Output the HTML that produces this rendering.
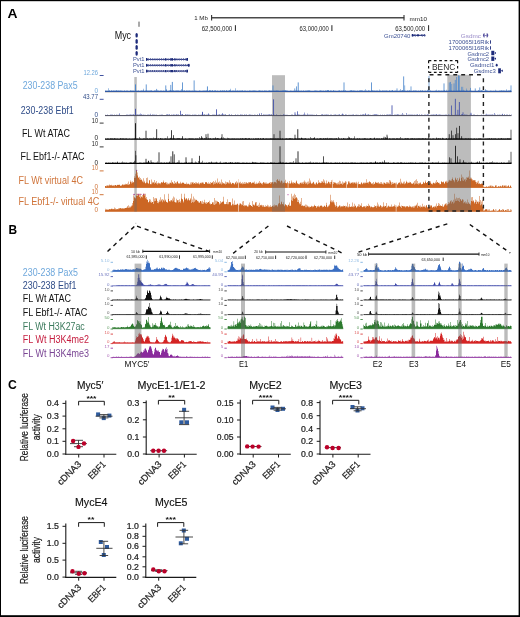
<!DOCTYPE html>
<html><head><meta charset="utf-8"><title>Figure</title>
<style>html,body{margin:0;padding:0;background:#fff;}svg{display:block;filter:blur(0.3px);}text{font-family:"Liberation Sans",sans-serif;}</style>
</head><body>
<svg width="520" height="617" viewBox="0 0 520 617">
<rect x="0" y="0" width="520" height="617" fill="#000"/>
<rect x="1.0" y="1.2" width="517.6" height="614.0" fill="#fff"/>
<text x="7.60" y="17.70" font-size="13.5" fill="#000" font-weight="bold" textLength="10.00" lengthAdjust="spacingAndGlyphs" >A</text>
<text x="194.30" y="20.20" font-size="6.2" fill="#222" textLength="13.50" lengthAdjust="spacingAndGlyphs" >1 Mb</text>
<line x1="211.30" y1="17.70" x2="404.20" y2="17.70" stroke="#4a4a4a" stroke-width="1.6" />
<line x1="211.60" y1="15.00" x2="211.60" y2="20.50" stroke="#333" stroke-width="1.1" />
<line x1="404.00" y1="15.00" x2="404.00" y2="20.50" stroke="#333" stroke-width="1.1" />
<text x="409.60" y="21.00" font-size="6.2" fill="#222" textLength="17.40" lengthAdjust="spacingAndGlyphs" >mm10</text>
<text x="201.70" y="30.70" font-size="6.3" fill="#222" textLength="30.50" lengthAdjust="spacingAndGlyphs" >62,500,000</text>
<line x1="235.40" y1="25.20" x2="235.40" y2="31.00" stroke="#222" stroke-width="1.0" />
<text x="299.50" y="30.70" font-size="6.3" fill="#222" textLength="29.30" lengthAdjust="spacingAndGlyphs" >63,000,000</text>
<line x1="331.90" y1="25.20" x2="331.90" y2="31.00" stroke="#222" stroke-width="1.0" />
<text x="395.30" y="30.70" font-size="6.3" fill="#222" textLength="29.90" lengthAdjust="spacingAndGlyphs" >63,500,000</text>
<line x1="428.60" y1="25.20" x2="428.60" y2="31.00" stroke="#222" stroke-width="1.0" />
<line x1="139.00" y1="21.60" x2="139.00" y2="26.80" stroke="#555" stroke-width="1.0" />
<text x="114.70" y="38.50" font-size="10" fill="#111" textLength="16.40" lengthAdjust="spacingAndGlyphs" >Myc</text>
<rect x="135.5" y="33.0" width="2.3" height="4.6" rx="1.1" ry="1.6" fill="#1c2a7a"/>
<rect x="135.5" y="39.0" width="2.3" height="4.8" rx="1.1" ry="1.6" fill="#1c2a7a"/>
<rect x="135.5" y="45.0" width="2.3" height="4.8" rx="1.1" ry="1.6" fill="#1c2a7a"/>
<rect x="135.5" y="51.0" width="2.3" height="4.7" rx="1.1" ry="1.6" fill="#1c2a7a"/>
<text x="133.00" y="61.40" font-size="6.0" fill="#3d5194" textLength="11.60" lengthAdjust="spacingAndGlyphs" >Pvt1</text>
<line x1="146.00" y1="59.40" x2="188.00" y2="59.40" stroke="#1c2a7a" stroke-width="0.9" />
<path d="M148.50,58.30L147.50,59.40L148.50,60.50" stroke="#1c2a7a" stroke-width="0.75" fill="none"/>
<path d="M150.70,58.30L149.70,59.40L150.70,60.50" stroke="#1c2a7a" stroke-width="0.75" fill="none"/>
<path d="M152.90,58.30L151.90,59.40L152.90,60.50" stroke="#1c2a7a" stroke-width="0.75" fill="none"/>
<path d="M155.10,58.30L154.10,59.40L155.10,60.50" stroke="#1c2a7a" stroke-width="0.75" fill="none"/>
<path d="M157.30,58.30L156.30,59.40L157.30,60.50" stroke="#1c2a7a" stroke-width="0.75" fill="none"/>
<path d="M159.50,58.30L158.50,59.40L159.50,60.50" stroke="#1c2a7a" stroke-width="0.75" fill="none"/>
<path d="M161.70,58.30L160.70,59.40L161.70,60.50" stroke="#1c2a7a" stroke-width="0.75" fill="none"/>
<path d="M163.90,58.30L162.90,59.40L163.90,60.50" stroke="#1c2a7a" stroke-width="0.75" fill="none"/>
<path d="M166.10,58.30L165.10,59.40L166.10,60.50" stroke="#1c2a7a" stroke-width="0.75" fill="none"/>
<path d="M168.30,58.30L167.30,59.40L168.30,60.50" stroke="#1c2a7a" stroke-width="0.75" fill="none"/>
<path d="M170.50,58.30L169.50,59.40L170.50,60.50" stroke="#1c2a7a" stroke-width="0.75" fill="none"/>
<path d="M172.70,58.30L171.70,59.40L172.70,60.50" stroke="#1c2a7a" stroke-width="0.75" fill="none"/>
<path d="M174.90,58.30L173.90,59.40L174.90,60.50" stroke="#1c2a7a" stroke-width="0.75" fill="none"/>
<path d="M177.10,58.30L176.10,59.40L177.10,60.50" stroke="#1c2a7a" stroke-width="0.75" fill="none"/>
<path d="M179.30,58.30L178.30,59.40L179.30,60.50" stroke="#1c2a7a" stroke-width="0.75" fill="none"/>
<path d="M181.50,58.30L180.50,59.40L181.50,60.50" stroke="#1c2a7a" stroke-width="0.75" fill="none"/>
<path d="M183.70,58.30L182.70,59.40L183.70,60.50" stroke="#1c2a7a" stroke-width="0.75" fill="none"/>
<path d="M185.90,58.30L184.90,59.40L185.90,60.50" stroke="#1c2a7a" stroke-width="0.75" fill="none"/>
<rect x="146.00" y="58.00" width="1.40" height="2.80" fill="#1c2a7a" />
<rect x="165.00" y="58.30" width="1.20" height="2.20" fill="#1c2a7a" />
<rect x="170.50" y="58.30" width="2.50" height="2.20" fill="#1c2a7a" />
<rect x="174.50" y="58.40" width="1.00" height="2.00" fill="#1c2a7a" />
<rect x="186.40" y="58.00" width="1.60" height="2.80" fill="#1c2a7a" />
<text x="133.00" y="67.30" font-size="6.0" fill="#3d5194" textLength="11.60" lengthAdjust="spacingAndGlyphs" >Pvt1</text>
<line x1="146.00" y1="65.30" x2="189.60" y2="65.30" stroke="#1c2a7a" stroke-width="0.9" />
<path d="M148.50,64.20L147.50,65.30L148.50,66.40" stroke="#1c2a7a" stroke-width="0.75" fill="none"/>
<path d="M150.70,64.20L149.70,65.30L150.70,66.40" stroke="#1c2a7a" stroke-width="0.75" fill="none"/>
<path d="M152.90,64.20L151.90,65.30L152.90,66.40" stroke="#1c2a7a" stroke-width="0.75" fill="none"/>
<path d="M155.10,64.20L154.10,65.30L155.10,66.40" stroke="#1c2a7a" stroke-width="0.75" fill="none"/>
<path d="M157.30,64.20L156.30,65.30L157.30,66.40" stroke="#1c2a7a" stroke-width="0.75" fill="none"/>
<path d="M159.50,64.20L158.50,65.30L159.50,66.40" stroke="#1c2a7a" stroke-width="0.75" fill="none"/>
<path d="M161.70,64.20L160.70,65.30L161.70,66.40" stroke="#1c2a7a" stroke-width="0.75" fill="none"/>
<path d="M163.90,64.20L162.90,65.30L163.90,66.40" stroke="#1c2a7a" stroke-width="0.75" fill="none"/>
<path d="M166.10,64.20L165.10,65.30L166.10,66.40" stroke="#1c2a7a" stroke-width="0.75" fill="none"/>
<path d="M168.30,64.20L167.30,65.30L168.30,66.40" stroke="#1c2a7a" stroke-width="0.75" fill="none"/>
<path d="M170.50,64.20L169.50,65.30L170.50,66.40" stroke="#1c2a7a" stroke-width="0.75" fill="none"/>
<path d="M172.70,64.20L171.70,65.30L172.70,66.40" stroke="#1c2a7a" stroke-width="0.75" fill="none"/>
<path d="M174.90,64.20L173.90,65.30L174.90,66.40" stroke="#1c2a7a" stroke-width="0.75" fill="none"/>
<path d="M177.10,64.20L176.10,65.30L177.10,66.40" stroke="#1c2a7a" stroke-width="0.75" fill="none"/>
<path d="M179.30,64.20L178.30,65.30L179.30,66.40" stroke="#1c2a7a" stroke-width="0.75" fill="none"/>
<path d="M181.50,64.20L180.50,65.30L181.50,66.40" stroke="#1c2a7a" stroke-width="0.75" fill="none"/>
<path d="M183.70,64.20L182.70,65.30L183.70,66.40" stroke="#1c2a7a" stroke-width="0.75" fill="none"/>
<path d="M185.90,64.20L184.90,65.30L185.90,66.40" stroke="#1c2a7a" stroke-width="0.75" fill="none"/>
<path d="M188.10,64.20L187.10,65.30L188.10,66.40" stroke="#1c2a7a" stroke-width="0.75" fill="none"/>
<rect x="146.00" y="63.90" width="1.40" height="2.80" fill="#1c2a7a" />
<rect x="165.00" y="64.20" width="1.20" height="2.20" fill="#1c2a7a" />
<rect x="170.50" y="64.20" width="2.50" height="2.20" fill="#1c2a7a" />
<rect x="174.50" y="64.30" width="1.00" height="2.00" fill="#1c2a7a" />
<rect x="188.00" y="63.90" width="1.60" height="2.80" fill="#1c2a7a" />
<text x="133.00" y="73.10" font-size="6.0" fill="#3d5194" textLength="11.60" lengthAdjust="spacingAndGlyphs" >Pvt1</text>
<line x1="146.00" y1="71.10" x2="188.00" y2="71.10" stroke="#1c2a7a" stroke-width="0.9" />
<path d="M148.50,70.00L147.50,71.10L148.50,72.20" stroke="#1c2a7a" stroke-width="0.75" fill="none"/>
<path d="M150.70,70.00L149.70,71.10L150.70,72.20" stroke="#1c2a7a" stroke-width="0.75" fill="none"/>
<path d="M152.90,70.00L151.90,71.10L152.90,72.20" stroke="#1c2a7a" stroke-width="0.75" fill="none"/>
<path d="M155.10,70.00L154.10,71.10L155.10,72.20" stroke="#1c2a7a" stroke-width="0.75" fill="none"/>
<path d="M157.30,70.00L156.30,71.10L157.30,72.20" stroke="#1c2a7a" stroke-width="0.75" fill="none"/>
<path d="M159.50,70.00L158.50,71.10L159.50,72.20" stroke="#1c2a7a" stroke-width="0.75" fill="none"/>
<path d="M161.70,70.00L160.70,71.10L161.70,72.20" stroke="#1c2a7a" stroke-width="0.75" fill="none"/>
<path d="M163.90,70.00L162.90,71.10L163.90,72.20" stroke="#1c2a7a" stroke-width="0.75" fill="none"/>
<path d="M166.10,70.00L165.10,71.10L166.10,72.20" stroke="#1c2a7a" stroke-width="0.75" fill="none"/>
<path d="M168.30,70.00L167.30,71.10L168.30,72.20" stroke="#1c2a7a" stroke-width="0.75" fill="none"/>
<path d="M170.50,70.00L169.50,71.10L170.50,72.20" stroke="#1c2a7a" stroke-width="0.75" fill="none"/>
<path d="M172.70,70.00L171.70,71.10L172.70,72.20" stroke="#1c2a7a" stroke-width="0.75" fill="none"/>
<path d="M174.90,70.00L173.90,71.10L174.90,72.20" stroke="#1c2a7a" stroke-width="0.75" fill="none"/>
<path d="M177.10,70.00L176.10,71.10L177.10,72.20" stroke="#1c2a7a" stroke-width="0.75" fill="none"/>
<path d="M179.30,70.00L178.30,71.10L179.30,72.20" stroke="#1c2a7a" stroke-width="0.75" fill="none"/>
<path d="M181.50,70.00L180.50,71.10L181.50,72.20" stroke="#1c2a7a" stroke-width="0.75" fill="none"/>
<path d="M183.70,70.00L182.70,71.10L183.70,72.20" stroke="#1c2a7a" stroke-width="0.75" fill="none"/>
<path d="M185.90,70.00L184.90,71.10L185.90,72.20" stroke="#1c2a7a" stroke-width="0.75" fill="none"/>
<rect x="146.00" y="69.70" width="1.40" height="2.80" fill="#1c2a7a" />
<rect x="165.00" y="70.00" width="1.20" height="2.20" fill="#1c2a7a" />
<rect x="170.50" y="70.00" width="2.50" height="2.20" fill="#1c2a7a" />
<rect x="174.50" y="70.10" width="1.00" height="2.00" fill="#1c2a7a" />
<rect x="186.40" y="69.70" width="1.60" height="2.80" fill="#1c2a7a" />
<text x="384.00" y="37.60" font-size="6.0" fill="#3d5194" textLength="26.40" lengthAdjust="spacingAndGlyphs" >Gm20740</text>
<line x1="411.80" y1="35.30" x2="425.60" y2="35.30" stroke="#1c2a7a" stroke-width="1.0" />
<rect x="411.80" y="34.00" width="1.60" height="2.60" fill="#1c2a7a" />
<path d="M416.4,35.3L418.0,33.9L419.6,35.3L418.0,36.7Z" fill="#1c2a7a"/>
<path d="M415.40,34.0L414.20,35.3L415.40,36.6" stroke="#1c2a7a" stroke-width="0.8" fill="none"/>
<path d="M422.40,34.0L421.20,35.3L422.40,36.6" stroke="#1c2a7a" stroke-width="0.8" fill="none"/>
<path d="M424.80,34.0L423.60,35.3L424.80,36.6" stroke="#1c2a7a" stroke-width="0.8" fill="none"/>
<text x="460.80" y="37.60" font-size="6.0" fill="#9a8cc8" textLength="20.20" lengthAdjust="spacingAndGlyphs" >Gsdmc</text>
<path d="M484.6,33.3L483.9,33.3Q481.9,35.35 483.9,37.4L484.6,37.4Z M486.6,33.3L487.3,33.3Q489.3,35.35 487.3,37.4L486.6,37.4Z" fill="#55509f"/>
<rect x="484.60" y="35.00" width="2.00" height="0.70" fill="#55509f" />
<text x="448.60" y="43.80" font-size="6.0" fill="#3d5194" textLength="40.40" lengthAdjust="spacingAndGlyphs" >1700065I16Rik</text>
<rect x="490.00" y="40.30" width="0.90" height="3.40" fill="#1c2a7a" />
<text x="448.60" y="49.70" font-size="6.0" fill="#3d5194" textLength="40.40" lengthAdjust="spacingAndGlyphs" >1700065I16Rik</text>
<rect x="490.00" y="46.20" width="0.90" height="3.40" fill="#1c2a7a" />
<text x="467.50" y="55.60" font-size="6.0" fill="#3d5194" textLength="21.50" lengthAdjust="spacingAndGlyphs" >Gsdmc2</text>
<rect x="491.30" y="50.80" width="3.00" height="4.40" fill="#1c2a7a" />
<path d="M494.2,53.00L496.0,51.90L496.0,54.10Z" fill="#1c2a7a"/>
<text x="467.50" y="61.30" font-size="6.0" fill="#3d5194" textLength="21.50" lengthAdjust="spacingAndGlyphs" >Gsdmc2</text>
<rect x="491.30" y="56.50" width="3.00" height="4.40" fill="#1c2a7a" />
<path d="M494.2,58.70L496.0,57.60L496.0,59.80Z" fill="#1c2a7a"/>
<text x="470.00" y="67.20" font-size="6.0" fill="#3d5194" textLength="24.40" lengthAdjust="spacingAndGlyphs" >Gsdmcl1</text>
<ellipse cx="496.7" cy="65.2" rx="1.0" ry="1.4" fill="#1c2a7a"/>
<text x="473.70" y="73.40" font-size="6.0" fill="#3d5194" textLength="22.10" lengthAdjust="spacingAndGlyphs" >Gsdmc3</text>
<rect x="498.20" y="68.30" width="2.70" height="5.00" fill="#1c2a7a" />
<path d="M500.8,70.8L502.8,69.6L502.8,72.0Z" fill="#1c2a7a"/>
<line x1="428.60" y1="60.60" x2="457.80" y2="60.60" stroke="#111" stroke-width="1.2" stroke-dasharray="2.7,2.6" />
<line x1="428.60" y1="72.40" x2="457.80" y2="72.40" stroke="#111" stroke-width="1.2" stroke-dasharray="2.7,2.6" />
<line x1="428.60" y1="60.60" x2="428.60" y2="72.40" stroke="#111" stroke-width="1.2" stroke-dasharray="2.7,2.6" />
<line x1="457.60" y1="60.60" x2="457.60" y2="72.40" stroke="#111" stroke-width="1.2" stroke-dasharray="2.7,2.6" />
<text x="432.00" y="70.00" font-size="8.9" fill="#2a2a2a" textLength="23.40" lengthAdjust="spacingAndGlyphs" >BENC</text>
<text x="22.70" y="88.90" font-size="10" fill="#6fa8dc" textLength="54.90" lengthAdjust="spacingAndGlyphs" >230-238 Pax5</text>
<text x="20.65" y="113.60" font-size="10" fill="#2f4c88" textLength="53.10" lengthAdjust="spacingAndGlyphs" >230-238 Ebf1</text>
<text x="21.90" y="136.50" font-size="10" fill="#111" textLength="48.10" lengthAdjust="spacingAndGlyphs" >FL Wt ATAC</text>
<text x="20.50" y="160.30" font-size="10" fill="#111" textLength="64.10" lengthAdjust="spacingAndGlyphs" >FL Ebf1-/- ATAC</text>
<text x="18.50" y="184.30" font-size="10" fill="#d0743a" textLength="64.50" lengthAdjust="spacingAndGlyphs" >FL Wt virtual 4C</text>
<text x="18.50" y="205.40" font-size="10" fill="#d0743a" textLength="80.80" lengthAdjust="spacingAndGlyphs" >FL Ebf1-/- virtual 4C</text>
<text x="98.00" y="74.90" font-size="6.8" fill="#6fa8dc" text-anchor="end" textLength="14.60" lengthAdjust="spacingAndGlyphs" >12.26</text>
<line x1="99.70" y1="75.50" x2="103.60" y2="75.50" stroke="#2b3f95" stroke-width="0.9" />
<text x="98.00" y="92.60" font-size="6.8" fill="#6fa8dc" text-anchor="end" textLength="3.60" lengthAdjust="spacingAndGlyphs" >0</text>
<text x="98.00" y="98.70" font-size="6.8" fill="#2f4c88" text-anchor="end" textLength="15.00" lengthAdjust="spacingAndGlyphs" >43.77</text>
<line x1="99.70" y1="99.30" x2="103.60" y2="99.30" stroke="#2b3f95" stroke-width="0.9" />
<text x="98.00" y="116.50" font-size="6.8" fill="#2f4c88" text-anchor="end" textLength="3.60" lengthAdjust="spacingAndGlyphs" >0</text>
<text x="98.00" y="122.50" font-size="6.8" fill="#222" text-anchor="end" textLength="6.20" lengthAdjust="spacingAndGlyphs" >10</text>
<line x1="99.70" y1="123.10" x2="103.60" y2="123.10" stroke="#222" stroke-width="0.9" />
<text x="98.00" y="140.40" font-size="6.8" fill="#222" text-anchor="end" textLength="3.60" lengthAdjust="spacingAndGlyphs" >0</text>
<text x="98.00" y="146.30" font-size="6.8" fill="#222" text-anchor="end" textLength="6.20" lengthAdjust="spacingAndGlyphs" >10</text>
<line x1="99.70" y1="146.90" x2="103.60" y2="146.90" stroke="#222" stroke-width="0.9" />
<text x="98.00" y="164.50" font-size="6.8" fill="#222" text-anchor="end" textLength="3.60" lengthAdjust="spacingAndGlyphs" >0</text>
<text x="98.00" y="170.30" font-size="6.8" fill="#d0743a" text-anchor="end" textLength="6.20" lengthAdjust="spacingAndGlyphs" >10</text>
<line x1="99.70" y1="170.90" x2="103.60" y2="170.90" stroke="#cc6624" stroke-width="0.9" />
<text x="98.00" y="188.50" font-size="6.8" fill="#d0743a" text-anchor="end" textLength="3.60" lengthAdjust="spacingAndGlyphs" >0</text>
<text x="98.00" y="194.10" font-size="6.8" fill="#d0743a" text-anchor="end" textLength="6.20" lengthAdjust="spacingAndGlyphs" >10</text>
<line x1="99.70" y1="194.70" x2="103.60" y2="194.70" stroke="#cc6624" stroke-width="0.9" />
<text x="98.00" y="212.40" font-size="6.8" fill="#d0743a" text-anchor="end" textLength="3.60" lengthAdjust="spacingAndGlyphs" >0</text>
<rect x="134.30" y="77.00" width="2.50" height="89.00" fill="#bcbcbc" />
<rect x="272.00" y="75.20" width="13.00" height="90.80" fill="#bcbcbc" />
<rect x="447.30" y="74.80" width="23.60" height="91.20" fill="#bcbcbc" />
<path d="M105 91.4V90.9H105.5V90.4H106V90.8H106.5V91.2H107V90.7H107.5V91.3H108.5V88.3H109V90.3H109.5V90.7H110V91.4H110.5V91.3H111V90H111.5V90.9H112V90.8H112.5V90.9H113.5V90.3H114V90.5H114.5V91.1H115.5V90.6H116V90.5H116.5V90.3H117V91.4H117.5V90.4H118V90.3H118.5V91.3H119V90.5H119.5V91.3H120V90.3H120.5V91.3H121.5V90.5H122V90.8H122.5V91.2H123V91.3H124V91.2H124.5V90.3H125V91.1H125.5V91.2H126V90.5H126.5V91.3H127V91.2H127.5V90.6H128V91.1H128.5V91.3H129V91.1H129.5V91H130V90.3H130.5V90.8H131V91.2H131.5V90.4H132V91.1H132.5V90.6H133V91.2H133.5V90.4H134V90.9H134.5V91.4H135V91.1H136V90.7H136.5V91.2H137V91.3H137.5V90.8H138V90.7H138.5V90.4H139V91.4H139.5V90.9H140V91.2H140.5V90.8H141V91H141.5V90.3H142V90.6H142.5V91.2H143V90.4H143.5V88.8H144V90.9H144.5V91H145V91.3H145.5V90.6H146.5V90.5H147V91H147.5V90.4H148V90.9H148.5V90.5H149V90.7H149.5V90.8H150V91.3H150.5V90.3H151V90.6H152V90.9H152.5V91.3H153V91.4H153.5V90.9H154V90.6H154.5V90.7H155V90.4H155.5V90.7H156V91.2H156.5V90.7H157V90.4H157.5V90.7H158V90.9H158.5V90.4H159V91H159.5V91.1H160V90.9H160.5V90.5H161V90.4H161.5V91.2H162V91.1H162.5V90.9H163.5V90.5H164V90.9H164.5V91.4H165.5V90.8H166V90.2H166.5V88.9H167V91.1H167.5V91.3H168V90.9H168.5V90.7H169V90.3H169.5V91.2H170V90.1H170.5V90.6H171V91.1H171.5V90.6H172V90.7H172.5V91H173V90.4H174V91.3H174.5V90.7H175V91H175.5V90.4H176.5V90.7H177V90.6H177.5V90.7H178V91.2H178.5V90.3H179V90.8H179.5V91H180V90.5H180.5V91.3H181V90.8H181.5V88.9H182V91.3H182.5V91.2H183V90.5H183.5V91.2H184V90.6H185V90.9H185.5V91.3H186V90.8H186.5V90.6H187V90.8H188V91H188.5V90.4H189V90.5H189.5V90.8H190V91.2H190.5V90.8H191V91.4H191.5V90.8H192V90.5H192.5V90.9H193V91.3H193.5V90.9H194V90.4H194.5V90.9H195.5V90.4H196V91.1H196.5V90.7H197V91.3H197.5V91.4H198V91.2H198.5V91H199V90.7H199.5V90.6H200V90.8H200.5V91.2H201V90.9H202V91.2H202.5V90.7H203V90.8H203.5V90.7H204V91.1H204.5V90.5H205V91.1H205.5V90.4H206V90.3H206.5V91.3H207V90.6H207.5V91.3H208V90.9H208.5V91.3H209V90.2H209.5V90.6H210V90.3H210.5V90.8H211.5V91.2H212V89.9H212.5V90.8H213V91.2H214V90.3H214.5V91.3H215V90.4H215.5V90.6H216V90.9H217V91.4H217.5V90.5H218V90.9H218.5V91H219V91.2H219.5V91.4H220V90.5H221V91H221.5V90.8H222V90.5H222.5V90.4H223V90.5H223.5V91H224V90.4H224.5V90.6H225V91H225.5V91.3H226V90H226.5V90.7H227V91.1H227.5V90.7H228.5V90.8H229V90.3H229.5V90.6H230V88.8H230.5V90.6H231V91H231.5V91.2H232V91.3H232.5V90.4H233V90.8H234V90.7H234.5V91.3H235V88.3H235.5V91.2H236.5V90.7H237V90.4H237.5V90.8H238V91H238.5V90.7H239V91.1H239.5V90.5H240V91.4H240.5V90.6H241V90.4H241.5V91.3H242V90.4H243V90.9H243.5V91.1H244V90.4H244.5V90.9H245V90.5H245.5V91.3H246V90.9H246.5V91.3H247.5V90.7H248V91.1H248.5V90.9H249V90.8H249.5V90.4H250V91.1H250.5V90.4H251V90.7H251.5V91.1H252V90.8H252.5V90.7H253V91.2H253.5V90.3H254.5V91.1H255V90.7H255.5V90.8H256V91.3H256.5V90.8H257V91H257.5V91.2H258V90.6H258.5V91.3H259V90.5H259.5V90.6H260V90.9H260.5V90.5H261V90.7H261.5V91H262V90.6H262.5V90.9H263V91.3H264V90.8H264.5V90.6H265V90.5H265.5V91.2H266V91.3H266.5V90.6H267V91.1H267.5V91H268.5V90.6H269V90.4H270V90.5H270.5V91.1H271V90.4H271.5V91.1H272V91H273V91.2H273.5V90.5H274.5V91.2H275V90.4H275.5V91.4H276V90.8H276.5V90.3H277V90.5H277.5V90.8H278V91.3H278.5V90.6H279V91.3H279.5V91.2H280V90.7H280.5V91.2H281V90.8H281.5V91H282V90.3H282.5V90.9H283V90.6H283.5V90.4H284V90.5H285.5V90.3H286V90.8H286.5V90.5H287V90.9H287.5V90.6H288V91H288.5V91.2H289V91.1H289.5V91.3H290.5V90.5H291V91.3H291.5V90.8H292V91.4H292.5V91.2H293V91.1H293.5V90.7H294V91.2H295V91.1H295.5V90.5H296V91.1H296.5V90.4H297V90.8H297.5V90.9H298V91.3H298.5V90.5H299V90.8H299.5V91.1H300V90.7H300.5V91.4H301V91H301.5V90.6H302V91.2H302.5V91H303V90.4H303.5V90.7H304V91.1H304.5V91.2H305V91.4H305.5V90.5H306V91.3H306.5V90.6H307V90.9H307.5V90.3H308V90.5H309V90.4H309.5V90.5H310V90.8H310.5V91.2H311V91.1H311.5V91.3H312V90.9H312.5V91H313V91.3H313.5V90.9H314V90.5H314.5V91.4H315V90.6H315.5V90.8H316V91.4H316.5V90.5H317V90.7H317.5V91H318V91.1H318.5V91H319V91.1H319.5V90.6H320V90.4H320.5V90.6H321V90.5H321.5V91.2H322V90.7H322.5V91.2H323V90.5H323.5V91.3H324V91.2H324.5V91H325V90.4H325.5V90.8H326V90.6H326.5V91H327V90H327.5V90.6H328V90.5H328.5V89.9H329V91H329.5V91.3H330V90.8H330.5V90.5H331V91.2H331.5V90.4H332V91H332.5V91.2H333V90.3H333.5V90.6H334V91.2H334.5V90.7H335V91.3H335.5V90.8H336V91H337V91.3H338V90.8H339V90.4H339.5V90.5H340V91.3H340.5V91.1H341.5V90.5H342V90.8H342.5V91.4H343V90.3H343.5V90.7H344.5V91H345V90H345.5V90.9H346V91H346.5V91.2H347V91.1H347.5V91H348V91.4H348.5V91.2H349V90.7H349.5V90.9H350V90.6H351V90.3H351.5V90.5H352V90.9H352.5V90.4H353V90.8H353.5V90.4H354V91.3H354.5V90.4H355V90.7H355.5V91.1H356V91.3H356.5V90.9H357V91H357.5V90.6H358V91.1H358.5V91H359V91.3H359.5V90.3H360V90.4H360.5V90.5H361V90.6H361.5V90.4H362V90.5H362.5V90.8H363V91.4H363.5V91.1H364V91.3H364.5V90.5H365V91H365.5V89.2H366V91.1H366.5V90.4H367V90.9H367.5V91.1H368V90.4H368.5V90.5H369V90.9H369.5V90.4H370V91.2H371V91.3H371.5V90.6H372V90.4H372.5V90.6H373.5V90.9H374V91.2H374.5V90.6H375V91.2H375.5V90.7H376V91H376.5V90.4H377V91.1H377.5V90.4H378V91.1H378.5V91.3H379V90.9H379.5V89.4H380V91.1H380.5V90.5H381V91.1H382V90.8H382.5V90.4H383V91.4H383.5V90.6H384V90.4H384.5V91.2H385V90.7H386V90.8H386.5V90.5H387V90.8H387.5V91.2H388.5V91.1H389V90.5H390V90.9H390.5V90.8H391V91.4H391.5V90.6H392V90.4H392.5V90H393V90.9H393.5V91.1H394V91.3H394.5V90.8H395V90.5H395.5V91.2H396V91.4H396.5V90.7H397V91.1H397.5V91.3H398V91.2H399V90.5H399.5V91.3H400V91H400.5V89.1H401V90.6H401.5V91.2H402V90H402.5V90.4H403V91H403.5V90.9H404V91.4H404.5V90.6H405V91.1H405.5V90.8H406V90.9H406.5V91H407V90.3H407.5V91.4H408V90.7H408.5V91H409V90.4H410V91H411V91.2H413V91.1H413.5V90.3H414V90.5H414.5V91H415V90.6H415.5V90.7H416V91.1H416.5V90.4H417V91.1H417.5V91.2H418V91H418.5V90.6H419V91.4H419.5V91H420V90.4H420.5V90.6H421V91.3H421.5V90.8H422V90H422.5V90.9H423V91.3H423.5V91.1H424V90.7H424.5V91.2H425V90.6H425.5V91H426V91.2H426.5V91H427V89.8H427.5V90.8H428V90.3H428.5V90.7H429V91.2H429.5V90.7H430V90.4H430.5V90.7H431V90.9H431.5V91.3H432V91H432.5V91.1H433V91H433.5V91.2H434V91.1H434.5V91H435V91.2H435.5V90.6H436V89.7H436.5V91H437.5V90.9H438.5V90.3H439V90.4H439.5V91.1H440V91.2H440.5V90.7H441V91H441.5V90.4H442V90.7H442.5V90.9H443V91.1H443.5V90.4H444V90.1H444.5V90.8H445V91H445.5V91.2H446V91.1H446.5V89.8H447V91H447.5V90.9H448V90.8H449V90.3H449.5V91H450V91.1H450.5V90.6H451V90.3H451.5V91.2H452V90.9H452.5V91H453V90.6H453.5V91.1H454V91H454.5V90.8H455V91.3H456.5V90.6H457V91.2H457.5V90.4H458V91.1H458.5V90.5H459V90.6H460V91H460.5V90.5H461V90.8H461.5V90.6H462V90.5H462.5V91.3H463V90.7H463.5V89.8H464V90.4H464.5V91.3H465V90.9H465.5V91H466V88.6H466.5V90.6H467.5V91.3H468V91.4H468.5V90.9H469V91.1H469.5V90.5H470V91H470.5V90.6H471V91H471.5V90.8H472V91.2H472.5V91.3H473V91.1H473.5V91.3H474V91.4H474.5V91.2H475V91.1H475.5V90.9H476V91.1H476.5V91.3H477V91.1H477.5V91.2H478V90.3H478.5V90.4H479V90.9H479.5V91H480V90.8H480.5V90.7H481V90.4H481.5V90.3H482V90.5H482.5V90.8H483V91.3H483.5V91H484V91.1H484.5V91.4H485V89.1H485.5V90.5H486V90.6H486.5V90.5H487V90.6H487.5V91.3H488V91H488.5V91.1H489V91.4H489.5V91.2H490V91H490.5V90.5H491V90.7H491.5V91.1H492V91H493V91.2H493.5V90.8H494V91.2H495V89.7H495.5V91H496V90.8H496.5V91.2H497V91H497.5V91.3H498V90.9H498.5V91.2H499V90.6H499.5V91.1H500V90.4H500.5V91.2H501V90.3H501.5V90.7H503V90.5H503.5V90.8H504V91.3H504.5V90.6H505V90.7H505.5V91H506V90.7H506.5V89.3H507V90.9H507.5V90.7H508V91.2H508.5V90.3H509V91.1H509.5V90.3H510V90.4H510.5V90.3H511V91.1H511.5V91.4Z" fill="#4a86cc"/>
<rect x="135.01" y="84.40" width="0.98" height="7.00" fill="#4a86cc"/>
<rect x="145.79" y="84.40" width="0.83" height="7.00" fill="#4a86cc"/>
<rect x="156.32" y="88.90" width="0.75" height="2.50" fill="#4a86cc"/>
<rect x="165.39" y="85.40" width="0.83" height="6.00" fill="#4a86cc"/>
<rect x="170.43" y="84.90" width="0.75" height="6.50" fill="#4a86cc"/>
<rect x="171.85" y="81.90" width="0.90" height="9.50" fill="#4a86cc"/>
<rect x="182.09" y="82.40" width="0.83" height="9.00" fill="#4a86cc"/>
<rect x="193.69" y="80.40" width="0.83" height="11.00" fill="#4a86cc"/>
<rect x="206.95" y="86.40" width="0.90" height="5.00" fill="#4a86cc"/>
<rect x="272.59" y="85.40" width="0.83" height="6.00" fill="#4a86cc"/>
<rect x="294.43" y="88.40" width="0.75" height="3.00" fill="#4a86cc"/>
<rect x="296.23" y="86.40" width="0.75" height="5.00" fill="#4a86cc"/>
<rect x="297.75" y="82.40" width="0.90" height="9.00" fill="#4a86cc"/>
<rect x="343.59" y="82.40" width="0.83" height="9.00" fill="#4a86cc"/>
<rect x="371.09" y="82.40" width="0.83" height="9.00" fill="#4a86cc"/>
<rect x="396.62" y="88.40" width="0.75" height="3.00" fill="#4a86cc"/>
<rect x="403.29" y="76.40" width="0.83" height="15.00" fill="#4a86cc"/>
<rect x="404.50" y="85.40" width="0.60" height="6.00" fill="#4a86cc"/>
<rect x="410.62" y="86.40" width="0.75" height="5.00" fill="#4a86cc"/>
<rect x="428.66" y="75.90" width="0.68" height="15.50" fill="#4a86cc"/>
<rect x="443.59" y="83.40" width="0.83" height="8.00" fill="#4a86cc"/>
<rect x="448.82" y="82.40" width="0.75" height="9.00" fill="#4a86cc"/>
<rect x="450.23" y="81.90" width="0.75" height="9.50" fill="#4a86cc"/>
<rect x="451.50" y="83.90" width="0.60" height="7.50" fill="#4a86cc"/>
<rect x="453.62" y="83.40" width="0.75" height="8.00" fill="#4a86cc"/>
<rect x="454.82" y="79.90" width="0.75" height="11.50" fill="#4a86cc"/>
<rect x="456.32" y="76.90" width="0.75" height="14.50" fill="#4a86cc"/>
<rect x="458.09" y="75.40" width="0.83" height="16.00" fill="#4a86cc"/>
<rect x="459.10" y="75.90" width="0.60" height="15.50" fill="#4a86cc"/>
<rect x="461.40" y="86.80" width="0.60" height="4.60" fill="#4a86cc"/>
<rect x="462.50" y="86.80" width="0.60" height="4.60" fill="#4a86cc"/>
<rect x="470.23" y="87.90" width="0.75" height="3.50" fill="#4a86cc"/>
<rect x="474.82" y="88.40" width="0.75" height="3.00" fill="#4a86cc"/>
<rect x="479.43" y="87.40" width="0.75" height="4.00" fill="#4a86cc"/>
<rect x="510.62" y="85.40" width="0.75" height="6.00" fill="#4a86cc"/>
<line x1="105.00" y1="91.40" x2="511.50" y2="91.40" stroke="#2b55a5" stroke-width="1.3" />
<line x1="105.00" y1="92.40" x2="511.50" y2="92.40" stroke="#b0a8a0" stroke-width="0.5" />
<path d="M105 115.3V114.9H105.5V114.7H106V115.3H106.5V115.1H107V114.7H107.5V114.8H108V115.2H110V115H110.5V114.4H111V114.5H111.5V115.2H112V114.4H112.5V114.9H113V115H113.5V115.2H114V115.3H114.5V114.6H115V114.9H116V115.3H116.5V114.4H117V114.7H117.5V115H118V114.7H118.5V115.1H119V114.8H119.5V113.2H120V114.9H120.5V115.1H121V115H121.5V115.2H122V115.1H122.5V115.3H123V115H123.5V115.3H124V115.1H124.5V114.9H125.5V115.1H126V115H126.5V114.6H127V115.3H127.5V114.6H128V115H128.5V114.7H129V114.4H129.5V115.3H130V114.6H130.5V114.7H131V114.8H131.5V114.7H132V114.4H132.5V115.2H133V114.5H134V114.7H134.5V115.1H135.5V114.7H136V114.5H136.5V115.1H137V114.4H137.5V114.7H138V114.4H138.5V114.9H139V114.5H139.5V114.8H140V115H140.5V113.4H141V114.5H142V114.8H142.5V115H143.5V114.5H144V114.8H144.5V115.2H145V114.7H145.5V115.1H146V115H146.5V115.2H147V115H147.5V114.6H148V114.5H148.5V115.3H149V114.9H149.5V114.7H150V115.1H150.5V113.7H151V115H151.5V114.9H152V114.5H152.5V114.7H153V114.9H153.5V114.5H154V114.9H154.5V114.6H155V114.8H155.5V114.9H156V114.7H156.5V114.8H157V115H158.5V115.2H159V114.8H159.5V115.3H160V115H160.5V114.8H161V114.5H161.5V115H162V114.7H162.5V114.8H163V114.9H163.5V115.1H164V115H164.5V114.9H165V115.1H166V114.8H166.5V114.5H167V114.6H168V115.2H168.5V114.6H169V113.9H169.5V115.3H170V115.2H170.5V115H171V115.1H171.5V114.5H172V115.2H172.5V114.8H173.5V114.6H174V114.7H175V114.9H175.5V114.7H176V114.5H177V114.4H177.5V114.9H178V114.8H178.5V114.5H179V115.2H180V115.3H180.5V115.2H181V114.7H181.5V114.4H182V114H182.5V114.5H183V115.1H183.5V114.9H184V115H184.5V115.2H185V114.4H185.5V114.6H186V115H186.5V114.5H187V114.2H187.5V114.9H188V114.6H188.5V115H189V114.5H189.5V114.9H190V114.7H190.5V115H191.5V115.2H192V114.4H192.5V115.1H193V115.2H193.5V114.7H194V114.8H195V115H195.5V114.4H196V114.8H196.5V115.1H197.5V115H198V114.5H198.5V115H199V114.9H199.5V114.7H200.5V115.1H201V114.4H201.5V115.1H202V115H202.5V115.1H203V114.7H203.5V114.8H204V114.4H204.5V114.5H205V114.9H205.5V114.7H206V115.1H206.5V114.6H207V114.7H208V113.3H208.5V114.6H209V114.4H209.5V115.2H210V114.9H210.5V115.1H211V115.3H211.5V115.2H212.5V114.6H213V114.9H213.5V114.5H214V115.1H214.5V114.5H215V114.8H215.5V115.1H216V114.6H217V114.8H217.5V115.2H218V115.1H218.5V114.5H219V113.9H219.5V115H220V115.2H220.5V114.8H221V114.5H221.5V114.8H222V114.5H222.5V112.9H223V114.8H223.5V114.4H224V114.9H224.5V114.6H225.5V114.5H226V115H226.5V115.2H227V115.3H227.5V115.2H228.5V114.8H229V114.6H229.5V114.4H230V114.9H230.5V115H231V114.7H231.5V114.6H232V115H232.5V114.9H233V115.3H233.5V115H234V114.9H234.5V115H235V114.8H235.5V114.4H236V115H237V115.2H237.5V114.5H238V114.7H238.5V115.2H239.5V114.9H240V114.7H240.5V114.6H241V114.5H241.5V115.3H242V114.5H242.5V114.9H243V115.1H243.5V115.2H244V114.5H244.5V114.8H245V114.9H245.5V114.7H246V114.5H246.5V114.8H247V114.9H247.5V115.2H248V114.9H248.5V114.7H249V114.4H249.5V114.8H250V114.9H250.5V114.4H251V114.7H251.5V115.2H252V115.1H252.5V114.8H253V115.1H253.5V114.9H254V115.2H254.5V114.5H255V114.7H255.5V115.2H256V114.9H256.5V115.2H257V114.8H257.5V114.5H258V115.2H258.5V115.1H259V114.5H259.5V113.3H260V115.2H260.5V114.9H261V115.1H261.5V113H262V115.2H262.5V115.1H263V114.5H263.5V114.8H264V115.1H264.5V114.6H265V115.3H265.5V114.4H266V115.2H266.5V114.5H267V114.7H268V114.8H268.5V114.5H269V114.4H270.5V115.1H271V114.5H271.5V114.6H272V115.3H273V114.5H274V114.9H274.5V114.7H275V115.2H276V114.7H276.5V114.6H277V115H277.5V115.3H278V115H279V115.1H279.5V115.2H280V114.7H280.5V115.3H281V115H282V114.9H282.5V115.2H283V114.5H283.5V114.4H284V114.6H284.5V115.2H285V114.7H285.5V115.2H286V114.8H286.5V115.1H287V114.7H287.5V115.2H288V115H288.5V115.2H289V114.9H289.5V115.1H290V114.9H290.5V115.2H291V115.3H291.5V114.6H292V114.4H292.5V114.9H293V115.2H293.5V115.3H294V114.7H294.5V115.2H295V114.4H295.5V114.8H296V114.9H296.5V114.8H297V114.9H297.5V114.8H298V114.6H298.5V114.7H299V114.9H299.5V114.6H300V115.2H300.5V114.7H301V114.8H301.5V114.9H302V114.8H302.5V114.9H303V114.7H303.5V114.4H304V114.7H304.5V112.6H305V115.2H305.5V114.6H306V114.7H306.5V114.9H307.5V113.4H308V114.7H308.5V114.8H309V115.2H309.5V114.5H310.5V115H311V115.3H311.5V114.6H312V115.1H312.5V114.4H313V114.7H313.5V115H314V114.7H314.5V115.1H315.5V114.9H316V114.5H316.5V114.7H317V115.2H317.5V114.9H318V115H319V114.9H319.5V115.2H320V115.1H320.5V115.2H321V114.5H321.5V114.8H322V114.6H322.5V114.4H323V114.8H323.5V115H324V115.3H324.5V114.5H325V114.8H325.5V114.7H326V114.6H326.5V114.8H327V114.5H327.5V115.1H328V115H328.5V114.6H329V115.2H329.5V115H330V114.9H330.5V114.6H331.5V115.2H332.5V114.9H333V114.7H333.5V115.2H334V115.1H334.5V114.6H335V114.8H335.5V114.5H336V114.8H336.5V115.1H337V114.7H337.5V115H338V114.5H338.5V115.1H339V114.5H340V115H340.5V115.1H341V115.2H341.5V114.6H342.5V113.6H343V114.6H343.5V114.7H344V114.9H344.5V115H345V114.8H345.5V114.6H346.5V114.9H347.5V115H348.5V114.7H349V114.8H349.5V115.1H350V114.9H350.5V114.8H351V114.7H351.5V115H352V114.4H352.5V115H353V114.8H353.5V114.5H354V115.1H354.5V115.2H355V114.8H355.5V114.9H356V115.1H356.5V114.5H357V115H357.5V114.7H358V115.2H358.5V114.7H359V115.2H359.5V114.9H360V114.5H360.5V114.9H361V114.7H361.5V115.1H362V114.8H362.5V114.5H363V114.6H364.5V115.2H365V114.5H365.5V113.2H366V114.9H366.5V114.8H367V114.5H367.5V115.2H368V114.5H369V114.7H369.5V115.3H370.5V114.8H371V115H372V115.3H372.5V114.7H373V115.3H373.5V114.5H374V114.6H374.5V114.4H375V114.6H376V114.5H377V115H377.5V114.5H378V114.8H378.5V115.3H379V115.2H379.5V115.1H380V115.2H380.5V114.6H381V115.2H381.5V115.3H382V114.7H383V115.2H383.5V115.1H384V114.9H384.5V114.6H385V114.9H385.5V115.1H386V114.9H386.5V114.5H387V114.4H387.5V114.8H388V114.6H388.5V115.3H389V114.7H389.5V114.6H390V114.5H390.5V114.7H391V115H391.5V115.2H392V115.1H393V114.9H393.5V115.2H394V114.5H394.5V115.2H395V114.4H395.5V115H396.5V114.5H397V114.4H397.5V114.5H398.5V114.8H399.5V115.2H400V115.3H400.5V114.7H401V114.6H401.5V115H402V112.9H402.5V115.2H403V114.8H404V114.7H404.5V115.1H405.5V115.3H406V112.9H406.5V115.2H407V114.8H407.5V115H408V114.6H408.5V115.1H409.5V114.5H410V115.1H410.5V114.5H411V114.7H411.5V114.8H412V114.5H412.5V115.1H413V115.2H413.5V114.7H414V114.8H414.5V114.7H415.5V115.2H416V114.7H416.5V114.8H417V114.5H417.5V114.6H418V115H419V114.5H419.5V114.7H420V115.2H420.5V115H421V114.8H421.5V114.6H422V114.8H422.5V115.1H423V114.9H423.5V115.2H424V114.8H424.5V114.7H425V115H425.5V114.6H426V115.1H426.5V114.7H427V114.4H428V114.8H428.5V114.6H429V115H429.5V115.2H430V114.8H430.5V115.3H431V115.1H431.5V114.4H432V114.9H432.5V114.5H433V114.7H433.5V114.5H434V115.1H434.5V114.5H435V115H435.5V114.6H436.5V114.3H437V114.9H437.5V114.7H438V114.5H438.5V114.9H439V114.8H439.5V114.6H440V115.1H440.5V114.4H441V114.7H441.5V114.9H442V114.7H442.5V115H443V115.3H443.5V114.7H444V114.8H444.5V115H445V114.6H445.5V115.2H446V115H446.5V114.5H447V114.9H447.5V115.2H448V114.7H448.5V114.6H449V115.1H449.5V114.8H450V114.9H450.5V115.3H451V114.5H451.5V115.1H452V114.7H452.5V115H453V115.1H453.5V115.2H454V115H454.5V114.8H455V115.2H456V115H456.5V114.6H457V114.7H457.5V114.9H458V115H458.5V114.7H459.5V114.6H460V115.2H461V114.6H462V114.7H462.5V113.9H463V115H464V114.7H464.5V114.4H465.5V115.1H466V114.7H467V114.8H467.5V115H468V115.2H468.5V115.3H469V115.2H469.5V114.8H470V114.6H470.5V115.1H471V114.9H471.5V114.6H472V115H473V114.5H473.5V115.3H474V114.6H474.5V115.1H475V114.9H475.5V115.1H476V114.9H476.5V115.1H477V114.9H477.5V114.7H478V115.3H478.5V114.9H479V115.2H480V115.3H480.5V115H481V115.2H481.5V114.6H482V115.2H482.5V115H483V114.7H484V115.1H484.5V115.2H485V114.5H485.5V115.1H486.5V113.8H487V115.1H487.5V114.5H488V114.6H488.5V115H489V114.6H489.5V115H490V115.1H490.5V114.4H491V114.6H491.5V115H492V114.6H492.5V114.8H493V114.7H493.5V115.2H494V115.1H494.5V113H495V114.5H495.5V115.1H496V115.3H496.5V115H497V115.2H497.5V114.6H498V114.9H498.5V114.7H499V115.1H499.5V114.6H500V114.7H500.5V115.2H501.5V114.8H502V114.5H502.5V113.8H503V115.1H503.5V115.2H504V114.5H504.5V114.6H505V115.2H505.5V115.1H506V115H506.5V114.6H507V115.1H507.5V114.6H508V115.2H508.5V115.1H509V114.9H509.5V114.6H510V115.2H510.5V114.9H511V114.4H511.5V115.3Z" fill="#3b4aa8"/>
<rect x="135.05" y="108.80" width="0.90" height="6.50" fill="#3b4aa8"/>
<rect x="180.03" y="110.80" width="0.75" height="4.50" fill="#3b4aa8"/>
<rect x="202.22" y="111.80" width="0.75" height="3.50" fill="#3b4aa8"/>
<rect x="202.12" y="112.30" width="0.75" height="3.00" fill="#3b4aa8"/>
<rect x="216.09" y="109.30" width="0.83" height="6.00" fill="#3b4aa8"/>
<rect x="273.19" y="99.30" width="0.83" height="16.00" fill="#3b4aa8"/>
<rect x="294.62" y="112.30" width="0.75" height="3.00" fill="#3b4aa8"/>
<rect x="297.12" y="111.30" width="0.75" height="4.00" fill="#3b4aa8"/>
<rect x="391.59" y="105.30" width="0.83" height="10.00" fill="#3b4aa8"/>
<rect x="451.12" y="105.50" width="0.75" height="9.80" fill="#3b4aa8"/>
<rect x="454.89" y="98.80" width="0.83" height="16.50" fill="#3b4aa8"/>
<rect x="457.52" y="109.80" width="0.75" height="5.50" fill="#3b4aa8"/>
<rect x="458.89" y="102.00" width="0.83" height="13.30" fill="#3b4aa8"/>
<rect x="462.62" y="112.30" width="0.75" height="3.00" fill="#3b4aa8"/>
<rect x="470.62" y="112.80" width="0.75" height="2.50" fill="#3b4aa8"/>
<line x1="105.00" y1="115.60" x2="511.50" y2="115.60" stroke="#4a4a5a" stroke-width="1.0" />
<path d="M105 139.2V138.9H105.5V138.5H106V139H106.5V139.1H107V138.5H107.5V138.7H108V138.9H108.5V138.4H109V139.2H109.5V139.1H110V138.4H111V138.3H111.5V138.9H112V138.7H112.5V138.6H113V138.8H113.5V138.9H114V138.4H114.5V138.2H115V138.6H115.5V139.1H116V138.8H116.5V139H117V138.9H117.5V138.6H118V139.1H118.5V139H119.5V139.1H120V138.2H120.5V138.5H121V139.2H121.5V138.4H122V138.6H122.5V138.8H123V138.3H123.5V139H124V138.8H124.5V139.1H125V138.6H125.5V139H126V138.6H126.5V138.8H127V138.9H127.5V139H128V139.1H129V138.6H129.5V139.2H130V138.9H130.5V139.2H131V139.1H131.5V138.9H132V139.1H132.5V138.8H133V139.2H133.5V138.7H134.5V138.5H135V139.2H135.5V138.3H136V138.9H136.5V138.4H137V138.6H137.5V139H138.5V139.2H139V139.1H139.5V136.9H140V139H140.5V138.6H141V138.9H141.5V139.1H142.5V139H143V138.5H143.5V138.8H144V138.3H144.5V139.2H145V139.1H145.5V138.9H146V138.7H146.5V139.2H147V138.3H147.5V138.7H148V138.9H148.5V139H149V138.5H149.5V138.7H150V138.8H150.5V138.6H151V138.3H151.5V139.1H152V138.4H152.5V138.9H153.5V137.5H154V139.1H154.5V138.3H155V138.4H155.5V138.6H156V138.5H156.5V138.4H157V138.9H157.5V138.7H158V138.4H158.5V138.6H159V138.9H159.5V139H160V138.3H160.5V138.2H161V138.7H162.5V138.8H163V139H163.5V139.2H164V139H164.5V138.6H165V138.3H165.5V138.7H166V139H166.5V138.6H167V136.3H167.5V139.1H168V139H168.5V138.7H169V138.9H169.5V138.6H170V137.7H170.5V138.4H171V139H171.5V138.5H172V138.3H172.5V139.1H173V138.3H173.5V138.4H174V138.5H174.5V138.6H175V139.1H175.5V138.6H176.5V138.7H177V138.3H177.5V138.4H178V138.6H178.5V138.3H179V138.2H179.5V138.5H180.5V139.1H181V138.8H181.5V138.4H182V138.8H182.5V138.6H183V139.1H184V138.9H184.5V139H185V138.9H185.5V138.2H186V139.1H187V139H187.5V139.2H188.5V138.6H189V138.5H190V138.3H190.5V139.1H191V138.7H191.5V138.4H192V138.5H192.5V138.8H193V138.9H193.5V138.6H194V138.9H194.5V139.1H195V139H195.5V138.2H196V138.4H196.5V138.9H197V138.8H197.5V138.5H198V138.8H198.5V139H199V136.9H199.5V139.1H200V138.4H200.5V138.8H201V137.9H201.5V139H202V137.5H202.5V138.4H203V139.1H203.5V138.6H204V138.3H204.5V138.6H205V138.7H205.5V138.4H206V137.1H206.5V138.9H207.5V138.8H208V138.6H208.5V138.4H209V138.7H209.5V138.5H210V138.3H210.5V138.6H211V139H211.5V138.7H212V139.2H212.5V138.5H213V138.4H214V138.6H214.5V138.8H215V138.5H215.5V137.2H216V138.8H216.5V138.6H217V138.3H217.5V138.2H218.5V138.8H219V138.7H219.5V139.1H220V138.6H220.5V139.1H221V138.3H221.5V136.9H222V139H222.5V138.7H223V139.1H223.5V137.2H224V138.9H224.5V138.2H225V138.7H225.5V139H226V139.1H227V139H227.5V137.8H228V138.5H229V139.1H229.5V138.6H230V139.1H230.5V138.7H231V138.5H231.5V139.1H232V138.7H232.5V138.6H233V138.9H233.5V138.4H234V138.8H234.5V138.5H235V138.9H235.5V138.7H236V138.9H236.5V138.4H237V139.2H237.5V138.6H238V139H238.5V138.5H239V139.1H239.5V138.8H240V138.3H240.5V138.8H241V138.5H241.5V139H242V138.3H242.5V138.5H243.5V138.9H244.5V138.4H245V138.3H245.5V138.2H246V138.6H247V138.9H247.5V138.8H248V139H248.5V138.1H249V138.2H249.5V138.5H250V139.1H250.5V139H251V138.6H251.5V139.2H252.5V138.9H253V138.5H253.5V138.8H254V139.1H255V138.4H255.5V138.5H256V138.3H256.5V139H257V138.2H257.5V139H258V138.3H258.5V138.4H259V139.2H259.5V139H260V138.2H260.5V138.5H261V139.1H261.5V138.8H262V138.6H262.5V138.8H263V138.3H264V139H265V138.5H265.5V139H266V139.1H266.5V138.2H267V138.8H268V139H268.5V138.5H269V139.1H269.5V138.4H270.5V138.6H271.5V138.7H272V139.1H272.5V138.3H273V138.4H273.5V139.1H274.5V138.8H275V138.7H275.5V138.6H276V138.8H277V138.9H277.5V138.2H278V138.9H278.5V138.3H279V139H279.5V139.1H280V139H280.5V138.3H281V138.9H281.5V139.2H282V138.6H282.5V138.8H283V139.2H283.5V139H284V139.1H284.5V139.2H285V139H285.5V138.4H286V138.2H286.5V138.7H287V139.1H287.5V138.6H288V138.4H288.5V138.9H289V138.6H289.5V138.3H290V138.6H290.5V138.3H291V138.8H291.5V138.4H292V138.6H292.5V138.7H293V138.9H293.5V139H294V138.6H294.5V139H295V138.4H296V138.8H297V139.1H297.5V138.7H298V138.2H298.5V138.9H299V138.3H299.5V138.8H300V138.9H300.5V138.4H301V137.6H301.5V138H302V138.3H302.5V138.7H303V138.9H303.5V138.6H304V138.5H304.5V138.8H305V138.3H305.5V138.4H306V138.7H306.5V139.1H307V138.9H307.5V139.2H308V138.9H308.5V138.6H309V139H309.5V138.9H310V137H310.5V139H311V138.6H311.5V138.7H312V139.1H312.5V138.5H313V138.3H313.5V138.6H314V138.3H314.5V137H315V138.9H315.5V139H316V138.9H316.5V138.8H317V139H317.5V138.2H318V139.1H319V138.2H319.5V139.1H320V138.6H320.5V138.3H321V138.8H321.5V138.6H322V138.7H322.5V138.9H323V138.2H323.5V138.5H324V139H324.5V138.6H325V138.5H325.5V138.3H326V138.8H326.5V138.4H327V138.7H327.5V137.8H328V138.7H328.5V139H329V138.5H330V138.8H330.5V138.3H331V138.5H331.5V138.6H332V138.9H332.5V138.3H333V138.5H333.5V138.9H334V138.7H334.5V138.6H335V138.8H335.5V138.5H336V138.6H336.5V138.3H337V139.2H337.5V139.1H338V138.7H338.5V136.9H339V138.7H339.5V138.8H340V139.2H340.5V139H341V138.2H341.5V138.9H342V139.1H342.5V139H343V138.3H344V139H344.5V138.5H345V138.7H346V138.8H346.5V139.1H347V138.4H347.5V138.5H348V136.5H348.5V138.7H349V138.2H349.5V137H350V139.1H350.5V138.3H351V138.2H351.5V138.8H352V139H352.5V138.8H353V138.9H353.5V138.2H354V138.7H354.5V136.3H355V139.1H355.5V138.9H356V138.7H356.5V139.1H357V138.7H357.5V138.2H358V138.9H358.5V138.7H359V138.3H359.5V138.8H360V138.7H360.5V138.9H361V139.2H361.5V138.7H362V138.5H362.5V138.9H363.5V138.6H364.5V138.2H365.5V138.8H366V139.1H366.5V138.7H367V138.6H367.5V139H368V139.1H368.5V138.9H369V139.1H369.5V138.5H370V138.4H370.5V137.9H371V138.7H372V139H373V138.4H373.5V139.2H374V138.2H374.5V137.5H375V139H376V138.9H376.5V138.2H377.5V139H378V138.4H378.5V139.1H379V138.9H379.5V138.3H380V139H380.5V138.9H381V138.2H381.5V138.4H382V138.7H382.5V138.4H383V138.3H383.5V138.7H384V139.1H384.5V138.9H385V138.7H385.5V138.5H386.5V138.3H387V138.4H387.5V136.6H388V139.2H388.5V138.9H389V138.5H390V139H390.5V138.6H391V138.8H391.5V139.2H392V138.8H392.5V138.5H393V138.8H393.5V138.5H394V138.8H394.5V138.6H395V139.1H395.5V138.9H396V138.4H396.5V138.5H397V138.1H397.5V138.9H398V138.6H398.5V139H399V138.5H399.5V138.8H400V137H400.5V139.1H401V138.5H401.5V139.2H402V138.9H402.5V138.6H403V139.1H403.5V138.9H404V138.4H404.5V138.9H405V138.4H405.5V138.3H406V139.1H406.5V138.3H407V138.2H407.5V138.5H408V138H408.5V139H409.5V139.2H410V138.5H410.5V138.7H411V138.5H412V138.6H412.5V138.3H413V139.1H413.5V138.5H414V138.4H414.5V138.5H415V138.4H415.5V139.1H416V138.7H416.5V138.5H417V138.8H417.5V138.6H418.5V138.4H419V138.2H419.5V138.7H420V138.9H420.5V138.2H421V138.8H421.5V138.5H422.5V138.2H423V138.6H424V138.8H424.5V138.7H425V138.2H425.5V138.4H426.5V139.1H427V138.9H427.5V138.6H428V136.7H428.5V138.7H429V138.5H429.5V139.1H430V138.5H430.5V139.1H431V139H431.5V138.9H432V139H432.5V138.4H433V139.1H433.5V138.3H434V138.7H434.5V139.2H435V139H435.5V139.1H436V138.4H436.5V137.5H437V138.8H438V138.3H438.5V138.4H439V138.2H439.5V139.2H440V138.8H440.5V138.3H441V139.1H441.5V139.2H442V138.5H442.5V137.8H443V138.8H443.5V138.5H444V139H444.5V139.1H445.5V138.7H446V138.3H446.5V138.5H447V139.1H447.5V138.9H448V138.4H448.5V138.8H449V139.1H449.5V138.5H450V138.8H450.5V138.6H451V138.5H451.5V138.4H452V138.8H452.5V139H453V138.7H453.5V138.3H454V138.4H454.5V138.6H455V138.8H455.5V139H456V138.6H456.5V138.3H457V138.7H457.5V138.3H458.5V139.1H459V138.7H459.5V138.3H460V138.2H460.5V139.1H461V138.4H462V138.8H462.5V138.5H463V138.4H463.5V139H464V139.1H464.5V138.5H465V138.6H465.5V138.5H466V138.2H466.5V138.9H467.5V138.4H468V138.3H468.5V138.8H469V138.4H469.5V139H470V138.5H470.5V138.8H471V138.4H471.5V139.2H472V139H473V138.9H473.5V138.7H474V138.8H474.5V138.4H475V139.1H475.5V139H476V138.8H477V139H477.5V139.1H478V138.7H478.5V138.4H479V138.8H479.5V138.4H480V138.5H480.5V138.6H481V139H481.5V138.4H482V138.8H482.5V138.9H483V139.1H483.5V138.8H484V138.9H484.5V138.7H485V138.4H485.5V139H486V138.5H486.5V139H487V138.7H487.5V138.5H488V138.4H488.5V138.8H489V138.3H489.5V138.5H490V138.8H490.5V138.9H491V138.5H491.5V138.3H492V138.4H492.5V139.1H493V138.5H493.5V138.7H494.5V138.4H495V138.3H495.5V138.7H496V138.8H496.5V138.9H497V138.8H497.5V139.1H498V138.5H498.5V138.6H499V139.1H499.5V138.4H500.5V138.8H501V138.2H502V138.5H502.5V139H503V138.9H503.5V138.3H504V139.1H504.5V138.6H505V138.4H505.5V138.7H506V139.2H506.5V138.6H507V138.3H507.5V138.6H508V138.5H508.5V138.6H509.5V138.4H510V138.5H510.5V138.8H511V139H511.5V139.2Z" fill="#1a1a1a"/>
<rect x="135.01" y="123.20" width="0.98" height="16.00" fill="#1a1a1a"/>
<rect x="145.59" y="130.70" width="0.83" height="8.50" fill="#1a1a1a"/>
<rect x="156.29" y="129.20" width="0.83" height="10.00" fill="#1a1a1a"/>
<rect x="171.09" y="130.20" width="0.83" height="9.00" fill="#1a1a1a"/>
<rect x="173.22" y="135.20" width="0.75" height="4.00" fill="#1a1a1a"/>
<rect x="182.12" y="136.20" width="0.75" height="3.00" fill="#1a1a1a"/>
<rect x="201.12" y="136.20" width="0.75" height="3.00" fill="#1a1a1a"/>
<rect x="205.62" y="134.20" width="0.75" height="5.00" fill="#1a1a1a"/>
<rect x="207.62" y="133.70" width="0.75" height="5.50" fill="#1a1a1a"/>
<rect x="221.62" y="134.20" width="0.75" height="5.00" fill="#1a1a1a"/>
<rect x="273.62" y="134.20" width="0.75" height="5.00" fill="#1a1a1a"/>
<rect x="279.59" y="130.70" width="0.83" height="8.50" fill="#1a1a1a"/>
<rect x="294.62" y="134.70" width="0.75" height="4.50" fill="#1a1a1a"/>
<rect x="297.35" y="129.20" width="0.90" height="10.00" fill="#1a1a1a"/>
<rect x="383.62" y="136.70" width="0.75" height="2.50" fill="#1a1a1a"/>
<rect x="385.12" y="137.20" width="0.75" height="2.00" fill="#1a1a1a"/>
<rect x="386.62" y="134.70" width="0.75" height="4.50" fill="#1a1a1a"/>
<rect x="448.82" y="134.20" width="0.75" height="5.00" fill="#1a1a1a"/>
<rect x="451.12" y="130.60" width="0.75" height="8.60" fill="#1a1a1a"/>
<rect x="452.62" y="135.20" width="0.75" height="4.00" fill="#1a1a1a"/>
<rect x="455.23" y="134.20" width="0.75" height="5.00" fill="#1a1a1a"/>
<rect x="456.32" y="127.70" width="0.75" height="11.50" fill="#1a1a1a"/>
<rect x="457.62" y="133.20" width="0.75" height="6.00" fill="#1a1a1a"/>
<rect x="458.99" y="125.90" width="0.83" height="13.30" fill="#1a1a1a"/>
<rect x="461.32" y="136.20" width="0.75" height="3.00" fill="#1a1a1a"/>
<rect x="510.66" y="129.70" width="0.68" height="9.50" fill="#1a1a1a"/>
<line x1="105.00" y1="139.20" x2="511.50" y2="139.20" stroke="#000" stroke-width="1.2" />
<path d="M105 163.3V163.2H105.5V162.7H106V163.1H106.5V162.6H107V163H107.5V162.9H108V163.2H108.5V162.5H109V163.1H109.5V162.7H110V162.8H110.5V163.2H112V162.4H113V162.8H113.5V162.7H114V162.8H114.5V163.1H115V162.5H115.5V163.1H116.5V162.8H117V162.6H117.5V161.6H118V163.2H119V162.7H119.5V162.9H120.5V163.2H121V163.1H121.5V162.5H122V163.2H122.5V161.4H123V162.5H123.5V163H124V162.5H124.5V163H125V162.7H125.5V163.1H126V163.3H126.5V162.4H127V163H128V163.3H128.5V163.1H129V162.5H129.5V163.1H130V162.5H130.5V162.6H131V162.8H131.5V162.5H132V162.8H132.5V163H133V162.4H133.5V162.6H134V162.5H134.5V163.1H135V162.9H135.5V163.1H136.5V163.2H137V162.9H137.5V163H138V163.1H138.5V162.9H139V163.1H139.5V162.6H140V162.7H141V163H141.5V162.7H142V163.3H142.5V163.1H143V162.5H143.5V163.2H144V162.5H144.5V163.2H145V162.9H145.5V162.5H146.5V162.6H147V163.2H147.5V161.9H148V162.6H148.5V162.8H149V162.4H149.5V162.7H150V163.3H150.5V163.1H151V162.5H152V162.9H152.5V162.2H153V162.4H153.5V162.7H154V162.8H154.5V162.9H155V163.2H155.5V162.8H156V162.9H156.5V162.4H157V161.4H157.5V162.9H158V162.8H158.5V163.1H160V162.5H160.5V163.3H161V162.7H161.5V162.6H162V163.1H162.5V162.7H163V163.1H163.5V162.7H164V162.8H164.5V162.6H165V162.9H165.5V163H166V162.7H166.5V162.5H167.5V163.2H168V162.7H169V162.4H169.5V161.6H170V163.2H170.5V162.8H171V163H171.5V162.9H172V163H172.5V162.5H173V163H173.5V162.4H174V163.3H174.5V162.5H175V163.1H175.5V163.2H176V163.1H176.5V162.8H177V162.6H178V163.2H178.5V162.6H179V162.8H180V163H180.5V163.2H181V162.7H181.5V163.2H182.5V163.1H183V163.2H183.5V162.9H184V163.2H184.5V162.4H185V162.5H185.5V163.1H186V162.4H186.5V161.8H187V163.3H187.5V163H188V163.2H188.5V162.6H189V162.5H189.5V163.1H190V162.9H190.5V162.6H191V162.4H192V162.5H192.5V162.7H193V163.1H194V163.2H194.5V162.7H195V163.1H195.5V161.6H196V162.7H196.5V162.5H197V163.1H198V160.9H198.5V162.9H199V162.4H199.5V161.3H200V162.9H200.5V162.7H201V162.5H201.5V162.8H202V163H202.5V160.8H203V163H204V162.8H204.5V163.3H205V163.1H205.5V162.9H206V162.5H206.5V163H207V163.1H207.5V163H208V162.8H208.5V162.6H209V162.4H209.5V162.5H210V162.9H210.5V162.5H211V162.6H211.5V161.5H212V163H212.5V162.6H213V162.4H213.5V163.1H214V163.3H214.5V162.5H215V162.8H215.5V162.6H216V161.8H216.5V162.8H217V162.5H217.5V163.2H218V163.3H218.5V162.9H219V163H219.5V162.6H220V161.5H220.5V163.3H221.5V162.9H222V163.3H222.5V163.2H223V163.3H223.5V162.6H224V163H224.5V162.4H225.5V162.5H226V162.6H227V163.1H227.5V163.3H228V163H228.5V162.6H229V163H229.5V162.5H230V162.1H230.5V162.4H231.5V163.2H232V162.6H233V163H233.5V163.2H234.5V162.8H235V162.5H236V162.7H237V162.4H238V162.5H238.5V162.7H239V162.5H239.5V163H240V163.2H240.5V163.1H241.5V162.9H242V162.6H242.5V163H243V162.8H244V162.7H244.5V162.9H245.5V163.3H246V162.5H246.5V163H247V163.2H247.5V162.7H248V163.1H248.5V162.9H249V163.1H249.5V162.8H250V162.9H250.5V163.2H251V162.9H252V161.8H252.5V162.6H253V162.5H253.5V162.6H254V162.7H254.5V162.6H255V162.4H255.5V162.6H256.5V162.9H257V162.7H257.5V163.1H258V163.3H258.5V163.2H259V163.1H259.5V163.3H260V162.8H260.5V162.5H261.5V163.2H262V162.7H263V162.9H263.5V162.4H264V162.7H264.5V163.2H265V163.1H266V163H267V162.5H267.5V162.9H268V163.1H268.5V162.8H269V163.2H269.5V162.9H270V162.1H270.5V163.3H271V162.7H271.5V162.4H272.5V163.2H273V162.8H273.5V163.2H274V163H274.5V162.6H275V163.3H276.5V163.2H277V162.9H277.5V163.2H278.5V162.5H279V163.2H279.5V162.5H280V161.6H280.5V162.6H281V163.2H281.5V162.6H282.5V162.7H283V162.8H283.5V162.6H284V163.2H285.5V162.8H286V162.4H286.5V163.1H287.5V163.2H288V163.1H289V162.4H289.5V163.1H290V162.7H290.5V162.6H291V163.1H291.5V162.6H292V163H292.5V162.4H293V160.9H293.5V163H294V163.3H294.5V162.9H295V162.6H295.5V163.2H296.5V162.8H297V163H297.5V162.9H298V162.7H299V162.6H299.5V162.9H300V163.2H301V163.3H302V162.8H302.5V162.4H303V163.3H303.5V163.2H304V163.1H304.5V162.9H305V162.8H305.5V162.7H306V162.6H306.5V163.2H307V163H307.5V162.8H309.5V162.6H310V161.4H310.5V163.2H311V162.8H311.5V163H312V163.2H312.5V162.8H313.5V162.4H314V163.3H314.5V163H315.5V162.6H316V162.5H316.5V163.2H317V162.5H317.5V163H318V163.2H319V162.7H320V162.9H321V163H321.5V162.8H322V163.1H322.5V162.6H324V162.8H324.5V162.4H325.5V163H326V162.5H326.5V162.6H327.5V163.3H328V163.1H328.5V162.6H329V163.2H329.5V163.1H330V162.6H330.5V163H331V163.1H331.5V162.4H332V163.2H333V162.9H334V162.7H334.5V163.2H335V162.6H335.5V162.8H336V162.7H336.5V162.9H337V162.8H337.5V162.7H338V163.1H338.5V163H339V162.4H339.5V162.8H340V163.1H340.5V162.9H341V163.1H341.5V163.2H342V162.4H342.5V162.6H343V162.7H343.5V163.1H344.5V162.8H345V163H345.5V162.6H346V162.8H346.5V162.7H347V163.1H347.5V162.7H348V163.1H348.5V162.6H349V163.1H350V162.4H350.5V163H351V162.4H351.5V162.8H352V162.7H352.5V162.5H353V162.9H353.5V162.7H354V163.2H354.5V162.6H355V163.3H355.5V162.4H356V163H356.5V163.2H357V162.8H357.5V163H358.5V162.9H359.5V162.7H360V163H360.5V162.4H361V162.7H361.5V162.4H362V162.7H362.5V163H363V162.7H364V163H364.5V162.7H365V163.1H365.5V162.8H366V162.5H366.5V162.9H367V162.5H367.5V162.8H368V163.1H369V162.4H369.5V163.2H370V162.5H370.5V162.6H371V163H371.5V161.9H372V163H372.5V162.8H373V162.9H373.5V162.6H374V162.4H374.5V163.2H375V161.5H375.5V161.4H376V162.8H376.5V162.7H377V162.2H377.5V162.7H378V163.1H378.5V162.7H379V162.2H379.5V162.7H380.5V162H381V163.2H381.5V162.6H382V161.6H382.5V162.4H383V162.7H383.5V162.6H384V162.9H384.5V162.8H385V162.4H385.5V162.7H386.5V162.5H387V162.8H387.5V162.7H388V162.4H389V163.2H391.5V163.1H392.5V163H393V162.4H393.5V162.6H394V163H394.5V162.6H395V162.9H395.5V163.3H396V162.7H396.5V163.2H397V162.6H397.5V162.8H398V162.6H398.5V162.7H399V163.1H399.5V163.2H400V162.6H401V162.4H401.5V162.5H402V162.8H402.5V163H403V163.3H403.5V163.2H404V162.6H404.5V163.2H405.5V162.9H406V163H406.5V162.7H407V163.1H407.5V163H408V163.2H408.5V162.6H409V162.7H409.5V163.2H410V162.4H410.5V162.8H411V162.6H411.5V163.2H412.5V162.6H413V162.8H413.5V163H414.5V163.3H415V162.6H415.5V162.7H416V163.1H416.5V163.2H417.5V163.3H418V163.1H418.5V162.9H419V162.6H419.5V162.9H420V162.6H420.5V162.9H421.5V162.6H422V162.3H422.5V163.2H423V163H423.5V162.9H424V162.7H424.5V163.1H425V162.5H425.5V162.9H426.5V163.1H427V163.2H427.5V163.3H428V162.9H428.5V162.5H429V163.1H430V163.2H430.5V162.7H431V163H431.5V162.7H432V162.5H432.5V162.6H433V163H433.5V162.4H434V163.1H434.5V162.7H435V162.5H435.5V163H436V162.6H436.5V163.1H437V163.2H437.5V162.5H438V163.1H438.5V161.6H439V162.9H439.5V163H440V163.3H440.5V163.2H441.5V162.9H442V163.1H442.5V162.6H443V163H443.5V162.7H444V162.5H444.5V163.1H445V162.8H445.5V163H446V162.7H446.5V163.2H447V162.7H447.5V163H448V163.3H448.5V162.7H449.5V162.6H450V162.9H450.5V163.2H451V162.5H451.5V163H452V162.8H452.5V163.2H453V163.3H453.5V163.1H454V162.7H454.5V162.9H455V162.7H455.5V162.6H456V162.5H456.5V162.9H457V162.6H457.5V162.5H458V162.7H458.5V162.6H459V163.2H459.5V162H460V162.6H460.5V163.1H461V162.8H461.5V162.9H462V162.8H462.5V162.6H463V163H463.5V163.1H464V162.5H464.5V162.6H465V162.8H465.5V162.5H466V162.6H466.5V163.2H467V162.9H467.5V163.1H468V162.4H468.5V163.1H469V163H469.5V162.5H470.5V162.9H471V161.8H471.5V162.7H472V162.8H472.5V163.1H473.5V162.7H474V162.9H475V162.7H475.5V163.1H476V162.7H476.5V162.5H477V162.4H477.5V161.6H478V163.2H478.5V162.8H479V161H479.5V162.4H480V163.1H480.5V162.8H481V162.7H481.5V162.8H482V163.3H482.5V163.1H483V162.5H483.5V163.1H484V162.9H484.5V163.3H485V163H485.5V162.7H486V163.2H486.5V162.6H487V162.4H487.5V163H488V163.2H488.5V163.1H489V162.7H489.5V162.5H490V162.8H490.5V162.6H491V162.3H491.5V162.8H492V161.2H492.5V163.1H493V162.6H493.5V162.9H494V162.5H494.5V163H495V163.2H495.5V162.8H496V163H496.5V162.5H497V162.9H497.5V162.4H498V163.1H499V162.8H499.5V163H500V163.1H500.5V163.2H501V162.5H502V163H502.5V163.2H503V163.1H503.5V162.6H504V163H504.5V162.5H505V162.9H505.5V163.2H506V162.8H506.5V163.2H507V162.5H507.5V163.3H508.5V162.8H509V163.1H509.5V162.8H510V162.4H510.5V162.7H511V162.5H511.5V163.3Z" fill="#1a1a1a"/>
<rect x="135.00" y="150.80" width="0.60" height="12.50" fill="#1a1a1a"/>
<rect x="135.53" y="155.30" width="0.75" height="8.00" fill="#1a1a1a"/>
<rect x="134.30" y="160.80" width="0.60" height="2.50" fill="#1a1a1a"/>
<rect x="145.59" y="158.80" width="0.83" height="4.50" fill="#1a1a1a"/>
<rect x="147.94" y="160.80" width="1.12" height="2.50" fill="#1a1a1a"/>
<rect x="150.62" y="160.30" width="0.75" height="3.00" fill="#1a1a1a"/>
<rect x="158.59" y="152.30" width="0.83" height="11.00" fill="#1a1a1a"/>
<rect x="170.62" y="156.30" width="0.75" height="7.00" fill="#1a1a1a"/>
<rect x="172.35" y="151.30" width="0.90" height="12.00" fill="#1a1a1a"/>
<rect x="173.82" y="154.30" width="0.75" height="9.00" fill="#1a1a1a"/>
<rect x="178.62" y="160.30" width="0.75" height="3.00" fill="#1a1a1a"/>
<rect x="185.59" y="157.30" width="0.83" height="6.00" fill="#1a1a1a"/>
<rect x="191.62" y="158.30" width="0.75" height="5.00" fill="#1a1a1a"/>
<rect x="198.99" y="155.80" width="0.83" height="7.50" fill="#1a1a1a"/>
<rect x="279.59" y="146.30" width="0.83" height="17.00" fill="#1a1a1a"/>
<rect x="295.62" y="158.30" width="0.75" height="5.00" fill="#1a1a1a"/>
<rect x="297.55" y="151.30" width="0.90" height="12.00" fill="#1a1a1a"/>
<rect x="323.12" y="156.30" width="0.75" height="7.00" fill="#1a1a1a"/>
<rect x="384.12" y="160.30" width="0.75" height="3.00" fill="#1a1a1a"/>
<rect x="449.12" y="157.30" width="0.75" height="6.00" fill="#1a1a1a"/>
<rect x="450.62" y="158.30" width="0.75" height="5.00" fill="#1a1a1a"/>
<rect x="455.05" y="145.80" width="0.90" height="17.50" fill="#1a1a1a"/>
<rect x="457.12" y="156.30" width="0.75" height="7.00" fill="#1a1a1a"/>
<rect x="459.62" y="159.30" width="0.75" height="4.00" fill="#1a1a1a"/>
<rect x="463.12" y="160.30" width="0.75" height="3.00" fill="#1a1a1a"/>
<rect x="508.62" y="160.30" width="0.75" height="3.00" fill="#1a1a1a"/>
<rect x="510.66" y="151.80" width="0.68" height="11.50" fill="#1a1a1a"/>
<line x1="105.00" y1="163.30" x2="511.50" y2="163.30" stroke="#000" stroke-width="1.2" />
<path d="M105 187.4V185.9H105.5V186.1H106V185.6H106.5V186.5H107V186.1H107.5V185.1H108V185.2H108.5V186.2H109V185.5H109.5V184.5H110V185.6H110.5V184.9H111V185.5H111.5V184.8H112V185.2H112.5V185.9H113V185.3H113.5V185.7H114V185.1H114.5V186.3H115V185H115.5V185.1H116V185.2H116.5V186H117V185.1H117.5V184.7H118V185.1H118.5V184.7H119V184.8H119.5V184.7H120V185.6H120.5V186H121V184.9H121.5V185.9H122V185H122.5V184.1H123V185.3H123.5V184.4H124V184.3H124.5V184.9H125V184.7H125.5V183.7H126V184.6H126.5V184H127V184.8H127.5V183.6H128V184.9H128.5V181.5H129V184H129.5V184.5H130V180.4H130.5V182H131V181.7H131.5V183.6H132V181.2H132.5V182.8H133V182.1H133.5V182.5H134V178.1H134.5V176.2H135V177.8H135.5V173.8H136V169.9H137V175.5H137.5V172.5H138V177.2H138.5V178H139V176.8H139.5V179.6H140V178.1H140.5V180H141V179.3H141.5V179.9H142V180.8H142.5V181.7H143V178.2H143.5V182.6H144V182.3H144.5V180.7H145V183H145.5V183.5H146V182.4H146.5V177.9H147V177.6H147.5V182.8H148V183H148.5V183.9H149V180.5H149.5V180.1H150V184.1H150.5V184.2H151V184.3H151.5V179.6H152V181.7H152.5V183.3H153V182.1H153.5V182.7H154V183.7H154.5V180H155V182.8H155.5V182.6H156V183.7H156.5V180.9H157V183H157.5V184.6H158V182.6H158.5V183.6H159V183.2H159.5V183.5H160V184.3H160.5V182.9H161V182.6H161.5V182H162V183H162.5V182.2H163V182.1H163.5V180.6H164V182.8H164.5V183.1H165V182.7H165.5V181.9H166V182.2H166.5V184.2H167V182.7H167.5V184.5H168V183.4H168.5V184.2H169V182.7H169.5V184.3H170V182.5H170.5V183H171V183.4H171.5V180.3H172V182.6H172.5V182.1H173V183.9H173.5V182.9H174V184.1H174.5V181.1H175V182.4H175.5V183.3H176V182.3H176.5V183.7H177V182H177.5V180.9H178V183.2H178.5V183.5H179V184.1H179.5V182.9H180V183.4H180.5V181.8H181V183.7H181.5V183.3H182V183H182.5V182.2H183V183H183.5V182.4H184V183.4H184.5V184.1H185V183.7H185.5V184.1H186V182.6H186.5V184.3H187V183.8H187.5V184.2H188V184.1H188.5V183.6H189V184.4H190V182.4H190.5V184.5H191V182.3H191.5V184.2H192V182.4H192.5V182.5H193V182.3H193.5V184.1H194V182.9H194.5V183.3H195V182.2H195.5V184H196V183.5H196.5V182.3H197V182.9H197.5V183.8H198.5V182.2H199V184.5H199.5V183.4H200V182.8H200.5V183.2H201V182.6H201.5V183.4H202V182.7H202.5V182.3H203V182.5H203.5V183.7H204V184H204.5V183.9H205V182.6H205.5V181.9H206V182H206.5V182.6H207V183.1H207.5V184.1H208.5V182.3H209V183.7H209.5V183.5H210V184.2H210.5V181.9H211V183H211.5V182.7H212V182.3H212.5V182.6H213V184.5H213.5V181H214V183.8H214.5V182H215V180.5H215.5V183.8H216V183.1H216.5V182.3H217V183.8H217.5V178.4H218V182.2H218.5V182.8H219V181.6H219.5V183.9H220V182.5H220.5V183.7H221V184.4H221.5V179.4H222V182.1H222.5V183.4H223V183H223.5V183.4H224V183.7H224.5V183.5H225V181.6H225.5V184.6H226V183.9H226.5V182.2H227V182.3H227.5V182.6H228V182.4H228.5V183.5H229V180.2H229.5V183.4H230V183.3H230.5V182.1H231V184.3H231.5V183.8H232V183.1H232.5V182.7H233V183.1H233.5V183.5H234V184.5H234.5V183.7H235V182H235.5V183.1H236V184.3H236.5V181.2H237V182.3H237.5V183.2H238V182.8H238.5V179.1H239V182.3H239.5V183.2H240V181.8H240.5V183.8H241V183.4H241.5V183.3H242V182.3H242.5V184.2H243V182.7H243.5V183.9H244V182.1H244.5V183.9H245V184H245.5V182.5H246V181.9H246.5V183.2H247V182.9H247.5V183.4H248V182H248.5V183.6H249V182.5H249.5V182.2H250V181.9H250.5V182.3H251V182.9H251.5V183.8H252V182.8H252.5V182.4H253V182.6H253.5V182.8H254V183.7H254.5V181.6H255V183.6H255.5V184.2H256V184.1H256.5V182.5H257V184.1H257.5V183.2H258V182.4H258.5V183.3H259V183.5H259.5V180.9H260V182.9H260.5V182.4H261V183.2H261.5V184H262V183H262.5V184.4H263V182.4H263.5V182H264V182.4H264.5V183.5H265V183.7H265.5V182.6H266V184.1H266.5V182.6H267V183.9H267.5V183.3H268V184.1H268.5V183H269.5V182.4H270V184.1H270.5V182H271V183.3H271.5V182.1H272V182H272.5V182.2H273V182.3H273.5V183.7H274V181.7H274.5V182.2H275V181.9H275.5V182.5H276V183.2H276.5V180H277V178.9H277.5V179.7H278V180.8H278.5V180.7H279V181.2H279.5V179.6H280V181.6H280.5V182.8H281V180.7H281.5V180.6H282V183.6H282.5V181.4H283V182.7H283.5V182.8H284V181.3H284.5V182.7H285V179.7H285.5V183H286V183.6H286.5V183.1H287V182.4H287.5V181.8H288V182.9H288.5V183.4H289V181.1H289.5V183.6H290.5V183.5H291V182.4H291.5V180.6H292V182.6H292.5V183.5H293V183.6H293.5V181.9H294V182.7H294.5V182.9H295V182.5H295.5V183.7H296V180.5H296.5V181.4H297V183.3H297.5V183.5H298V183.7H298.5V184.3H299V183.4H299.5V184.4H300V182.6H300.5V183H301V183.7H301.5V182.4H302V182.2H302.5V183.4H303V181.7H303.5V184H304V182.5H304.5V180.5H305V183.8H305.5V181.7H306V182.4H306.5V183.4H307V181.7H307.5V184.5H308V183.7H308.5V181.4H309V178.6H309.5V183.2H310V180.4H310.5V182.4H311V183.4H311.5V183.8H312V182.7H312.5V183.4H313V181.7H313.5V182.2H314V183.5H314.5V184.2H315V183.5H315.5V184.8H316V182H316.5V182.9H317V184.2H317.5V183.8H318V180.3H318.5V183.1H319V182.5H320V182.8H320.5V183.3H321V181.3H321.5V183.1H322V182.3H322.5V181.2H323V183.1H323.5V179.2H324V180.4H324.5V182.5H325V182.9H325.5V184.4H326V183.5H326.5V180.6H327V183.3H327.5V183.5H328V181.8H328.5V181.7H329V183.4H329.5V182.3H330V182H330.5V184.3H331V180.2H331.5V181.9H332V183.7H332.5V179.8H333V183.9H333.5V182H334.5V182.9H335V183.2H335.5V182.5H336V183.1H336.5V184.3H337V184.4H337.5V182.8H338V182.3H338.5V184.3H339V184.5H339.5V180.7H340V181.3H340.5V184.1H341V184H341.5V183.3H342V181.6H342.5V184.7H343V183.8H343.5V182.6H344V182.9H344.5V182.6H345V182.4H345.5V180.9H346V181.9H346.5V181.5H347V184.2H347.5V184.4H348V182.3H348.5V181.1H349V181.6H349.5V183.3H350V183.9H350.5V182.7H351V182.6H351.5V183.1H352V183.3H352.5V182H353V183.6H353.5V182.3H354V182.5H354.5V182.4H355V183.8H355.5V182.5H356V183.5H356.5V181.8H357V183.6H357.5V182.7H358V184.2H358.5V181.8H359V183.9H359.5V184.1H360V184.6H360.5V183.8H361V183H361.5V181.9H362V184.2H362.5V183.6H363V182.4H363.5V183.3H364V182.5H364.5V183.6H365V182.5H365.5V183.3H366V183H366.5V179.3H367V182.9H367.5V182.2H368V183.5H368.5V181.9H369V181.8H369.5V181.3H370V182H370.5V182.6H371V183.8H371.5V183.4H372V184.2H372.5V183.1H373V182.1H373.5V184.5H374V183.4H374.5V184H375V181.8H375.5V182.4H376V182.5H376.5V183H377V183.3H377.5V182.4H378V182.1H378.5V183.6H379V183.9H379.5V182.9H380V182.3H380.5V184H381V183.7H381.5V182.1H382V183.4H382.5V184.2H383V182.4H383.5V184.4H384V183.1H384.5V182.6H385V183.2H385.5V184.1H386V183.8H386.5V181.9H387V182.1H387.5V183.6H388.5V182.4H389V180.1H389.5V183.8H390V180.6H390.5V181.7H391V182.5H391.5V184.8H392V184.1H392.5V181.9H393V182.8H393.5V183.9H394V183.3H394.5V182.8H395V183.8H395.5V182.7H396V182.3H396.5V183.5H397V184.2H397.5V184.4H398V182.8H398.5V183.3H399V182H399.5V183.1H400V178.8H400.5V184.2H401V183.2H401.5V181.8H402V184.1H402.5V183.1H403V183.6H403.5V181.7H404V181.6H404.5V184.3H405V183H405.5V183.8H406V180.8H406.5V181.9H407V182.3H407.5V183.6H408V182.6H408.5V183H409V181.7H409.5V182.9H410V182.1H410.5V182.4H411V183.7H411.5V183.2H412V183.5H412.5V184H413V183.2H413.5V182.6H414V180.9H414.5V184.6H415V183.7H415.5V180.3H416V179.3H416.5V183.6H417V181.1H417.5V184H418V184.6H418.5V182.9H419V182.8H419.5V183.7H420V182.3H420.5V183.2H421V184.4H421.5V184.1H422.5V183.8H423V182.6H423.5V181.8H424V183.6H424.5V183H425V180.5H425.5V182H426V182.9H426.5V183.1H427V182.3H427.5V182.1H428V183.2H428.5V183.7H429V182.1H429.5V183.4H430V182.8H430.5V181.3H431V183.8H431.5V183.7H432V183.6H432.5V184.5H433V182.6H433.5V182.9H434V183H434.5V183.8H435V183.5H435.5V181.7H436V179.9H436.5V182.9H437V182.1H437.5V182.3H438V182.7H438.5V183.1H439V182.8H439.5V184.3H440.5V184.1H441V182.1H441.5V181.1H442V182.2H443.5V181.4H444V183.7H444.5V183.2H445V181.4H445.5V181.8H446V182.5H446.5V180.7H447V183H447.5V181.4H448V180.6H448.5V182.1H449V180.6H449.5V179.8H450V180.4H450.5V180.8H451V181.1H451.5V179.4H452V177.6H452.5V178.9H453V180.1H453.5V180.5H454V182.2H454.5V180.6H455V178.6H455.5V177.5H456V179.7H457V181.9H457.5V178H458V180.9H458.5V180.2H459V177.5H459.5V178.7H460V181.1H460.5V181.2H461V174.6H461.5V178.1H462V176.7H462.5V180.4H463V181.1H463.5V177.4H464V179.1H464.5V180.1H465V181.4H465.5V178.7H466V177.2H466.5V179.9H467V177.8H467.5V177.6H468V176.6H468.5V177.7H469V170.6H469.5V179.1H470V178.8H470.5V177.4H471V177.8H471.5V179.2H472V179.3H472.5V180.4H473V180H473.5V180.5H474V179.9H474.5V180.6H475V182.1H475.5V180.3H476V181.9H476.5V183.8H477V182.9H477.5V181.5H478V184.1H478.5V180.8H479V182.9H479.5V184.1H480V184.2H480.5V184H481V183.4H481.5V183.8H482V183.2H482.5V184H483V180.7H483.5V187.2H486.5V185.9H487V187.2H488.5V185.9H489V185.8H489.5V187.2H490V186.3H490.5V185.3H491V187.2H491.5V185.5H492V185.7H492.5V186.6H493V187.2H493.5V186.3H494V187.2H495V185.3H495.5V185.7H496V185.3H496.5V187.2H498V186.1H498.5V186.4H499V186.2H499.5V187.2H500V185.7H500.5V186.2H501V187.2H501.5V186.2H502V185.6H502.5V185.2H503V185.6H503.5V187.2H504V185.5H504.5V185.8H505V186.5H505.5V185.3H506V185.5H506.5V187.2H507.5V186.1H508V185.5H508.5V185.6H509V187.2H510V185.3H510.5V186.1H511V187.2H511.5V187.4Z" fill="#cc6624"/>
<line x1="105.00" y1="187.40" x2="511.50" y2="187.40" stroke="#cc6624" stroke-width="0.9" />
<path d="M105 211.3V208.7H105.5V210.2H106V209.4H106.5V209.6H107V209.3H107.5V210H108V209.8H108.5V209.4H109V209H109.5V209.3H110V209.4H110.5V209H111.5V208.4H112V209.3H112.5V208.7H113V209.2H113.5V209.1H114V207.4H114.5V209.3H115V208.2H115.5V209.5H116V209.2H117V209.3H117.5V209H118V209.3H118.5V208.3H119V208.7H119.5V207.9H120V208.2H120.5V207.9H121V208.5H121.5V208.4H122V208.2H122.5V208.4H123V209.1H123.5V208.1H124V208.7H124.5V208.1H126V208H126.5V207.4H127V206.1H127.5V207.6H128V208H128.5V205.2H129V207.8H129.5V206.5H130V207.6H130.5V206.4H131V206.5H131.5V205.4H132.5V203H133V201H133.5V195.2H134V197.5H134.5V197.3H135V198.5H135.5V197.8H136V193.8H136.5V196H137.5V193.8H138V195.1H138.5V193.8H139.5V197H140V198.3H140.5V193.8H141V197H141.5V196.3H142V195.1H142.5V197.4H143V193.8H144V195.4H144.5V193.8H145V198.3H145.5V193.8H146V196.9H146.5V199.2H147V199.6H147.5V200.1H148V202.4H148.5V201.9H149V199.1H149.5V201.3H150V199.5H150.5V202.3H151V203H151.5V201.5H152V201.9H152.5V202.1H153V197.1H153.5V203.9H154V201.3H154.5V198.4H155V198H155.5V201.1H156V199.2H156.5V198.1H157V203.1H157.5V201H158V201.8H158.5V203.3H159V199.7H159.5V201.7H160V197.3H160.5V201.6H161V199.5H161.5V200.5H162V198.9H162.5V202.3H163V199.7H163.5V200.4H164V194.3H164.5V201.6H165V200.6H165.5V199.5H166V201.7H166.5V201.9H167V202.5H168V193.8H168.5V199.1H169V201.2H170V200.3H170.5V201.4H171V200H171.5V200.6H172V198.5H172.5V201.5H173V196.4H173.5V200.5H174V202.1H174.5V197.5H175V202.6H175.5V202.3H176V202.6H176.5V198.8H177V200.5H177.5V200.1H178V202.4H178.5V199.9H179V202H179.5V199.2H180V202.8H180.5V201.2H181V193.8H181.5V198.4H182V199.2H182.5V199.3H183V201.3H183.5V202.4H184V193.8H184.5V197.6H185V198.8H185.5V199.8H186V197.9H186.5V198.7H187V199.4H187.5V200.5H188V197.9H188.5V199.5H189V199.9H189.5V200.7H190V198.3H190.5V199.5H191V202.9H191.5V193.8H192V201.9H192.5V199.5H193V202.5H193.5V196.4H194V198.4H194.5V201.7H195V200.6H195.5V199.5H196V199.7H196.5V200H197V200.8H197.5V201.2H198V201.3H198.5V202.4H199V202.2H199.5V203H200V200.9H200.5V201.3H201V201.4H201.5V203.6H202V200.7H202.5V203.9H203V203.7H203.5V201.9H204V202.6H204.5V199.8H205V202.5H205.5V203.4H206V202H206.5V204H207V202.4H207.5V203.1H208V202.1H208.5V201.9H209V200.7H209.5V203.4H210V204.5H210.5V203.6H211V204.1H211.5V204H212V202.8H212.5V201.9H213V204.5H213.5V202.2H214V205H214.5V197.9H215V204.3H215.5V200.5H216V200.8H216.5V203.4H217V201.1H217.5V202H218V201.9H218.5V202.1H219V204.6H219.5V203.3H220V203.7H220.5V201H221V202.6H222V201.9H222.5V201.5H223V196.7H223.5V201.5H224V203.8H224.5V204.3H225V204.2H225.5V204.1H226V204H226.5V201.9H227V204.3H227.5V199.2H228V202.3H228.5V204.3H229V202H230V202.1H230.5V202.6H231V205.3H231.5V205.4H232V198.4H232.5V204.3H233V203.8H233.5V205.2H234V205H234.5V200.6H235V204.4H235.5V205H236V204.6H236.5V204.7H237V203.5H237.5V204H238V204.8H238.5V205.3H239V203.6H239.5V205.3H240V203.5H240.5V203.6H241V205.3H241.5V204H242V201.5H242.5V204.9H243V206H243.5V200.9H244V206.2H244.5V205.1H245V206.1H245.5V205.1H246V205.6H246.5V205.4H247V206.1H247.5V206.9H248V206.5H248.5V204.5H249V202.5H249.5V205.3H250.5V204.9H251V206.1H251.5V206H252V207.1H252.5V201H253V204.8H253.5V204.6H254V205.7H254.5V204.7H255V203.3H255.5V202.1H256.5V205.8H257V205.5H257.5V206.1H258V204.7H258.5V207.1H259V202.7H259.5V206.7H260V205.6H260.5V205H261V205.6H261.5V204.8H262V206.7H262.5V205.3H263V206.6H263.5V205.1H264V207H264.5V206.5H265V205.3H265.5V207.1H266V206H266.5V206.5H267V206.4H267.5V204.8H268V205.5H268.5V207.2H269V206.3H269.5V207.3H270V207.1H270.5V205.2H271V206.6H271.5V206.9H272V206.1H272.5V205.8H273V205.2H273.5V206.7H274V206.6H274.5V204.6H275V205.4H275.5V205.3H276V205.2H277V206.8H277.5V205.5H278V203.3H278.5V204.3H279V202.9H279.5V195.4H280V204.8H280.5V204H281V202.3H281.5V201.4H282V203.9H282.5V204.2H283V202.2H283.5V204.5H284V206.2H284.5V205.4H285V204.3H285.5V204.5H286V205.3H287V205.5H287.5V206.8H288V205.1H288.5V204.4H289V205.9H289.5V202.5H290V205.9H290.5V205.4H291V193.8H291.5V200.3H292V201H292.5V196.5H293V195.6H293.5V198.3H294V199.1H294.5V193.8H295V198.3H295.5V195.1H296V197.7H296.5V197H297V202.1H297.5V198.5H298V200H298.5V202.1H299V202.9H299.5V204.2H300V201.8H300.5V204.2H301V205.9H301.5V198H302V204.9H302.5V206.1H303V206.2H303.5V205.7H304V205.5H304.5V206H305V204.6H305.5V207.2H306V204.7H306.5V207.2H307V205.5H307.5V206.4H308V207.2H308.5V206.3H309V206.6H309.5V207.4H310V206.7H310.5V207.1H311V206.6H311.5V205.7H312V207.3H312.5V206.1H313V206H313.5V207H314V204.7H314.5V205.7H315V206H316V206.4H316.5V207.9H317V206.2H317.5V206.4H318V205.6H318.5V206.7H319V206.2H319.5V207.3H320V205.9H320.5V205.4H321V206H321.5V205.2H322V207.2H322.5V206.2H323V207H323.5V206.5H324V205.9H324.5V205.5H325V206.4H325.5V206.9H326V202.8H326.5V205H327V206.5H327.5V207.2H328V205.6H328.5V206.4H329V205.5H329.5V204.3H330V201.6H330.5V194.8H331V200.3H331.5V202.2H332V200.8H332.5V202.3H333V202.2H333.5V200.3H334V204.6H334.5V202.4H335V205.3H335.5V206.7H336V202.1H336.5V206.1H337V207.8H337.5V206.5H338V206.2H338.5V207H339V205.4H339.5V205.6H340V205.7H340.5V207.3H341V206.1H341.5V206.8H342V206.7H342.5V206.1H343V206.4H343.5V205.4H344V205.9H345V207.6H345.5V205.8H346V206.1H346.5V206.7H347V202.4H347.5V207.2H348V207.4H348.5V206.4H349V203.9H349.5V206.8H350.5V206.9H351V206.7H351.5V206.2H352V207H352.5V202.6H353V206H353.5V207.2H354V206.7H354.5V203.7H355V205.9H355.5V205.5H356V207.5H356.5V207.4H357V206.6H357.5V206.2H358V204.3H358.5V206.5H359V207H359.5V204.6H360V205.9H360.5V205.2H361V206.2H361.5V203.2H362V206.9H362.5V207.3H363V206.1H363.5V206.9H364V206.4H364.5V206.2H365.5V207.8H366V206.8H366.5V205.5H367V206H367.5V206.1H368V206.6H368.5V203.8H369V205.6H369.5V205.7H370V207.4H370.5V206.5H371V206.7H371.5V206.6H372V207.1H372.5V207.5H373.5V207.1H374.5V205.2H375V205.9H375.5V206.2H376V205.8H376.5V207.7H377V206.2H377.5V202.6H378V206.4H378.5V204.4H379V206.8H379.5V206.6H380V205.2H380.5V205.4H381V206H381.5V207.5H382V207.2H382.5V206.5H383V202.2H383.5V206.3H384V205.7H384.5V207.1H385V206.1H385.5V206H386V203.1H386.5V207.7H387V207.6H387.5V206.6H388V205.5H388.5V206.2H389V206.3H389.5V207H390V206.5H390.5V206.8H391.5V204.6H392V206.4H392.5V206.8H393V206.5H393.5V206H394V204.6H394.5V206.2H395V206.9H395.5V205.3H396V207.5H396.5V205.6H397V206.9H397.5V206.2H398V206.5H398.5V205.3H399V202.4H399.5V206.1H400V207H400.5V206.2H401V205.4H401.5V207.9H402V205.9H402.5V206H403V206.7H403.5V206.1H404V206.7H404.5V206H405V207.4H405.5V206.5H406V206.4H406.5V206.2H407V206.3H408V207.2H408.5V206.7H409V206.8H409.5V205.6H410V206.3H410.5V206.7H411.5V207.6H412V206.2H412.5V207.3H413V207.8H413.5V206.3H414V205.7H414.5V207.6H415V206.2H415.5V205.4H416V204.6H416.5V205.5H417V202.7H417.5V207.7H418V206H418.5V205.8H419V205.7H419.5V207.1H420V205.6H420.5V207.6H421V206.8H421.5V206.7H422V203.8H422.5V207.2H423V206.6H423.5V206.4H424V205.5H424.5V207.1H425V207.8H425.5V206.6H426V205.2H426.5V205.3H427V206.9H427.5V207.4H428V207.2H428.5V207H429.5V206.2H430V205.3H430.5V206.6H431V205.4H432V207.3H432.5V207.7H433V207H433.5V206.4H434V206.3H434.5V207.4H435V205.8H435.5V206.7H436V203.5H436.5V207.4H437V206.1H438V205.5H438.5V203.1H439V203.7H439.5V205.9H440V205.5H441V206H441.5V205.9H442V206.4H442.5V204.3H443V206.8H443.5V206.6H444V205.6H444.5V204.6H445V203.6H445.5V204.2H446V205.6H446.5V203.2H447V204.1H447.5V205.3H448V204.1H448.5V201.9H449V203.4H449.5V202.5H450V200.8H450.5V201.5H451V200.3H451.5V203.6H452V201.9H452.5V201.4H453V199.7H453.5V203.6H454V193.8H454.5V202.6H455V198.8H455.5V200.7H456V201.1H456.5V197.5H457V198.2H457.5V200.4H458V198.1H458.5V200.9H459V201.9H459.5V197.8H460V198.9H460.5V199.4H461V200.4H461.5V200.9H462V199.1H462.5V199.7H463.5V203.3H464V201.7H464.5V202.6H465V203.4H465.5V201.3H466V203.6H466.5V202.3H467V204H467.5V199.4H468V202H468.5V203.3H469V203.4H469.5V204H470V205.2H470.5V203.4H471V197.3H471.5V200.9H472V197H472.5V201.6H473V200.2H473.5V201.2H474V202.2H474.5V203.5H475V202.1H475.5V199.4H476V200.3H476.5V203.9H477V202.1H477.5V201.4H478V203.4H478.5V201.5H479V196.1H479.5V202H480V199.9H480.5V205.2H481V201.6H481.5V204.2H482V199.9H482.5V206.4H483V206.3H483.5V211.1H484.5V210.1H485V209.4H485.5V209.3H486.5V209.2H487V211.1H487.5V209.6H488V211.1H488.5V209.6H489V211.1H489.5V209.2H490V211.1H491V210.4H491.5V211.1H492.5V210.3H493V209.5H493.5V209H494V210.2H494.5V211.1H495V209H495.5V211.1H496V209.5H496.5V211.1H498V209.9H498.5V211.1H499V209.6H499.5V209.1H500V210.3H500.5V211.1H501V210.2H501.5V210.3H502V209.1H502.5V211.1H503V209.3H503.5V210H504V211.1H505V209.9H505.5V210.3H506V211.1H506.5V209.8H507V211.1H507.5V208.9H508.5V211.1H510V209.2H510.5V211.1H511V209.7H511.5V211.3Z" fill="#cc6624"/>
<line x1="105.00" y1="211.30" x2="511.50" y2="211.30" stroke="#cc6624" stroke-width="0.9" />
<rect x="136.00" y="169.90" width="1.20" height="1.00" fill="#b03c9c" />
<rect x="133.30" y="193.90" width="1.60" height="1.00" fill="#b03c9c" />
<rect x="137.50" y="193.90" width="1.80" height="1.00" fill="#b03c9c" />
<rect x="140.50" y="193.90" width="1.00" height="1.00" fill="#b03c9c" />
<rect x="143.20" y="193.90" width="1.20" height="1.00" fill="#b03c9c" />
<rect x="287.50" y="194.20" width="1.00" height="1.00" fill="#b03c9c" />
<rect x="238.00" y="168.00" width="0.60" height="19.80" fill="rgba(255,255,255,0.9)" />
<rect x="287.80" y="168.00" width="0.60" height="19.80" fill="rgba(255,255,255,0.9)" />
<rect x="332.30" y="168.00" width="0.60" height="19.80" fill="rgba(255,255,255,0.9)" />
<rect x="346.00" y="168.00" width="0.60" height="19.80" fill="rgba(255,255,255,0.9)" />
<rect x="357.30" y="168.00" width="0.60" height="19.80" fill="rgba(255,255,255,0.9)" />
<rect x="395.80" y="168.00" width="0.60" height="19.80" fill="rgba(255,255,255,0.9)" />
<rect x="238.00" y="192.00" width="0.60" height="19.70" fill="rgba(255,255,255,0.9)" />
<rect x="395.80" y="192.00" width="0.60" height="19.70" fill="rgba(255,255,255,0.9)" />
<rect x="495.80" y="192.00" width="0.60" height="19.70" fill="rgba(255,255,255,0.9)" />
<rect x="134.30" y="166.00" width="2.50" height="45.60" fill="rgba(105,105,105,0.45)" />
<rect x="272.00" y="166.00" width="13.00" height="45.60" fill="rgba(105,105,105,0.45)" />
<rect x="447.30" y="166.00" width="23.60" height="45.60" fill="rgba(105,105,105,0.45)" />
<line x1="428.60" y1="74.80" x2="483.60" y2="74.80" stroke="#222" stroke-width="1.4" stroke-dasharray="3.9,4.0" stroke-dashoffset="-1"/>
<line x1="428.60" y1="211.00" x2="483.60" y2="211.00" stroke="#222" stroke-width="1.4" stroke-dasharray="3.9,4.0" />
<line x1="428.90" y1="74.80" x2="428.90" y2="211.00" stroke="#222" stroke-width="1.4" stroke-dasharray="3.9,4.0" stroke-dashoffset="-3.5"/>
<line x1="483.40" y1="74.80" x2="483.40" y2="211.00" stroke="#222" stroke-width="1.4" stroke-dasharray="3.9,4.0" stroke-dashoffset="-3.5"/>
<line x1="134.30" y1="226.60" x2="105.90" y2="252.90" stroke="#111" stroke-width="1.4" stroke-dasharray="4.1,4.0" />
<line x1="137.00" y1="226.20" x2="211.50" y2="252.20" stroke="#111" stroke-width="1.4" stroke-dasharray="4.1,4.0" />
<line x1="135.30" y1="223.30" x2="136.30" y2="223.30" stroke="#aaa" stroke-width="0.8" />
<line x1="268.40" y1="226.00" x2="232.30" y2="254.00" stroke="#111" stroke-width="1.4" stroke-dasharray="4.1,4.0" />
<line x1="287.00" y1="226.00" x2="342.00" y2="253.00" stroke="#111" stroke-width="1.4" stroke-dasharray="4.1,4.0" />
<line x1="447.30" y1="223.80" x2="355.60" y2="253.00" stroke="#111" stroke-width="1.4" stroke-dasharray="4.1,4.0" />
<line x1="469.80" y1="224.50" x2="510.30" y2="253.00" stroke="#111" stroke-width="1.4" stroke-dasharray="4.1,4.0" />
<text x="8.40" y="233.80" font-size="13.5" fill="#000" font-weight="bold" textLength="8.60" lengthAdjust="spacingAndGlyphs" >B</text>
<text x="22.80" y="275.70" font-size="10" fill="#6fa8dc" textLength="55.10" lengthAdjust="spacingAndGlyphs" >230-238 Pax5</text>
<text x="22.80" y="289.10" font-size="10" fill="#2f4c88" textLength="53.60" lengthAdjust="spacingAndGlyphs" >230-238 Ebf1</text>
<text x="22.80" y="302.40" font-size="10" fill="#111" textLength="48.20" lengthAdjust="spacingAndGlyphs" >FL Wt ATAC</text>
<text x="22.80" y="315.70" font-size="10" fill="#111" textLength="64.60" lengthAdjust="spacingAndGlyphs" >FL Ebf1-/- ATAC</text>
<text x="22.80" y="329.70" font-size="10" fill="#3b7a5c" textLength="62.00" lengthAdjust="spacingAndGlyphs" >FL Wt H3K27ac</text>
<text x="22.80" y="343.20" font-size="10" fill="#c51d3f" textLength="66.10" lengthAdjust="spacingAndGlyphs" >FL Wt H3K4me2</text>
<text x="22.80" y="356.70" font-size="10" fill="#7a4694" textLength="66.10" lengthAdjust="spacingAndGlyphs" >FL Wt H3K4me3</text>
<text x="131.00" y="252.60" font-size="4.2" fill="#222" textLength="8.80" lengthAdjust="spacingAndGlyphs" >10 kb</text>
<line x1="142.60" y1="251.30" x2="209.80" y2="251.30" stroke="#111" stroke-width="1.15" />
<line x1="142.80" y1="249.60" x2="142.80" y2="253.00" stroke="#222" stroke-width="0.8" />
<line x1="209.60" y1="249.60" x2="209.60" y2="253.00" stroke="#222" stroke-width="0.8" />
<text x="213.00" y="253.40" font-size="4.2" fill="#222" textLength="9.00" lengthAdjust="spacingAndGlyphs" >mm10</text>
<text x="126.40" y="258.40" font-size="4.2" fill="#222" textLength="18.00" lengthAdjust="spacingAndGlyphs" >61,985,000</text>
<line x1="146.30" y1="255.30" x2="146.30" y2="258.80" stroke="#222" stroke-width="0.9" />
<text x="159.20" y="258.40" font-size="4.2" fill="#222" textLength="18.60" lengthAdjust="spacingAndGlyphs" >61,990,000</text>
<line x1="179.50" y1="255.30" x2="179.50" y2="258.80" stroke="#222" stroke-width="0.9" />
<text x="193.00" y="258.40" font-size="4.2" fill="#222" textLength="17.80" lengthAdjust="spacingAndGlyphs" >61,995,000</text>
<line x1="212.30" y1="255.30" x2="212.30" y2="258.80" stroke="#222" stroke-width="0.9" />
<text x="109.40" y="271.30" font-size="4.4" fill="#6fa8dc" text-anchor="end" opacity="0.75">0</text>
<line x1="110.60" y1="271.80" x2="113.00" y2="271.80" stroke="#6fa8dc" stroke-width="0.8" />
<text x="109.40" y="285.60" font-size="4.4" fill="#3a45a8" text-anchor="end" opacity="0.75">0</text>
<line x1="110.60" y1="286.10" x2="113.00" y2="286.10" stroke="#3a45a8" stroke-width="0.8" />
<text x="109.40" y="299.90" font-size="4.4" fill="#222" text-anchor="end" opacity="0.75">0</text>
<line x1="110.60" y1="300.40" x2="113.00" y2="300.40" stroke="#222" stroke-width="0.8" />
<text x="109.40" y="314.40" font-size="4.4" fill="#222" text-anchor="end" opacity="0.75">0</text>
<line x1="110.60" y1="314.90" x2="113.00" y2="314.90" stroke="#222" stroke-width="0.8" />
<text x="109.40" y="328.50" font-size="4.4" fill="#2c7a2e" text-anchor="end" opacity="0.75">0</text>
<line x1="110.60" y1="329.00" x2="113.00" y2="329.00" stroke="#2c7a2e" stroke-width="0.8" />
<text x="109.40" y="343.10" font-size="4.4" fill="#d42424" text-anchor="end" opacity="0.75">0</text>
<line x1="110.60" y1="343.60" x2="113.00" y2="343.60" stroke="#d42424" stroke-width="0.8" />
<text x="109.40" y="357.20" font-size="4.4" fill="#8a2a9c" text-anchor="end" opacity="0.75">0</text>
<line x1="110.60" y1="357.70" x2="113.00" y2="357.70" stroke="#8a2a9c" stroke-width="0.8" />
<text x="109.40" y="261.90" font-size="4.4" fill="#6fa8dc" text-anchor="end" opacity="0.75">5.10</text>
<line x1="110.60" y1="262.30" x2="113.00" y2="262.30" stroke="#6fa8dc" stroke-width="0.8" />
<text x="109.40" y="276.20" font-size="4.4" fill="#3a45a8" text-anchor="end" opacity="0.75">15.92</text>
<line x1="110.60" y1="276.60" x2="113.00" y2="276.60" stroke="#3a45a8" stroke-width="0.8" />
<text x="109.40" y="290.50" font-size="4.4" fill="#222" text-anchor="end" opacity="0.75">10</text>
<line x1="110.60" y1="290.90" x2="113.00" y2="290.90" stroke="#222" stroke-width="0.8" />
<text x="109.40" y="305.00" font-size="4.4" fill="#222" text-anchor="end" opacity="0.75">10</text>
<line x1="110.60" y1="305.40" x2="113.00" y2="305.40" stroke="#222" stroke-width="0.8" />
<text x="109.40" y="319.10" font-size="4.4" fill="#2c7a2e" text-anchor="end" opacity="0.75">50</text>
<line x1="110.60" y1="319.50" x2="113.00" y2="319.50" stroke="#2c7a2e" stroke-width="0.8" />
<text x="109.40" y="333.70" font-size="4.4" fill="#d42424" text-anchor="end" opacity="0.75">10</text>
<line x1="110.60" y1="334.10" x2="113.00" y2="334.10" stroke="#d42424" stroke-width="0.8" />
<text x="109.40" y="347.80" font-size="4.4" fill="#8a2a9c" text-anchor="end" opacity="0.75">17</text>
<line x1="110.60" y1="348.20" x2="113.00" y2="348.20" stroke="#8a2a9c" stroke-width="0.8" />
<path d="M112.5 271.5V269.9H113V270.2H113.5V269.6H114.5V269.9H115V269.7H115.5V270.1H116.5V270H117V269.6H117.5V270H118V269.3H118.5V270.1H119V269.9H119.5V270H120V269.3H120.5V269.7H121V269.6H121.5V269.7H122V269.3H122.5V269.6H123V269.7H123.5V269.5H124V269.6H124.5V269.8H125V269.1H125.5V269.2H126.5V269H127V269.5H127.5V269.6H128V269.5H128.5V269.6H129V269.3H129.5V270H130V269.6H130.5V269.5H131V269.6H131.5V269.9H132V269.2H132.5V269.8H133V269.1H133.5V269.5H134.5V269.2H135V269.3H135.5V269H136V268.1H136.5V268H137V268.6H137.5V268.1H138V268.5H138.5V268.6H139V268.2H139.5V269.1H140V268.6H140.5V269H141V269.2H141.5V270H142.5V270.2H143V270H143.5V269.5H144.5V269.2H145V269.3H145.5V266.7H146V264.1H146.5V261.5H147V259.8H147.5V262.6H148V262.9H148.5V261.2H149V262.7H149.5V263.6H150V267H150.5V268.2H151V270H151.5V269.5H152V269.6H152.5V270H153V270.1H153.5V269.5H154V269.1H154.5V269.2H155V269.3H155.5V268.8H156V267.7H156.5V268.8H157V267.5H157.5V268.8H158V269H158.5V269.3H159V268.2H159.5V268.4H160V269H160.5V269.2H161V268.1H161.5V267.5H162V268.9H162.5V267.8H163V267.4H163.5V268.3H165V269.3H165.5V269.5H166V269.3H166.5V269.6H167V269.8H167.5V270H168V269.6H168.5V270.1H169V269.8H169.5V269.7H170V270H170.5V270.3H171V270.1H171.5V270.2H172V270H172.5V269.9H173V269.4H173.5V269.2H174V268.8H174.5V268.2H175V267.9H175.5V267.7H176V268.2H176.5V267.8H177V268.1H177.5V269H178V268.7H178.5V269.2H179V269.1H179.5V269.2H180V269.9H180.5V269.8H181.5V269.9H182V270.1H182.5V270H183V268.8H184V268.9H184.5V268.4H185V268.7H185.5V267.9H186V267.5H186.5V267.8H187V268.4H187.5V267.9H188V268.3H188.5V269.6H189V269.4H189.5V269.5H190V269.7H190.5V269.4H191V269.8H191.5V269H192V268.7H192.5V269.5H193V268.4H193.5V268.9H194V268.2H194.5V268.1H195V267.7H195.5V268.2H196V269H196.5V268.7H197V269.6H197.5V269.2H198V269.7H198.5V270H199V270.1H200V269.7H200.5V270.3H201V270.2H202V270.3H202.5V269.8H203V269.9H204V269.7H204.5V270H205V270.3H205.5V270.2H206V269.9H206.5V269.6H207V269.1H207.5V268.9H208V268.8H208.5V267.7H209V267H209.5V268.5H210V268.3H210.5V271.5Z" fill="#3a6ec2"/>
<path d="M116.2 285.8V285.4H116.7V285.3H117.2V285.4H117.7V285.2H118.2V285.3H120.2V285.4H120.7V285.3H122.2V285.2H123.2V285.3H123.7V285.4H124.7V285.2H125.2V285.3H127.2V285.4H127.7V285.3H128.2V285.4H128.7V285.3H130.2V285.4H131.2V285.3H132.7V285.2H133.2V285.3H134.2V285.2H134.7V285.4H135.7V285.3H136.2V285.1H136.7V284.3H137.2V281.7H137.7V278H138.2V274.3H139.2V277.7H139.7V280H140.2V280.9H140.7V280.3H141.2V282.1H141.7V282.5H142.2V282.9H142.7V283.8H143.2V284.6H143.7V284.8H144.2V285.1H145.2V285.3H146.2V285.2H147.7V284.9H148.2V284.8H148.7V284.9H149.7V284.3H150.7V284.7H151.2V284.9H151.7V284.8H152.2V284.9H152.7V285.3H153.7V285.2H154.2V285.4H154.7V285.3H155.7V285.1H156.7V285H157.2V284.7H158.2V284.6H159.2V284.5H159.7V284.7H160.7V285.1H161.2V285.2H161.7V285.3H162.7V285.1H163.7V284.8H164.2V284.4H164.7V284.1H165.2V284.2H165.7V283.8H166.2V284.1H166.7V284.6H167.2V284.9H167.7V285H168.7V285.2H170.7V285.3H171.2V285.4H172.7V285.3H173.2V285.2H175.2V285.3H176.2V285.2H176.7V285.4H177.2V285.2H178.7V285.4H179.7V285.2H180.2V285.4H180.7V285.3H182.2V285.2H183.2V285.3H183.7V285.4H184.2V285.2H185.2V284.8H185.7V284.2H186.2V283.4H186.7V281.7H187.2V282.6H187.7V283.2H188.2V284.1H188.7V285H189.2V285.1H189.7V285.4H190.2V285.1H190.7V284.9H191.2V284.4H191.7V284.7H192.2V284.1H193.2V284.3H193.7V284.7H194.2V285.1H195.2V285.2H196.7V285.3H197.2V285.4H197.7V285.3H198.2V285.4H198.7V285.2H199.2V285.3H199.7V285.4H201.7V285.2H202.2V285.4H202.7V285.2H203.2V285.4H203.7V285.3H205.2V285.2H205.7V285.4H206.2V285.3H206.7V285.4H207.7V285.3H209.7V285.4H210.2V285.8Z" fill="#3a45a8"/>
<path d="M112.5 300.1V299.6H113V299.7H117V299.6H118V299.7H119.5V299.6H120V299.7H125V299.6H125.5V299.7H126V299.6H126.5V299.7H128V299.6H128.5V299.7H131V299.6H132.5V299.7H135V299.3H135.5V298.5H136V297.6H136.5V295.8H137V298H137.5V298.5H138V299.4H138.5V299.7H139.5V299.6H140.5V299.7H141V299.6H141.5V299.7H144V299.6H144.5V299.5H145V298.6H145.5V297.8H146V295.3H146.5V295H147V291.5H147.5V290.3H148V292.9H149V290.2H149.5V291H150V291.6H150.5V293H151V295.2H151.5V298H152V299.2H152.5V299.6H153V299.7H155V299.6H155.5V299.7H156V299.6H156.5V299.7H157V299.6H157.5V299.7H158.5V299.6H159V299.5H159.5V298.4H160V296.6H160.5V295.6H161V296.9H161.5V298.6H162V299.4H162.5V299.6H163V299.7H164V299.6H165V299.4H165.5V298.7H166V298.1H166.5V296.8H167V297.8H167.5V298H168V298.3H168.5V298.5H169V298.4H169.5V298.5H170V299.2H170.5V299.5H171V299.7H171.5V299.6H172V299.7H173V299.6H174V299.7H175V299.6H176V299.7H179.5V299.6H180V299.7H181V299.6H182V299.7H183.5V299.4H184.5V299.1H185V298.9H185.5V298.8H186V298.7H186.5V299.1H187V299.2H187.5V299.3H188.5V299.4H189V299.6H190V299.7H193V299.6H194V299.7H196.5V299.6H197.5V299.5H198V299.6H198.5V299.4H199.5V299H200V299.1H200.5V298.9H201V299.2H201.5V299.4H202V299.5H202.5V299.6H203V299.7H210.5V300.1Z" fill="#111111"/>
<path d="M112.5 314.6V314.1H113.5V314.2H115.5V314.1H116V314.2H117V314.1H117.5V314.2H119.5V314.1H120V314.2H126.5V314.1H127.5V314.2H128.5V314.1H129V314.2H129.5V314.1H130V314.2H130.5V314.1H131V314.2H132V314.1H132.5V314.2H133.5V314.1H134.5V314.2H135V313.9H135.5V313.5H136V312.3H137V312.9H137.5V313.4H138V314.1H138.5V314.2H139.5V314.1H140V314.2H144.5V314H145V313.7H145.5V312.4H146V310.3H146.5V309.1H147V309.6H147.5V309H148V306.9H148.5V306.6H149V308H149.5V303H150V307.4H150.5V308.2H151V309.6H151.5V311.7H152V312.6H152.5V313.7H153V314.1H153.5V314.2H155V314.1H155.5V314.2H156V314.1H156.5V314.2H159V313.9H159.5V313H160V311.4H160.5V310.5H161V311.3H161.5V312.3H162V313.9H162.5V314.2H165.5V314H166V313.3H166.5V312.9H167V311.2H167.5V311.8H168V312.7H168.5V313.4H169V313.8H169.5V314.1H170V314.2H171.5V314.1H172V314.2H173V314.1H173.5V314.2H174.5V314.1H175.5V314.2H178.5V314.1H179V314.2H180.5V314.1H181V314.2H182V314.1H182.5V314.2H183V314.1H184V313.8H184.5V313.7H185V313.6H185.5V313.3H186V313.2H186.5V313.7H187V313.8H188V314H189V314.1H191V314.2H194V314.1H194.5V314.2H195V314.1H195.5V314.2H197V314.1H197.5V314H198V313.9H198.5V313.8H199V313.9H199.5V313.8H200.5V313.4H201V313.9H201.5V313.8H202V314.1H203.5V314.2H204.5V314.1H205V314.2H206.5V314.1H207V314.2H210.5V314.6Z" fill="#111111"/>
<path d="M112.5 328.7V327.1H113V327.5H113.5V327.2H114V327H114.5V327.5H115V327.2H115.5V327.5H116V327.7H116.5V327.5H117V327.2H117.5V327.7H118V327.3H118.5V327.5H119V327.7H119.5V327.5H120.5V327.4H121V327.1H122V327.6H122.5V327H123V327.3H123.5V327H124V327.2H124.5V327.4H125V327.6H125.5V327.1H126V327H126.5V327.3H127V325.8H127.5V327.1H128V327.2H128.5V327.1H129V326.9H129.5V326.7H130V326.5H130.5V326.3H131V325.1H131.5V324.3H132V323.2H132.5V323.9H133V324.5H133.5V326.1H134V326.7H135V326.8H135.5V326H136V324.7H136.5V324H137V320.5H137.5V320.1H138V320.9H138.5V321.6H139V323H139.5V321.2H140V321.5H140.5V324.1H141V325.3H141.5V324.4H142V327.8H142.5V327.6H143V327.7H143.5V327.1H144V327.5H144.5V326.7H145V324.2H145.5V323.7H146V319.9H146.5V319.4H147V322.7H147.5V321.2H148V322.6H148.5V317H149V323.7H149.5V325.2H150V325.5H150.5V327.1H151V327.6H151.5V327H152V323.3H152.5V326.7H153V326.6H153.5V324.7H154V325.1H154.5V324.8H155V325.2H155.5V323.1H156V325.3H156.5V326.2H157V326.3H157.5V326.4H158V326.5H158.5V327.5H159V326.9H159.5V326.1H160V323H160.5V321.1H161V318.3H161.5V316.7H162V321.7H162.5V323.2H163V325.1H164V324.7H164.5V325.7H165V326.7H165.5V327.6H166V327.1H166.5V327H167V326.9H167.5V326.5H168V324.9H168.5V325.5H169V324.6H169.5V324.8H170V321.7H170.5V325.5H171V325.6H171.5V327.1H172V327.4H172.5V327.6H173V327.4H173.5V326.8H174V326.5H174.5V326H175V326.9H175.5V323H176V325.8H176.5V326.2H177V325.6H177.5V326.3H178V327H178.5V326.8H179V327.3H179.5V327.4H180.5V326.1H181V327.8H181.5V327.1H182V327.5H182.5V326.3H183V327.6H183.5V327.3H184V327.6H185V327.4H185.5V326.7H186V326.8H186.5V326.6H187V327.2H187.5V324.5H188V326.1H188.5V324.2H189V326.3H189.5V326.8H190V326.4H190.5V325.6H191V325.7H191.5V326.2H192V326.7H192.5V326.5H193V325H193.5V326.9H194V326.6H194.5V327H195V327.5H195.5V327H196V327.1H196.5V327.6H197V327.3H197.5V326.9H198V327.2H198.5V327.1H199V327.3H199.5V327.2H200V326.6H200.5V327.2H201V326.9H201.5V327.2H202V326.3H202.5V326.2H203V325.9H203.5V325.4H204V326.4H205V326.1H205.5V326.2H206V325.3H206.5V326.6H207V326.3H207.5V325.7H208V323.9H208.5V325.4H209V326.9H209.5V327.2H210V327.3H210.5V328.7Z" fill="#2c7a2e"/>
<path d="M112.5 343.3V342.3H113V342.2H113.5V341.5H114V342.2H114.5V340.9H115V342.6H115.5V342.3H116.5V342.5H117V342.2H117.5V342.5H118V342.4H118.5V342.3H120V342.5H120.5V342.4H121V342.6H121.5V342.5H122V342.4H122.5V342.6H123V342.5H123.5V342.3H124V341.6H124.5V342.4H125V342.6H125.5V342.3H126V342.6H126.5V342.5H127V342.3H127.5V342.4H130V342.6H131V342.5H132.5V342.2H133V342.5H133.5V342.6H134V342.5H134.5V342.4H135V341.2H135.5V339.6H136V338.1H136.5V336.3H137V337H137.5V337.1H138V336.3H138.5V333.7H139V334.4H139.5V332.8H140V334.3H141.5V335.4H142V337.6H142.5V337.4H143V338.9H143.5V340.7H144V341.7H144.5V341.3H145V339.8H145.5V338.2H146V337.7H146.5V336.4H147V336.8H147.5V335.7H148V337.5H148.5V335.9H149V337.7H149.5V340.7H150V341.7H150.5V342.2H151.5V342.3H152V342.6H152.5V342.3H153V342.5H153.5V342.2H154V342.5H154.5V342.4H155V341.9H155.5V341H156V339.8H156.5V337H157V339.4H157.5V339.8H158V341.3H159V341.9H159.5V342.4H160V342.5H160.5V342.4H161V342.6H161.5V342.5H162V342.3H162.5V342.2H163V341.7H163.5V340.6H164V340H164.5V337H165V335.5H165.5V334.7H166V336.4H166.5V337.3H167V340.2H167.5V341.4H168V341.8H168.5V342.2H169V342.3H169.5V342.4H170V342.5H170.5V341.8H171V340.9H171.5V337.8H172V335.8H172.5V333.7H173V335.5H173.5V337.6H174V337.9H174.5V336.8H175V338H175.5V339.2H176V338.1H176.5V339.6H177V338.1H177.5V338.9H178V339.4H178.5V339.5H179V341.4H179.5V341H180V341.7H180.5V340.9H181V340.3H181.5V340H182V340.6H182.5V339.9H183V340.8H183.5V340.6H184V341.8H184.5V342.2H185V342H185.5V342.2H186V342.1H186.5V341.8H187V342H187.5V342.2H188V341.5H188.5V341.8H189V341.2H190V341.3H190.5V341.1H191V341.7H191.5V341.1H192V341.9H192.5V342H193V341H193.5V342.2H194V341.9H194.5V341.8H195V342H195.5V341.9H196V342.3H196.5V342H197V341.7H197.5V341.4H198V342H198.5V341.1H199V341H199.5V341.8H200V341.5H200.5V341H201V341.6H201.5V341.8H202V341.6H203.5V342.1H204V341.9H204.5V342.3H205V341.9H205.5V342H206V342.1H206.5V342.4H207V342.5H207.5V341.6H208V342.4H208.5V342.2H209V342.3H209.5V342.6H210.5V343.3Z" fill="#d42424"/>
<path d="M112.5 357.4V357H113V356.9H113.5V356.8H114V356.9H115.5V357H116V356.8H117V357H117.5V356.9H118V356.8H119V357H119.5V356.9H120V357H120.5V356.9H121V356.8H122V357H122.5V356.9H123V357H124V356.9H124.5V357H126V356.9H126.5V356.8H127V357H127.5V356.9H128.5V357H129.5V356.8H132V357H133V356.9H134V356.8H134.5V356.6H135V356.3H135.5V355.7H136V355.2H136.5V354.4H137V353.6H137.5V353.8H138V353.3H139V353.9H139.5V353.8H140V353.1H140.5V351.7H141V351.5H141.5V351.9H142V352.7H142.5V352.2H143V352H143.5V350.3H144V348.7H144.5V350.7H145V349.1H145.5V348H146V349.8H146.5V350.7H147V352.5H147.5V352.2H148V350.2H148.5V349.6H149V347.5H149.5V346.3H150V345.9H150.5V346.6H151V347.5H151.5V349.3H152V351H152.5V353.6H153V354.4H153.5V354.2H154V352.3H154.5V349.2H155V347.8H156V349.8H156.5V350.4H157V351.3H157.5V350.5H158V351.4H158.5V350.3H159V351.9H160V354.6H160.5V354.9H161V352.7H161.5V350.8H162V350.2H162.5V348.7H163V349.1H163.5V349.2H164V350.6H164.5V352H165V349.3H165.5V348.6H166V347.3H166.5V350.1H167V349H167.5V353H168V353.5H168.5V355.8H169V356H169.5V356.2H170V355H170.5V354.4H171V354.8H171.5V354.4H172V355.2H172.5V356.3H173.5V356.6H174V356.8H174.5V355.8H175V356.5H176V356H176.5V356.1H177V355.4H177.5V355.6H178V356.2H178.5V356.3H179V356.7H180.5V356.8H181.5V356.9H182.5V356.8H183V356.9H183.5V356.8H184V356.9H184.5V356.8H185V357H185.5V356.9H186V357H186.5V356.1H187V356.9H187.5V356.8H188V357H188.5V356.9H189V357H189.5V356.8H191.5V356.9H192V357H192.5V356.8H193V356.9H193.5V357H194.5V356.8H195V356.9H195.5V357H197.5V356.8H198V356.9H199.5V357H200V356.9H201V357H201.5V356.9H202V356.8H203V356.9H204V356.8H204.5V357H205V356.9H205.5V356.6H206V357H207V356.8H208V357H208.5V356.9H209V357H209.5V356.9H210.5V357.4Z" fill="#8a2a9c"/>
<line x1="112.50" y1="271.50" x2="210.40" y2="271.50" stroke="#3a6ec2" stroke-width="0.7" />
<line x1="112.50" y1="285.80" x2="210.40" y2="285.80" stroke="#3a45a8" stroke-width="0.7" />
<line x1="112.50" y1="300.10" x2="210.40" y2="300.10" stroke="#111111" stroke-width="0.7" />
<line x1="112.50" y1="314.60" x2="210.40" y2="314.60" stroke="#111111" stroke-width="0.7" />
<line x1="112.50" y1="328.70" x2="210.40" y2="328.70" stroke="#2c7a2e" stroke-width="0.7" />
<line x1="112.50" y1="343.30" x2="210.40" y2="343.30" stroke="#d42424" stroke-width="0.7" />
<line x1="112.50" y1="357.40" x2="210.40" y2="357.40" stroke="#8a2a9c" stroke-width="0.7" />
<rect x="134.60" y="263.60" width="6.80" height="94.00" fill="rgba(105,105,105,0.45)" />
<text x="124.60" y="367.10" font-size="9.5" fill="#111" textLength="24.80" lengthAdjust="spacingAndGlyphs" >MYC5′</text>
<text x="254.20" y="253.30" font-size="4.2" fill="#222" textLength="8.50" lengthAdjust="spacingAndGlyphs" >20 kb</text>
<line x1="265.40" y1="252.00" x2="326.10" y2="252.00" stroke="#111" stroke-width="1.15" />
<line x1="265.60" y1="250.30" x2="265.60" y2="253.70" stroke="#222" stroke-width="0.8" />
<line x1="325.90" y1="250.30" x2="325.90" y2="253.70" stroke="#222" stroke-width="0.8" />
<text x="328.20" y="254.00" font-size="4.2" fill="#222" textLength="9.00" lengthAdjust="spacingAndGlyphs" >mm10</text>
<text x="226.00" y="258.60" font-size="4.2" fill="#222" textLength="18.00" lengthAdjust="spacingAndGlyphs" >62,700,000</text>
<line x1="245.30" y1="255.60" x2="245.30" y2="259.00" stroke="#222" stroke-width="0.9" />
<text x="256.00" y="258.60" font-size="4.2" fill="#222" textLength="18.00" lengthAdjust="spacingAndGlyphs" >62,710,000</text>
<line x1="275.60" y1="255.60" x2="275.60" y2="259.00" stroke="#222" stroke-width="0.9" />
<text x="285.70" y="258.60" font-size="4.2" fill="#222" textLength="18.60" lengthAdjust="spacingAndGlyphs" >62,720,000</text>
<line x1="306.00" y1="255.60" x2="306.00" y2="259.00" stroke="#222" stroke-width="0.9" />
<text x="314.00" y="258.60" font-size="4.2" fill="#222" textLength="18.00" lengthAdjust="spacingAndGlyphs" >62,730,000</text>
<line x1="334.70" y1="255.60" x2="334.70" y2="259.00" stroke="#222" stroke-width="0.9" />
<text x="223.20" y="271.30" font-size="4.4" fill="#6fa8dc" text-anchor="end" opacity="0.75">0</text>
<line x1="224.40" y1="271.80" x2="226.80" y2="271.80" stroke="#6fa8dc" stroke-width="0.8" />
<text x="223.20" y="285.60" font-size="4.4" fill="#3a45a8" text-anchor="end" opacity="0.75">0</text>
<line x1="224.40" y1="286.10" x2="226.80" y2="286.10" stroke="#3a45a8" stroke-width="0.8" />
<text x="223.20" y="299.90" font-size="4.4" fill="#222" text-anchor="end" opacity="0.75">0</text>
<line x1="224.40" y1="300.40" x2="226.80" y2="300.40" stroke="#222" stroke-width="0.8" />
<text x="223.20" y="314.40" font-size="4.4" fill="#222" text-anchor="end" opacity="0.75">0</text>
<line x1="224.40" y1="314.90" x2="226.80" y2="314.90" stroke="#222" stroke-width="0.8" />
<text x="223.20" y="328.50" font-size="4.4" fill="#2c7a2e" text-anchor="end" opacity="0.75">0</text>
<line x1="224.40" y1="329.00" x2="226.80" y2="329.00" stroke="#2c7a2e" stroke-width="0.8" />
<text x="223.20" y="343.10" font-size="4.4" fill="#d42424" text-anchor="end" opacity="0.75">0</text>
<line x1="224.40" y1="343.60" x2="226.80" y2="343.60" stroke="#d42424" stroke-width="0.8" />
<text x="223.20" y="357.20" font-size="4.4" fill="#8a2a9c" text-anchor="end" opacity="0.75">0</text>
<line x1="224.40" y1="357.70" x2="226.80" y2="357.70" stroke="#8a2a9c" stroke-width="0.8" />
<text x="223.20" y="261.90" font-size="4.4" fill="#6fa8dc" text-anchor="end" opacity="0.75">5.04</text>
<line x1="224.40" y1="262.30" x2="226.80" y2="262.30" stroke="#6fa8dc" stroke-width="0.8" />
<text x="223.20" y="276.20" font-size="4.4" fill="#3a45a8" text-anchor="end" opacity="0.75">40.93</text>
<line x1="224.40" y1="276.60" x2="226.80" y2="276.60" stroke="#3a45a8" stroke-width="0.8" />
<text x="223.20" y="290.50" font-size="4.4" fill="#222" text-anchor="end" opacity="0.75">10</text>
<line x1="224.40" y1="290.90" x2="226.80" y2="290.90" stroke="#222" stroke-width="0.8" />
<text x="223.20" y="305.00" font-size="4.4" fill="#222" text-anchor="end" opacity="0.75">10</text>
<line x1="224.40" y1="305.40" x2="226.80" y2="305.40" stroke="#222" stroke-width="0.8" />
<text x="223.20" y="319.10" font-size="4.4" fill="#2c7a2e" text-anchor="end" opacity="0.75">50</text>
<line x1="224.40" y1="319.50" x2="226.80" y2="319.50" stroke="#2c7a2e" stroke-width="0.8" />
<text x="223.20" y="333.70" font-size="4.4" fill="#d42424" text-anchor="end" opacity="0.75">5</text>
<line x1="224.40" y1="334.10" x2="226.80" y2="334.10" stroke="#d42424" stroke-width="0.8" />
<text x="223.20" y="347.80" font-size="4.4" fill="#8a2a9c" text-anchor="end" opacity="0.75">5</text>
<line x1="224.40" y1="348.20" x2="226.80" y2="348.20" stroke="#8a2a9c" stroke-width="0.8" />
<path d="M227.6 271.5V270.2H228.1V270H228.6V270.2H229.1V269.8H229.6V268.7H230.1V267.2H230.6V265.4H231.1V261.9H231.6V262.1H232.1V261H232.6V263.9H233.1V267H234.1V268H234.6V268.5H235.1V269.4H235.6V269.2H236.1V270H237.1V270.1H238.1V270.2H238.6V269.7H239.6V270.2H240.1V269.5H241.1V268H241.6V267.5H242.1V266.7H242.6V266.2H243.1V266.9H243.6V268.1H244.1V269.4H244.6V270H245.1V269.7H245.6V269.8H246.1V269.6H247.1V270.1H247.6V270H248.1V269.7H248.6V270H249.1V269.5H249.6V270.3H250.1V270H250.6V269.6H251.1V269.5H251.6V269.9H252.1V270.1H252.6V269.8H253.1V270H253.6V269.6H254.1V269.9H254.6V270H255.1V269.6H255.6V269.4H256.1V269.6H256.6V269.4H258.1V269.9H258.6V269.5H259.1V268.9H259.6V269.3H260.1V269H260.6V268.8H261.1V269.8H261.6V269.1H262.1V269.4H262.6V270H263.1V269.8H263.6V269.5H264.1V269.6H264.6V269.3H265.1V269.8H265.6V269.5H266.1V269.8H266.6V269.4H267.6V270.1H268.1V269.6H268.6V270.2H269.1V270H269.6V269.6H270.1V269.9H270.6V270.3H271.6V269.5H272.1V269.6H272.6V269.5H273.1V270H273.6V270.1H274.1V269.8H274.6V270.3H275.1V269.8H275.6V270.2H276.6V269.7H277.1V270.1H277.6V269.5H278.1V269.8H279.6V270.1H280.1V269.5H280.6V270.3H281.1V269.6H281.6V269.9H282.1V269.8H282.6V269.9H283.1V270H283.6V270.2H284.1V270H284.6V269.8H285.1V270.1H285.6V269.7H286.6V270.3H287.1V270.2H287.6V269.6H288.1V269.9H288.6V270.2H289.1V269.9H290.1V269.7H290.6V269.9H291.1V269.6H291.6V270.3H292.1V269.6H292.6V269.7H293.1V270H293.6V270.2H294.6V269.7H295.1V269.8H295.6V269.9H296.1V270.2H296.6V270H297.1V269.3H298.1V268.5H298.6V268.6H299.1V268.3H299.6V268.2H300.1V268.5H300.6V269.9H301.6V270H302.1V270.1H302.6V270H303.1V270.3H303.6V270.1H304.6V269.6H305.1V270.1H305.6V269.7H307.1V270H308.1V269.9H308.6V270H309.1V270.1H309.6V270H310.1V270.3H310.6V269.8H311.1V270H311.6V270.3H312.1V270H312.6V270.2H313.1V269.9H314.1V269.5H314.6V270.2H315.1V269.8H315.6V269.7H316.1V270.1H316.6V269.9H317.1V269.8H317.6V270.2H318.1V269.9H318.6V269.6H320.1V270.3H320.6V269.8H321.1V269.7H321.6V270H322.1V270.1H322.6V269.8H323.1V270H323.6V269.6H324.1V270H324.6V269.6H325.1V269.7H325.6V270H326.1V269.7H326.6V269.6H327.1V269.7H327.6V270.1H328.1V270.2H328.6V269.8H329.1V269.7H329.6V269.8H330.1V270.1H330.6V269.8H331.1V269.7H331.6V270H332.1V269.6H332.6V269.4H333.1V268.5H333.6V268.9H334.1V265.8H334.6V264.8H335.1V265.9H335.6V265.6H336.1V265.4H336.6V265.6H337.1V266.6H337.6V267.8H338.1V267.7H338.6V268.8H339.1V269.1H339.6V269.3H340.1V269.4H340.6V270.1H341.1V270.2H341.6V269.9H342.1V269.6H343.1V271.5Z" fill="#3a6ec2"/>
<path d="M227.6 285.8V285.2H228.1V285.3H229.1V285.4H229.6V285.3H230.1V285.2H230.6V285.3H231.1V285.2H231.6V285.4H232.1V285.3H232.6V285.4H233.1V285.3H234.1V285.2H234.6V285.3H235.1V285.2H235.6V285.3H236.1V285.4H236.6V285.3H237.1V285.2H238.1V285.4H239.6V285.3H240.1V285.2H240.6V285.1H241.1V284.2H241.6V279H242.1V274.5H242.6V275.6H243.1V282.1H243.6V284.3H244.1V285.2H245.1V285.4H246.6V285.2H247.1V285.4H247.6V285.2H248.1V285.3H249.1V285.4H250.1V285.2H251.1V285.4H251.6V285.3H252.1V285.4H253.1V285.3H255.1V285.4H255.6V285.3H257.1V285.2H257.6V285.3H258.1V285.4H258.6V285.2H259.6V285.3H260.1V285.2H260.6V285.4H261.1V285.2H261.6V285.4H262.1V285.2H262.6V285.3H263.1V285.2H263.6V285.3H264.6V285.2H265.1V285.4H266.1V285.3H266.6V285.4H268.1V285.3H270.1V285.4H271.1V285.3H271.6V285.4H273.1V285.3H273.6V285.2H274.1V285.3H274.6V285.4H275.6V285.3H276.1V285.2H276.6V285.4H277.1V285.3H277.6V285.4H278.1V285.3H278.6V285.2H279.1V285.3H279.6V285.2H280.1V285.4H280.6V285.3H282.1V285.4H282.6V285.3H283.6V285.4H284.1V285.3H284.6V285.4H285.1V285.3H285.6V285.2H286.1V285.3H287.1V285.2H287.6V285.3H289.1V285.2H289.6V285.3H291.1V285.4H292.1V285.3H293.1V285.2H293.6V285.3H295.1V285.4H295.6V285.2H296.1V285.3H297.6V285.2H298.6V285.3H299.1V285.2H300.1V285.3H301.6V285.4H302.1V285.3H303.1V285.2H303.6V285.3H304.1V285.2H305.1V285.3H305.6V285.4H306.1V285.2H306.6V285.3H307.6V285.4H309.1V285.2H309.6V285.3H310.1V285.2H310.6V285.3H311.1V285.2H311.6V285.4H312.6V285.2H313.1V285.4H313.6V285.2H314.1V285.3H314.6V285.4H315.1V285.3H315.6V285.2H316.1V285.3H316.6V285.4H318.1V285.3H319.6V285.4H320.6V285.3H322.1V285.4H322.6V285.2H323.1V285.3H324.1V285.2H324.6V285.3H325.1V285.2H326.1V285.4H326.6V285.2H327.1V285.3H327.6V285.2H329.1V285.3H330.1V285.2H331.1V285.3H331.6V285.2H332.1V285.3H333.1V285.4H333.6V285.2H334.1V285.3H334.6V285.1H335.1V284.6H335.6V284.5H336.1V284.1H336.6V283.6H337.1V284.1H337.6V284.5H338.1V285H339.1V285.3H339.6V285.2H341.1V285.4H341.6V285.2H342.1V285.3H342.6V285.4H343.1V285.8Z" fill="#3a45a8"/>
<path d="M227.6 300.1V299.7H228.1V299.6H228.6V299.7H229.6V299.6H230.1V299.7H230.6V299.6H231.1V299.7H232.1V299.6H232.6V299.7H233.6V299.6H234.1V299.7H235.1V299.6H235.6V299.7H241.1V299.2H241.6V298.2H242.1V296.1H242.6V296.6H243.1V298.1H243.6V299.6H245.1V299.7H247.1V299.6H247.6V299.7H249.1V299.6H249.6V299.7H250.1V299.6H250.6V299.7H252.6V299.6H253.1V299.7H256.6V299.6H259.6V299.7H261.6V299.6H262.1V299.7H262.6V299.6H263.1V299.7H264.1V299.6H264.6V299.7H265.6V299.6H267.1V299.7H271.1V299.6H272.6V299.7H274.6V299.6H275.1V299.7H276.1V299.6H276.6V299.7H277.6V299.6H278.1V299.7H280.1V299.6H280.6V299.7H281.1V299.6H281.6V299.7H283.1V299.5H283.6V299.7H284.1V299.5H284.6V299.6H286.1V299.4H286.6V299.2H287.1V299.3H287.6V299.2H288.1V299.4H288.6V299H289.1V299.4H289.6V299.3H290.1V299.2H290.6V299.1H291.1V299.3H291.6V299.2H292.1V299.4H292.6V299.5H293.1V299.4H294.1V299.3H294.6V299.5H295.1V299.4H295.6V299.5H296.6V299.6H297.1V299.7H297.6V299.6H298.6V299.7H302.1V299.6H302.6V299.7H304.6V299.6H306.1V299.7H306.6V299.6H307.6V299.7H308.6V299.6H309.1V299.7H313.6V299.6H314.1V299.7H320.6V299.6H321.1V299.7H321.6V299.6H322.1V299.7H323.6V299.6H324.1V299.7H325.1V299.6H325.6V299.7H326.6V299.6H327.1V299.7H330.6V299.6H331.6V299.7H332.1V299.6H333.1V299.7H334.6V299.6H335.1V299.5H335.6V298.1H336.1V295H336.6V294.5H337.1V296.9H337.6V298.8H338.1V299.5H338.6V299.7H340.1V299.6H341.1V299.7H342.1V299.6H343.1V300.1Z" fill="#111111"/>
<path d="M227.6 314.6V314.2H241.1V313.9H241.6V313.5H242.1V311.4H242.6V312.1H243.1V313.4H243.6V314.1H244.1V314.2H335.1V313.7H335.6V310.5H336.1V306H336.6V303.7H337.1V306H337.6V310.7H338.1V312.3H338.6V313.5H339.1V314.2H343.1V314.6Z" fill="#111111"/>
<path d="M227.6 328.7V326.5H228.1V326H228.6V326.3H229.1V326.4H229.6V325.9H230.1V326.8H230.6V325.6H231.1V326.4H231.6V324.7H232.1V326H232.6V326.8H233.1V325.6H233.6V321.2H234.1V326.8H234.6V325.3H235.1V325H235.6V324.1H236.1V325.9H236.6V324.1H237.1V318.8H237.6V322.7H238.1V322.2H238.6V323.6H239.1V321.7H239.6V320.8H240.1V322.7H240.6V319.6H241.1V319.1H241.6V317.4H242.1V316.7H242.6V319.5H243.1V320.8H243.6V320H244.1V316.7H245.1V317.9H245.6V325.1H246.1V326.4H246.6V325.3H247.1V326.8H247.6V326.1H248.1V327H248.6V324.9H249.1V326H249.6V325.7H250.1V326.6H250.6V324.4H251.1V325.9H251.6V326.4H252.1V327H252.6V326.7H253.1V326.8H253.6V326H254.1V326.2H254.6V327.1H255.1V326.4H255.6V326H256.1V325.9H256.6V326H257.1V326.3H257.6V326.4H258.1V324.9H258.6V326.5H259.1V323.1H259.6V326.7H260.1V326.6H260.6V323.7H261.1V326.8H261.6V325.5H262.1V325.8H262.6V327H263.6V326.8H264.1V326.9H264.6V325.6H265.1V325.9H266.1V325.4H266.6V326.1H267.1V326H267.6V326.9H268.1V326.8H268.6V326.4H269.1V326.6H270.1V326.4H270.6V325.9H271.1V320.9H271.6V325.8H272.1V325.9H272.6V326.9H273.1V322.7H273.6V326.8H274.1V326.3H274.6V322.9H275.1V325.7H275.6V326.5H276.1V326.4H276.6V326.7H277.1V326.4H277.6V326.2H278.1V327H278.6V325.7H279.1V326.4H279.6V326.8H280.1V323.2H280.6V326.8H281.1V321H281.6V326.6H282.1V325.7H282.6V327.1H283.1V325.1H283.6V325.5H284.1V326.1H284.6V326.5H285.1V326.7H285.6V326.2H286.1V326.7H286.6V325.8H287.1V326.4H287.6V326H288.6V326.9H289.1V322.2H289.6V327.1H290.1V326.9H290.6V327.1H291.1V325.6H291.6V326.5H292.1V326.6H292.6V326.1H293.1V326.9H293.6V327H294.1V327.1H294.6V327H295.1V324.9H295.6V324.4H296.1V326.5H296.6V326.7H297.1V325.8H297.6V326.4H298.1V322.5H298.6V326.3H299.6V325.6H300.1V327.1H300.6V325.7H301.1V325.8H301.6V325.9H302.1V327.1H302.6V326.6H303.1V326.8H303.6V322.6H304.1V325H304.6V325.3H305.1V326.4H305.6V326.6H306.1V326.8H306.6V326.1H307.1V326.9H307.6V326.4H308.1V326.9H308.6V326.1H309.1V325.8H309.6V323.9H310.1V322.2H310.6V320.9H311.1V327.1H311.6V326.3H312.1V326.4H312.6V326.3H313.1V326.4H313.6V325.8H314.1V326H315.1V327.1H315.6V323.9H316.1V324.9H316.6V320.7H317.1V326.3H317.6V327.1H318.1V326.1H318.6V327.2H319.1V326.5H319.6V326.9H320.1V327H320.6V326.1H321.1V325.7H321.6V326.8H322.6V325.6H323.1V325.7H323.6V325.9H324.1V326H324.6V326.9H325.1V327.1H325.6V327H326.1V326.3H326.6V327.2H327.1V326.1H327.6V327.1H328.1V325.2H328.6V326H329.6V326.5H330.1V326H330.6V320.1H331.1V326.2H331.6V326.5H332.1V326.2H332.6V325.9H333.1V324.3H333.6V325.8H334.1V326.5H334.6V324.9H335.1V325.5H335.6V321.3H336.1V321.8H336.6V320.1H337.1V319H337.6V321.1H338.1V322.5H338.6V320.9H339.1V321.8H339.6V321.4H340.1V319.7H340.6V321H341.1V318.3H341.6V322.1H342.1V324.2H342.6V326.5H343.1V328.7Z" fill="#2c7a2e"/>
<path d="M227.6 343.3V341.4H228.1V341.7H228.6V341.2H229.1V341.1H229.6V341H230.1V340.9H230.6V341.9H231.1V341.8H231.6V341.5H232.1V341.3H232.6V341.9H233.1V341.2H233.6V341.8H234.1V341.3H235.1V341.7H235.6V341.4H236.1V340.9H236.6V340.7H237.6V338.5H238.1V339.5H238.6V336.3H239.1V339.8H239.6V337.2H240.1V338.3H240.6V338.4H241.1V336.4H241.6V338.7H242.1V338.8H242.6V335.6H243.1V334.2H243.6V334.7H244.1V338.9H244.6V339H245.1V339.1H245.6V339.3H246.1V338.4H246.6V339.8H247.1V340.2H247.6V340.4H248.1V341.9H248.6V341H249.1V340.9H249.6V342H250.1V342.1H250.6V342H251.1V341.7H251.6V340.9H252.1V339.1H252.6V341.9H253.6V341.5H254.1V340.9H255.1V342.1H255.6V342H256.1V342.1H256.6V338.7H257.1V341.6H257.6V341.2H258.1V341.7H258.6V341.1H259.1V341.2H259.6V341.8H260.1V339H260.6V341.4H261.1V342.1H261.6V341.2H262.1V341.3H262.6V341.2H263.1V341.4H263.6V341.6H264.1V341.2H264.6V341.3H265.1V342.1H265.6V341.6H266.6V341.8H267.1V341.3H267.6V341.8H268.1V336.6H268.6V341.3H269.1V341.9H269.6V340H270.1V341.9H270.6V341.5H271.1V340H271.6V341.5H272.1V341.8H272.6V341.7H273.1V340.9H273.6V341.9H274.1V340.9H274.6V341.8H275.1V339H275.6V342H276.1V341.4H276.6V341H277.1V341.3H277.6V342.1H278.1V341.5H278.6V342H279.6V341.9H280.1V341.3H280.6V341.9H281.1V341.1H281.6V341.5H282.1V341.9H282.6V342.1H283.1V341.1H283.6V341.5H284.1V341.1H284.6V341.9H285.1V341.3H285.6V341H286.1V341.5H286.6V340.9H287.1V341.3H287.6V341.7H288.1V341H288.6V341.4H289.1V341.3H289.6V341H290.6V341.5H291.1V340.8H291.6V337.6H292.1V341.1H292.6V339.3H293.1V340.9H293.6V341H294.1V341.5H294.6V341.9H295.1V341.1H295.6V341.3H296.1V341.4H296.6V341.5H297.1V341H297.6V341.4H298.1V341.2H298.6V338.9H299.1V342.1H299.6V341.9H300.1V342.1H300.6V337.5H301.1V341.9H301.6V342H302.1V341H302.6V341.3H303.1V342.1H304.1V340.9H305.1V341.2H306.1V341.4H306.6V341.9H307.1V340.9H308.1V341.3H308.6V342.1H309.1V341H309.6V341.4H310.1V341.1H310.6V341.7H311.1V342.1H311.6V337.7H312.1V341.9H312.6V341H313.1V341.4H313.6V341.3H314.1V341.2H314.6V341.1H315.1V342.1H315.6V340.4H316.1V341.4H316.6V341.9H317.1V341.4H317.6V341H318.1V341.3H318.6V339.8H319.1V341.1H319.6V341H320.1V341.6H320.6V341.8H321.1V341.4H321.6V341.8H322.1V340H322.6V341.6H323.1V342H323.6V341.2H324.1V341.6H324.6V341.3H325.1V341.5H325.6V341.6H326.1V337H326.6V341.9H327.1V338.6H327.6V340.6H328.1V341.3H328.6V341.8H329.1V341.3H329.6V341.6H330.6V341.3H331.1V342.1H331.6V341.1H332.1V340.9H332.6V341.1H333.1V340.9H333.6V338.3H334.1V339H334.6V335.6H335.1V336.6H335.6V333.8H336.1V333.4H336.6V335H337.1V338.1H337.6V339.1H338.1V336.3H338.6V336H339.1V337.3H339.6V338.8H340.1V339.2H340.6V339.8H341.1V341.9H341.6V341H342.1V341.6H342.6V340.9H343.1V343.3Z" fill="#d42424"/>
<path d="M227.6 357.4V356.9H228.1V356.8H229.1V357H230.1V356.8H230.6V356.9H231.1V356.8H232.1V356.5H232.6V356.9H233.1V357H234.1V356.8H234.6V357H235.1V356.9H235.6V357H236.6V355.9H237.1V357H237.6V356.8H238.6V356.9H239.1V356.8H239.6V356.7H240.1V356.9H240.6V356.8H241.1V356.9H241.6V356.8H242.1V356.7H242.6V356.5H243.1V356.3H244.6V355.9H245.1V356.2H245.6V356H247.1V356.6H247.6V356.7H248.1V356.5H248.6V356.8H249.6V356.9H250.1V356.7H250.6V356.9H251.1V356.6H251.6V356.8H252.1V357H253.1V356.9H254.1V356.8H255.1V356.9H256.1V356.8H256.6V356.9H257.1V356.8H257.6V356.5H258.1V356.3H258.6V356.8H259.1V357H261.1V356.7H261.6V356.9H262.6V356.3H263.1V356.9H263.6V357H264.6V356.8H265.6V357H266.6V356.9H267.6V357H268.1V356.8H268.6V356.9H269.6V355.5H270.1V357H271.1V356.8H272.1V357H272.6V356.9H273.1V357H273.6V356.3H274.1V357H274.6V356.8H275.1V356.6H275.6V356.9H276.1V356.8H276.6V357H279.1V356.9H279.6V357H281.1V356.8H282.1V356.7H282.6V356.8H283.6V356.9H284.1V356.8H285.1V356.9H285.6V356.7H286.1V356.2H286.6V356.8H287.1V356.9H287.6V355.6H288.1V356.7H289.1V356.8H289.6V355.8H290.1V356.5H290.6V356.2H291.1V355.4H291.6V356.9H292.1V355.8H292.6V356.4H293.1V356.7H293.6V356.8H294.1V356.5H294.6V356.6H296.1V356.7H296.6V356.6H297.1V355.8H297.6V356.7H298.6V356.6H299.1V356.7H299.6V356.3H300.1V356.4H300.6V356.7H301.1V356.4H301.6V356.3H302.1V356.2H302.6V356.7H303.6V356.6H304.1V356.4H305.1V356.3H305.6V356.7H306.1V356.8H306.6V356.5H307.1V356.6H307.6V356.5H308.6V356.7H309.1V356.6H309.6V355.7H310.1V356.7H310.6V356.8H311.1V356.7H313.1V356.9H313.6V356.8H314.6V356.7H315.1V356.9H316.6V357H317.1V356.8H319.1V357H319.6V356.9H321.6V357H322.1V356.9H323.1V356.6H323.6V356.9H324.6V356.8H325.1V356H325.6V356.8H326.6V357H327.1V355.5H327.6V357H328.6V356.9H329.1V357H329.6V356.9H330.1V356.8H330.6V356.7H331.1V356.8H331.6V356.9H333.6V357H334.6V354.7H335.1V356.8H336.1V357H336.6V356.9H337.6V356.8H338.6V356.6H339.1V356.9H340.1V356.8H340.6V357H341.1V355.8H341.6V356.9H342.1V356.8H342.6V357H343.1V357.4Z" fill="#8a2a9c"/>
<line x1="227.60" y1="271.50" x2="343.30" y2="271.50" stroke="#3a6ec2" stroke-width="0.7" />
<line x1="227.60" y1="285.80" x2="343.30" y2="285.80" stroke="#3a45a8" stroke-width="0.7" />
<line x1="227.60" y1="300.10" x2="343.30" y2="300.10" stroke="#111111" stroke-width="0.7" />
<line x1="227.60" y1="314.60" x2="343.30" y2="314.60" stroke="#111111" stroke-width="0.7" />
<line x1="227.60" y1="328.70" x2="343.30" y2="328.70" stroke="#2c7a2e" stroke-width="0.7" />
<line x1="227.60" y1="343.30" x2="343.30" y2="343.30" stroke="#d42424" stroke-width="0.7" />
<line x1="227.60" y1="357.40" x2="343.30" y2="357.40" stroke="#8a2a9c" stroke-width="0.7" />
<rect x="241.00" y="263.60" width="4.00" height="94.00" fill="rgba(105,105,105,0.45)" />
<text x="239.00" y="367.10" font-size="9.5" fill="#111" textLength="9.20" lengthAdjust="spacingAndGlyphs" >E1</text>
<text x="357.00" y="255.60" font-size="4.2" fill="#222" textLength="10.00" lengthAdjust="spacingAndGlyphs" >50 kb</text>
<line x1="368.30" y1="254.10" x2="479.20" y2="254.10" stroke="#111" stroke-width="1.15" />
<line x1="368.50" y1="252.40" x2="368.50" y2="255.80" stroke="#222" stroke-width="0.8" />
<line x1="479.00" y1="252.40" x2="479.00" y2="255.80" stroke="#222" stroke-width="0.8" />
<text x="481.00" y="256.00" font-size="4.2" fill="#222" textLength="8.50" lengthAdjust="spacingAndGlyphs" >mm10</text>
<text x="421.50" y="260.60" font-size="4.2" fill="#222" textLength="18.50" lengthAdjust="spacingAndGlyphs" >63,650,000</text>
<line x1="443.20" y1="257.60" x2="443.20" y2="261.00" stroke="#222" stroke-width="0.9" />
<text x="359.20" y="271.30" font-size="4.4" fill="#6fa8dc" text-anchor="end" opacity="0.75">0</text>
<line x1="360.40" y1="271.80" x2="362.80" y2="271.80" stroke="#6fa8dc" stroke-width="0.8" />
<text x="359.20" y="285.60" font-size="4.4" fill="#3a45a8" text-anchor="end" opacity="0.75">0</text>
<line x1="360.40" y1="286.10" x2="362.80" y2="286.10" stroke="#3a45a8" stroke-width="0.8" />
<text x="359.20" y="299.90" font-size="4.4" fill="#222" text-anchor="end" opacity="0.75">0</text>
<line x1="360.40" y1="300.40" x2="362.80" y2="300.40" stroke="#222" stroke-width="0.8" />
<text x="359.20" y="314.40" font-size="4.4" fill="#222" text-anchor="end" opacity="0.75">0</text>
<line x1="360.40" y1="314.90" x2="362.80" y2="314.90" stroke="#222" stroke-width="0.8" />
<text x="359.20" y="328.50" font-size="4.4" fill="#2c7a2e" text-anchor="end" opacity="0.75">0</text>
<line x1="360.40" y1="329.00" x2="362.80" y2="329.00" stroke="#2c7a2e" stroke-width="0.8" />
<text x="359.20" y="343.10" font-size="4.4" fill="#d42424" text-anchor="end" opacity="0.75">0</text>
<line x1="360.40" y1="343.60" x2="362.80" y2="343.60" stroke="#d42424" stroke-width="0.8" />
<text x="359.20" y="357.20" font-size="4.4" fill="#8a2a9c" text-anchor="end" opacity="0.75">0</text>
<line x1="360.40" y1="357.70" x2="362.80" y2="357.70" stroke="#8a2a9c" stroke-width="0.8" />
<text x="359.20" y="261.90" font-size="4.4" fill="#6fa8dc" text-anchor="end" opacity="0.75">12.26</text>
<line x1="360.40" y1="262.30" x2="362.80" y2="262.30" stroke="#6fa8dc" stroke-width="0.8" />
<text x="359.20" y="276.20" font-size="4.4" fill="#3a45a8" text-anchor="end" opacity="0.75">43.77</text>
<line x1="360.40" y1="276.60" x2="362.80" y2="276.60" stroke="#3a45a8" stroke-width="0.8" />
<text x="359.20" y="290.50" font-size="4.4" fill="#222" text-anchor="end" opacity="0.75">10</text>
<line x1="360.40" y1="290.90" x2="362.80" y2="290.90" stroke="#222" stroke-width="0.8" />
<text x="359.20" y="305.00" font-size="4.4" fill="#222" text-anchor="end" opacity="0.75">10</text>
<line x1="360.40" y1="305.40" x2="362.80" y2="305.40" stroke="#222" stroke-width="0.8" />
<text x="359.20" y="319.10" font-size="4.4" fill="#2c7a2e" text-anchor="end" opacity="0.75">50</text>
<line x1="360.40" y1="319.50" x2="362.80" y2="319.50" stroke="#2c7a2e" stroke-width="0.8" />
<text x="359.20" y="333.70" font-size="4.4" fill="#d42424" text-anchor="end" opacity="0.75">10</text>
<line x1="360.40" y1="334.10" x2="362.80" y2="334.10" stroke="#d42424" stroke-width="0.8" />
<text x="359.20" y="347.80" font-size="4.4" fill="#8a2a9c" text-anchor="end" opacity="0.75">10</text>
<line x1="360.40" y1="348.20" x2="362.80" y2="348.20" stroke="#8a2a9c" stroke-width="0.8" />
<path d="M363.5 271.5V270.3H364V270H365V269.5H365.5V269H366V267.9H366.5V269H367.5V270.2H368V269.9H368.5V270.5H369V270.2H370V269.9H370.5V270H371V270.3H371.5V270.1H372V270H372.5V270.4H373V270H374V269.8H374.5V269.9H375V267.8H375.5V266H376V263.1H376.5V264.9H377V268.3H377.5V266.8H378V267H378.5V268.6H379V268.8H379.5V270.2H380V269.9H380.5V270.1H381V270.5H381.5V270H382V270.3H382.5V270.5H383V270.4H383.5V270.5H384V270.2H384.5V270.3H385V269.9H385.5V270.3H386V270.5H387V270.1H387.5V270.5H388V269.9H388.5V270H389V270.2H390V270.3H390.5V269.9H391V270.3H391.5V270.4H392V270.1H392.5V270H393V269.9H393.5V270.2H394V270.1H394.5V269.1H395V268.6H395.5V267H396V268.4H396.5V269.3H397V269.7H397.5V269.8H398V270.1H398.5V270.3H399V269.9H399.5V270.1H400V270.2H400.5V270.3H401V270H401.5V270.3H402V270.4H402.5V270.3H403.5V270.4H404.5V270.1H405V270.4H405.5V270H406V270.1H406.5V270H407V270.1H407.5V270.5H408V270H408.5V270.5H409V270.3H409.5V270H410V270.1H410.5V269.6H411V268.9H411.5V265.8H412V264.1H412.5V263.8H413V264.3H413.5V266.3H414V267.2H414.5V267.3H415V269.2H415.5V269.5H416V270.1H416.5V270.3H417V269.9H417.5V270.2H418V270.3H418.5V270.1H419V270.2H419.5V270.5H420V270.4H420.5V270.3H421V270.1H421.5V270.2H422V270.1H423V269.5H423.5V269.7H424V269.6H424.5V269.4H425V268.6H425.5V269.3H426V269.4H426.5V269.9H427V270.2H427.5V269.6H428V270.4H428.5V270.3H429V270.4H429.5V270.3H430V270H430.5V270.5H431V269.9H431.5V270.2H433V270H433.5V270.4H434V270.2H434.5V270.4H435V270.1H435.5V270.4H436V270H436.5V270.1H437V269.3H437.5V267.6H438V265.1H438.5V265.4H439V264.1H439.5V264.4H440V266.2H440.5V267.5H441V269.5H441.5V270.2H442.5V270.1H443V270.5H443.5V270H444V270.3H445V270.2H445.5V270.1H446V270.4H446.5V270.1H447V270H447.5V270.2H448V269.2H448.5V268H449V266.6H449.5V267H450V268.1H450.5V269.9H451V270H451.5V269.8H452V269.9H452.5V270.5H453V269.9H453.5V270.4H454V270.2H454.5V270.4H455.5V270.1H456V270H456.5V270.3H457V270H458V269.4H458.5V267.4H459V261.6H459.5V262H460V262.6H460.5V268H461V269.8H461.5V268.6H462V266.7H462.5V263.6H463V265.5H463.5V266H464V269.3H464.5V269.6H465V270.1H465.5V270.3H466V270.4H466.5V270.1H467V269.9H468V269.3H468.5V269.7H469V269.2H469.5V269.4H470V269.2H470.5V268.4H471V268.7H471.5V269.1H472V269.7H472.5V269.9H473V270.3H473.5V270.4H474V270H474.5V270.4H475V270H475.5V269.9H476V270.5H476.5V270.3H477V270.4H478V269.9H478.5V270.1H479.5V270.3H480V270.1H480.5V270.2H481V270.4H481.5V270.2H482V269.6H482.5V268.7H483V267.9H483.5V268.3H484V269.7H484.5V270.1H485V270H485.5V270.1H486V270.5H486.5V270.2H487V270.1H487.5V270H488V270.4H489V270.1H489.5V270H490V270.5H490.5V270.3H491V270.1H491.5V270.3H492V270.5H492.5V269.9H493V270.1H493.5V270.4H494V270.5H494.5V270.3H495V270.1H496V269.9H496.5V270.5H497V270.1H497.5V270H498V270.4H499V269.9H499.5V270.1H500V269.9H500.5V270.4H501V270H501.5V269.9H502V270.2H502.5V270.5H503V269.9H503.5V270H504V269.9H504.5V269.6H505V268.5H505.5V268.1H506V267.9H506.5V267.2H507V269.1H507.5V269.9H508V270H508.5V270.4H509V270H509.5V269.9H510.5V270.3H511V270.4H511.5V271.5Z" fill="#3a6ec2"/>
<path d="M363.5 285.8V285.2H364V285.3H365.5V285.4H366.5V285.3H367.5V285.2H368V285.3H368.5V285.2H369V285.4H369.5V285.3H370V285.4H371.5V285.2H372V285.3H373V285.2H374V285.3H374.5V285H375V284.3H375.5V281.1H376V278.8H376.5V281.8H377V284H377.5V285.1H378V285.4H378.5V285.2H379V285.4H381V285.2H381.5V285.3H382V285.2H382.5V285.4H384V285.3H384.5V285.2H385V285.3H385.5V285.2H386V285.4H387.5V285.2H388V285.3H388.5V285.2H389.5V285.4H390.5V285.3H391V285.4H391.5V285.3H392.5V285.4H393V285.2H393.5V285.4H394V285H394.5V284.9H395V283.5H395.5V283.6H396V284.2H396.5V284.6H397V285H397.5V285.3H399V285.4H399.5V285.3H401V285.2H401.5V285.3H402V285.2H402.5V285.3H403V285.4H403.5V285.3H405V285.2H405.5V285.3H406.5V285.4H407V285.2H408V285.3H408.5V285.2H409V285.3H409.5V285.4H410.5V285.2H411V284.6H411.5V282H412V278.5H412.5V279.3H413V282.6H413.5V284.4H414V285.2H415.5V285.3H416V285.2H416.5V285.4H417V285.2H417.5V285.3H420V285.2H420.5V285.3H421V285.2H421.5V285.3H422V285.4H422.5V285.3H423V285.2H423.5V285.3H425.5V285.4H426V285.2H426.5V285.3H427V285.2H427.5V285.4H428V285.2H428.5V285.3H429V285.2H431V285.3H431.5V285.2H432.5V285.3H433V285H433.5V284.1H434V282.5H435V283.8H435.5V285.2H437V285.3H437.5V285.2H438V284.8H438.5V283.4H439V281.8H439.5V282.8H440V284.2H440.5V285.1H441V285.3H442V285.2H443V285.4H443.5V285.3H444.5V285.4H446.5V285.3H448V285.2H448.5V285.3H449V285.4H449.5V285.3H450.5V285.2H451V284.7H451.5V283.5H452V283.1H452.5V284.2H453V284.5H453.5V285.1H454V285.4H455V285.2H456.5V285.3H457V285.2H457.5V285.3H458V284.8H458.5V283.3H459V279.5H459.5V278.8H460V281.6H460.5V283.9H461V285.3H463.5V285.2H464V285.3H466V285.4H467V285.2H468V285.3H468.5V285.2H469V285.3H470V285.2H470.5V285.4H471V285.3H471.5V285.2H472V285.4H472.5V285.3H473V285.4H474V285.3H474.5V285.2H475.5V285.3H477.5V285.4H478V285.3H478.5V285.2H479V285.3H481V285.2H481.5V285.3H482.5V285.4H483V285.2H484V285.3H484.5V285.4H485V285.3H486V285.4H486.5V285.2H487V285.4H487.5V285.2H488.5V285.3H489.5V285.2H490V285.3H490.5V285.2H491.5V285.4H492V285.2H492.5V285.3H493V285.2H493.5V285.4H494V285.2H494.5V285.3H496V285.4H496.5V285.3H497V285.2H497.5V285.3H498.5V285.2H499V285.3H499.5V285.4H500V285.3H500.5V285.4H501V285.2H501.5V285.3H503V285.4H503.5V285.3H504V285.2H504.5V285.3H505.5V285.4H506V285.3H506.5V285.2H507V285.4H508V285.3H508.5V285.2H509.5V285.4H510V285.2H510.5V285.3H511V285.4H511.5V285.8Z" fill="#3a45a8"/>
<path d="M363.5 300.1V299.7H364V299.5H364.5V299.7H365V299.5H366V299.7H366.5V299.6H367V299.7H368V299.6H368.5V299.5H369V299.4H369.5V298.3H370V296.7H370.5V297.1H371V298.9H371.5V299.5H372V299.6H374V299.7H374.5V299.5H375V299.1H375.5V296.7H376V295.2H376.5V296.2H377V298.8H377.5V299.5H378V299.6H379.5V299.7H380V299.5H381V299.6H381.5V299.5H382V299.6H384.5V299.7H385V299.6H385.5V299.7H386V299.6H387V299.7H388V299.6H389.5V299.5H390V299.6H391V299.7H392V299.6H392.5V299.7H393V299.5H393.5V299.6H394V299.7H395V299.6H395.5V299.7H398V299.6H398.5V299.7H399V299.6H400V299.7H400.5V299.6H401V299.7H402V299.6H403.5V299.7H404V299.5H404.5V299.7H405.5V299.6H406V299.7H410V299.6H411V299.4H411.5V298.6H412V297H412.5V297.4H413V298.2H413.5V299.3H414V299.7H415V299.6H415.5V299.7H416V299.6H416.5V299.7H417V299.6H417.5V299.7H418V299.6H418.5V299.7H420V299.5H420.5V299.6H421.5V299.5H422V299.7H422.5V299.6H423V299.7H423.5V299.6H424V299.7H425V299.6H426.5V299.7H427.5V299.6H428V299.7H429V299.6H429.5V299.7H432V299.5H432.5V299.6H433V299.7H433.5V299.5H434V299.6H435V299.7H436.5V299.6H437V299.5H437.5V298.7H438V294.5H438.5V291.6H439V292.7H439.5V295.8H440V295.6H440.5V297.5H441V298.9H441.5V299.4H442V299.7H443.5V299.6H444V299.7H445V299.6H446V299.7H446.5V299.6H447V299.7H447.5V299.6H448V299.7H448.5V299.6H449V299.7H449.5V299.6H450V299.7H450.5V299.6H451V299.7H451.5V299.6H452.5V299.7H453V299.5H453.5V299.6H454V299.7H455V299.6H455.5V299.7H456V299.6H456.5V299.7H458V299.5H458.5V298.5H459V295.6H459.5V294.6H460V296H460.5V299.1H461V299.5H461.5V299.7H462V299.6H462.5V299.7H463.5V299.6H464V299.7H464.5V299.6H465V299.7H466V299.6H467V299.5H467.5V299.7H468.5V299.6H469V299.7H469.5V299.6H470.5V299.5H471V299.6H472V299.7H472.5V299.6H473V299.7H473.5V299.6H474.5V299.7H475.5V299.6H476V299.7H478V299.6H480V299.4H480.5V298.6H481V297.6H481.5V298.2H482V298.7H482.5V299.5H483V299.6H483.5V299.7H484.5V299.6H485V299.7H486V299.6H487V299.7H487.5V299.6H488.5V299.7H489.5V299.6H490V299.5H490.5V299.6H491V299.7H491.5V299.6H492.5V299.7H493.5V299.6H495V299.7H496V299.6H496.5V299.7H498V299.6H498.5V299.7H499V299.6H500V299.7H501V299.5H501.5V299.7H503V299.6H504V299.1H504.5V299H505V298.4H505.5V298.8H506V299.2H506.5V299.4H507V299.6H507.5V299.7H510.5V299.6H511.5V300.1Z" fill="#111111"/>
<path d="M363.5 314.6V314.2H364.5V314.1H365V314.2H366V314.1H366.5V314.2H367V314.1H367.5V314.2H368V314.1H368.5V314.2H369V313.8H369.5V311.8H370V311.3H370.5V310.9H371V313H371.5V313.9H372V314.1H372.5V314H373.5V314.2H374V314.1H375V313.9H375.5V312.6H376V311.5H376.5V312.5H377V313.6H377.5V314H378V314.2H378.5V314.1H379V314.2H380V314.1H380.5V314.2H381V314.1H382V314.2H383V314.1H383.5V314.2H385V314.1H386.5V314.2H387.5V314.1H388V314.2H389.5V314.1H390V314.2H393.5V314.1H395V314.2H396.5V314.1H397.5V314.2H398V314.1H398.5V314.2H402V314.1H403.5V314.2H404V314.1H404.5V314.2H405V314.1H407V314.2H409V314.1H409.5V314.2H410.5V314.1H411.5V313.7H412V312.7H412.5V312.6H413V313.3H413.5V313.9H414V314.1H415V314.2H416V314.1H418.5V314.2H420V314.1H421.5V314.2H422V314.1H422.5V314.2H423V314.1H423.5V314.2H424V314.1H424.5V314H425V314.2H425.5V314.1H426V314.2H427V314.1H427.5V314.2H429V314.1H430V314.2H432V314.1H432.5V314.2H433.5V314.1H434V314.2H435V314.1H435.5V314.2H437V313.9H437.5V312.7H438V309.6H438.5V303H439V303.7H439.5V308.1H440V309.8H440.5V311.9H441V313.6H441.5V314H442V314.2H442.5V314.1H443V314.2H443.5V314.1H444V314.2H444.5V314.1H445V314.2H445.5V314.1H446V314H446.5V314.2H447V314.1H447.5V314.2H448V314.1H449V314.2H452V314.1H453V314.2H455.5V314.1H456V314H456.5V314.1H457.5V314.2H458V314H458.5V312.6H459V311.4H459.5V308.5H460V311.4H460.5V313.5H461V314H461.5V314.1H463V314.2H464.5V314H465V314.2H465.5V314H466V314.1H466.5V314H467V314.2H467.5V314.1H468V314.2H469V314.1H470V314.2H471V314.1H473V314.2H473.5V314.1H474V314.2H475V314.1H475.5V314.2H477V314.1H477.5V314.2H479.5V314.1H480V314H480.5V313.4H481V312.7H481.5V313.1H482V313.3H482.5V313.9H483V314.1H483.5V314.2H484V314.1H484.5V314.2H485V314.1H485.5V314.2H486V314.1H486.5V314.2H487.5V314.1H489.5V314H490V314.2H492V314H492.5V314.1H493.5V314.2H495V314H495.5V314.2H496.5V314.1H497V314.2H498V314.1H501.5V314.2H503V314.1H503.5V314.2H504V314H504.5V313.5H505V312.8H505.5V313.2H506V313.8H506.5V314.2H507V314.1H507.5V314H508V314.2H508.5V314.1H509V314.2H509.5V314.1H510V314.2H511.5V314.6Z" fill="#111111"/>
<path d="M363.5 328.7V324.8H364V326.1H364.5V326H365V323.6H365.5V326.8H366V322.7H366.5V326H367V326.7H367.5V326.1H368V325.8H369V325.5H369.5V325.2H370V325.6H370.5V324.7H371V325.5H371.5V325.2H372V323.3H372.5V324.7H373V324.6H373.5V324.2H374V322H374.5V319.9H375V322.4H375.5V319.6H376V320.4H376.5V323.7H377V320.2H377.5V321.3H378V324.1H378.5V321.3H379V326.4H379.5V325.3H380V326.6H380.5V321.9H381V322.4H381.5V326.9H382V324.6H382.5V326.1H383V326.7H383.5V325.7H384V326.8H384.5V322.4H385V326.9H385.5V325.7H386V326.1H386.5V326.8H387V326.6H387.5V325.4H388V325.9H388.5V323.4H389V325.8H389.5V326.8H390V326.1H390.5V325.5H391V326.6H391.5V326.3H392V325.3H392.5V325.5H393V326.5H393.5V325.4H394V327.1H394.5V324.5H395V325.6H396V326H396.5V326.6H397V325.4H397.5V326.1H398V325.5H399V325.9H399.5V326.2H400V325.9H400.5V326.8H401V326.5H401.5V325.4H402V326.8H402.5V324.1H403V325.5H403.5V323H404V326.6H404.5V325.5H405V325.7H405.5V326.3H406V326.2H406.5V326.5H407V324.3H407.5V325.9H408.5V326.5H409V325.4H409.5V324.6H410V323H410.5V323.7H411V324H411.5V319.3H412V316.7H412.5V316.8H413V320.8H414V323.8H414.5V324.7H415V326.8H415.5V326.2H416V321.5H416.5V326.2H417V325.4H417.5V321.8H418V326.9H418.5V325.9H419V326.9H419.5V326.7H420V320.3H420.5V323.5H421.5V327H422V326.2H422.5V327H423V326.8H423.5V324.9H424V326.4H424.5V326.3H425V322.7H425.5V326.6H426V326H426.5V326.8H427V323H427.5V323.6H428V320.6H428.5V326.8H429V325.4H429.5V325.7H430V325.6H430.5V326.2H431V325.9H431.5V326.9H432V325.3H432.5V326.9H433V326H433.5V326.4H434V324.4H434.5V325H435.5V319.5H436V322.8H436.5V324.8H437V323.4H437.5V322.9H438V321.6H438.5V324.1H439V321.3H439.5V323.2H440V323H440.5V324.5H441V325.1H441.5V323.6H442V325H442.5V326H443V326.7H443.5V325.3H444V325.9H444.5V324.3H445V326.7H445.5V326.5H446V325.5H446.5V325.6H447V326.1H447.5V326.5H448V323.6H448.5V325.8H449V326.7H449.5V325.5H450V322H450.5V326H451V326.8H451.5V325.4H452V326.4H452.5V325.9H453V325.6H453.5V325.5H454V326.6H454.5V325.4H455V327H455.5V325.1H456V325.8H456.5V325.7H457V320H457.5V325.7H458V324H458.5V322.7H459V320.4H459.5V322.1H460V319.9H460.5V320H461V322.3H461.5V325.6H462V323.9H462.5V326.7H463V326.1H463.5V325.7H464V325.9H464.5V327H465V323.3H465.5V325.3H466V323.8H466.5V325.5H467V326.7H467.5V320.9H468V326.6H468.5V325.7H469V325.6H469.5V326.7H470V325.8H470.5V325.3H471V325.6H471.5V325.9H472V325.1H472.5V326.2H473V326.3H473.5V325.5H474V326.5H474.5V326.4H475V325.4H475.5V326.8H476V326.2H476.5V326H477V326.6H477.5V327H478V325.7H478.5V325.9H479V325.6H479.5V325.7H480V322.7H480.5V320.1H481V316.7H482.5V323.6H483V326.1H483.5V325.9H484V325.5H484.5V326.4H485V323H485.5V325.7H486V326.7H486.5V326.8H487V325.5H487.5V326.8H488V326.6H488.5V326.7H489V326.1H489.5V325.8H490V325.7H490.5V327H491V325.6H491.5V325.9H492V326.4H492.5V326.3H493V326.4H493.5V325.2H494.5V325.6H495V324.6H495.5V326.2H496V324H496.5V325.1H497V324.8H497.5V324.7H498V324.2H498.5V323.5H499V324.7H499.5V323.6H500V323.7H500.5V324.3H501V326H501.5V324.8H502V325.4H502.5V326.4H503V324.7H503.5V325.9H504V326.2H504.5V326.6H505V326.9H505.5V326.7H506V325.3H506.5V325.4H507V326.3H507.5V326.5H508V326.1H509V325.9H509.5V326.9H510V326.1H510.5V325.6H511V325.9H511.5V328.7Z" fill="#2c7a2e"/>
<path d="M363.5 343.3V341.4H364V341.3H364.5V341.7H365V340.9H365.5V341.7H366V341H366.5V341.5H367V341.1H367.5V340.9H368V339.7H368.5V336.5H369V339.8H369.5V340.6H370V341.7H370.5V340.3H371V340.6H371.5V340.2H372V339.7H372.5V337.1H373V339.3H373.5V337.2H374V339.7H374.5V338.8H375V337.4H375.5V337.5H376V337H376.5V337.7H377V339.7H377.5V340H378V340.2H378.5V341H379V336.3H379.5V340.3H380V341H380.5V341.1H381V341.9H381.5V338.6H382V341.3H382.5V341H383V340.9H383.5V341.2H384V341H384.5V341.3H385V341.7H385.5V341.9H386V341.6H386.5V341.2H387V338.5H387.5V341.8H388V339.9H388.5V341H389V340H389.5V340.7H390V341.3H390.5V341.1H391V341.9H391.5V340.5H392V341.7H392.5V341.8H393V341.3H393.5V340.9H394V341.8H394.5V341.1H395V341.3H395.5V341.2H396V341.7H396.5V341.2H397V341.9H397.5V341.7H398V339.9H398.5V341.1H399.5V340.9H400V341.6H400.5V340.6H401V341.7H401.5V341.4H402V340.8H402.5V338.9H403V340.9H403.5V341.6H404V341.9H404.5V341.2H405V340.8H405.5V341H406V341.2H406.5V340.7H407V341.5H407.5V340.6H408V339.7H408.5V341.5H409V339.8H409.5V339.9H410V337.6H410.5V339.4H411V338.1H411.5V336.4H412V335.6H412.5V335.4H413V337.7H413.5V338.3H414V338.6H414.5V339.6H415V341.4H415.5V341.3H416V341.1H416.5V341.8H417V340.9H417.5V341.6H418V341.9H418.5V341.5H419V340.7H419.5V338.8H420V341.9H420.5V341.3H421V341.2H421.5V341.9H422V341.3H423V341.6H423.5V341.4H424V340.7H424.5V341.1H425V341.2H425.5V341.1H426V341.4H426.5V341.3H427V340.8H427.5V340.2H428V341.7H428.5V339.5H429V341.9H429.5V341.1H430V340.5H430.5V340.9H431V341.1H431.5V340.5H432V341H432.5V340.4H433V339.3H433.5V338.2H434V337.1H434.5V337.4H435V333H435.5V338.5H436V337.3H436.5V338.3H437V336.3H437.5V339.6H438V337.9H438.5V337.6H439V339.4H439.5V337.7H440V333.6H440.5V335.8H441V332.5H441.5V334H442V335.3H442.5V337.6H443V338H443.5V340.1H444V339.8H444.5V341.7H445V341.3H445.5V341.8H446V338H446.5V341.7H447V341.9H447.5V340.7H448V341.2H448.5V341.6H449V339.1H449.5V340.7H450V341.7H450.5V340.7H451V341.2H451.5V340.6H452V340.8H452.5V341.3H453V341.9H453.5V341.8H454V340.8H454.5V341.2H455V341.9H455.5V340.7H456V340.4H456.5V339.4H457V339.6H457.5V339.3H458V336.6H458.5V337H459V335.9H459.5V335.5H460V336.8H460.5V334H461V335H461.5V337.9H462V336.5H462.5V339.7H463V338.8H463.5V331.8H464V336.6H464.5V334.7H465V337.5H465.5V337.1H466V340.4H466.5V340.3H467V341.2H467.5V340.8H468V340.5H468.5V340.9H469V336.9H469.5V341.2H470V341.4H470.5V341.6H471V341.3H471.5V340.8H472V341.3H472.5V339.8H473V341.7H473.5V341.2H474V340.8H474.5V341.1H475V340H475.5V341.4H476V340.9H476.5V340.8H477V341H478.5V341.4H479V341H479.5V341.4H480V341H480.5V340H481V337.9H481.5V339.7H482V337.9H482.5V338.9H483V336.8H483.5V340.2H484V340.9H484.5V340.6H485.5V341.6H486V341.1H486.5V341.2H487V341.1H487.5V340.9H488V340.8H488.5V340.7H489V341.6H489.5V341.7H490V341.5H490.5V339.9H491V341.8H491.5V340.7H492V340H492.5V340.8H493V341.3H493.5V340.3H494V341.9H494.5V341.2H495V339.2H495.5V341.7H496V341.3H496.5V341.2H497V337H497.5V341.7H498V340.8H498.5V341.2H499V341.1H499.5V340.9H500V340.8H500.5V341.6H501V340.7H501.5V341.2H502V341.1H502.5V341.8H503V341.1H503.5V341.4H504V340.9H504.5V341.2H505V341H505.5V341.3H506V340.9H506.5V341.6H507V341.8H507.5V341.5H508V340.8H508.5V340.9H509V341.6H509.5V341H510.5V341.6H511V341.9H511.5V343.3Z" fill="#d42424"/>
<path d="M363.5 357.4V356.8H364V356.9H364.5V356.7H365V356.8H366V356.6H366.5V356.8H367.5V356.9H368V356.8H368.5V356.9H369V356.7H371.5V356.2H372V356.9H372.5V356.8H373V356.9H374V356.8H375V356.7H375.5V356.9H376V356.8H376.5V355.6H377V356.9H378.5V356.7H379.5V356.8H380V356.9H380.5V356.7H381V356.9H381.5V356.7H383V356.9H384.5V356.7H385.5V356.8H386V356.9H387V356.7H387.5V356.9H388V356.5H388.5V356.8H389V355.7H389.5V356.7H390V356.9H391V356.8H391.5V356.9H392V356.7H392.5V356.9H393V356.7H394V356H394.5V356.9H395.5V356.7H396V356.8H396.5V356.7H397V356.9H397.5V356.8H398.5V356.7H399V356.9H399.5V356.8H400V356.7H401V356.9H401.5V356.8H402V356.9H403V356.8H403.5V356.7H404V356.8H404.5V356.9H405.5V356.7H406V356.8H406.5V356.7H408V356.8H408.5V356.9H409V356.8H410.5V356.9H411V356.8H411.5V356.7H412V356.8H412.5V356.9H413V356.7H413.5V356.8H414.5V356.7H415V356.9H416V356.8H416.5V356.9H417V356.7H417.5V356.8H418V356.7H418.5V356.8H419V356.7H419.5V356.8H420.5V356.9H421V356.7H422V356.9H423.5V356.7H424V356.8H424.5V356.7H425V356H425.5V356.8H426V356.9H426.5V356H427V356.7H429V356.2H429.5V356.8H430V356.7H431V356.9H431.5V356.8H434V356.9H434.5V356.7H435V356.2H435.5V355H436V350.6H436.5V345.7H437V347.4H437.5V348.9H438V351.1H438.5V353.7H439V355.8H439.5V356.5H440V356.7H440.5V356.8H441.5V356.4H442V356.9H442.5V356.7H443.5V356.8H444.5V356.9H445V356.7H445.5V356.8H446V356.1H446.5V356.7H447V356.9H447.5V356.8H448V356.7H448.5V356.8H449V356.7H449.5V356.9H450V356.7H451V356.8H452V356.9H452.5V356.8H453V356.9H454V356.8H455V356.7H455.5V356.9H456V356.8H457V356.9H457.5V356.7H458V356.8H459V356.9H459.5V356.7H460V356.8H460.5V356.7H462.5V356.8H463V356.9H463.5V356.7H464V356.8H465V356.9H466V356.7H466.5V356.5H467V356.9H467.5V356.8H468.5V356.7H469V356.9H469.5V356.7H470V356.9H470.5V356.8H471V356.7H471.5V356.9H472V356.7H472.5V356.8H473V356.9H474V356.7H474.5V356.8H476.5V356.9H477.5V356.8H478.5V356.7H480V356.9H480.5V356.8H481V356.6H481.5V356.9H483V356.8H483.5V356.9H484V356.3H484.5V356.7H485V356H485.5V356.9H487V356.7H487.5V356.8H488V356.4H488.5V356.9H489V356.3H489.5V356.9H490V356.7H490.5V356.9H491V356.8H491.5V356.7H492.5V356.9H493V356.8H493.5V356.7H494V356.9H494.5V356.8H495V356.7H495.5V356.8H496.5V356.9H498V356.8H499V356.9H499.5V356.8H500V356.7H502V356.9H502.5V356.8H503V356.7H503.5V356.8H504V356.7H504.5V356.9H505V356.7H505.5V356.8H506V356.7H507V356.9H508V356.7H509V356.9H510V356.7H511V356.9H511.5V357.4Z" fill="#8a2a9c"/>
<line x1="363.50" y1="271.50" x2="511.50" y2="271.50" stroke="#3a6ec2" stroke-width="0.7" />
<line x1="363.50" y1="285.80" x2="511.50" y2="285.80" stroke="#3a45a8" stroke-width="0.7" />
<line x1="363.50" y1="300.10" x2="511.50" y2="300.10" stroke="#111111" stroke-width="0.7" />
<line x1="363.50" y1="314.60" x2="511.50" y2="314.60" stroke="#111111" stroke-width="0.7" />
<line x1="363.50" y1="328.70" x2="511.50" y2="328.70" stroke="#2c7a2e" stroke-width="0.7" />
<line x1="363.50" y1="343.30" x2="511.50" y2="343.30" stroke="#d42424" stroke-width="0.7" />
<line x1="363.50" y1="357.40" x2="511.50" y2="357.40" stroke="#8a2a9c" stroke-width="0.7" />
<rect x="374.60" y="263.60" width="3.10" height="93.80" fill="rgba(105,105,105,0.45)" />
<rect x="411.60" y="263.60" width="3.60" height="93.80" fill="rgba(105,105,105,0.45)" />
<rect x="458.20" y="263.60" width="3.50" height="93.80" fill="rgba(105,105,105,0.45)" />
<rect x="504.30" y="263.60" width="3.40" height="93.80" fill="rgba(105,105,105,0.45)" />
<text x="372.70" y="367.10" font-size="9.5" fill="#111" textLength="9.60" lengthAdjust="spacingAndGlyphs" >E2</text>
<text x="409.00" y="367.10" font-size="9.5" fill="#111" textLength="9.50" lengthAdjust="spacingAndGlyphs" >E3</text>
<text x="456.00" y="367.10" font-size="9.5" fill="#111" textLength="10.00" lengthAdjust="spacingAndGlyphs" >E4</text>
<text x="500.70" y="367.10" font-size="9.5" fill="#111" textLength="10.20" lengthAdjust="spacingAndGlyphs" >E5</text>
<text x="8.00" y="388.80" font-size="13.5" fill="#000" font-weight="bold" textLength="8.80" lengthAdjust="spacingAndGlyphs" >C</text>
<text x="27.80" y="427.20" font-size="10.3" fill="#222" text-anchor="middle" textLength="68.00" lengthAdjust="spacingAndGlyphs" transform="rotate(-90 27.80 427.20)" stroke="#222" stroke-width="0.2">Relative luciferase</text>
<text x="40.00" y="427.20" font-size="10.3" fill="#222" text-anchor="middle" textLength="26.00" lengthAdjust="spacingAndGlyphs" transform="rotate(-90 40.00 427.20)" stroke="#222" stroke-width="0.2">activity</text>
<text x="27.80" y="550.00" font-size="10.3" fill="#222" text-anchor="middle" textLength="68.00" lengthAdjust="spacingAndGlyphs" transform="rotate(-90 27.80 550.00)" stroke="#222" stroke-width="0.2">Relative luciferase</text>
<text x="40.00" y="550.00" font-size="10.3" fill="#222" text-anchor="middle" textLength="26.00" lengthAdjust="spacingAndGlyphs" transform="rotate(-90 40.00 550.00)" stroke="#222" stroke-width="0.2">activity</text>
<line x1="65.80" y1="400.40" x2="65.80" y2="454.70" stroke="#1a1a1a" stroke-width="1.1" />
<line x1="65.30" y1="454.20" x2="116.30" y2="454.20" stroke="#1a1a1a" stroke-width="1.1" />
<line x1="62.50" y1="403.40" x2="65.80" y2="403.40" stroke="#1a1a1a" stroke-width="1.0" />
<text x="58.90" y="406.30" font-size="8.3" fill="#222" text-anchor="end" textLength="12.10" lengthAdjust="spacingAndGlyphs" stroke="#222" stroke-width="0.22">0.4</text>
<line x1="62.50" y1="416.10" x2="65.80" y2="416.10" stroke="#1a1a1a" stroke-width="1.0" />
<text x="58.90" y="419.00" font-size="8.3" fill="#222" text-anchor="end" textLength="12.10" lengthAdjust="spacingAndGlyphs" stroke="#222" stroke-width="0.22">0.3</text>
<line x1="62.50" y1="428.80" x2="65.80" y2="428.80" stroke="#1a1a1a" stroke-width="1.0" />
<text x="58.90" y="431.70" font-size="8.3" fill="#222" text-anchor="end" textLength="12.10" lengthAdjust="spacingAndGlyphs" stroke="#222" stroke-width="0.22">0.2</text>
<line x1="62.50" y1="441.30" x2="65.80" y2="441.30" stroke="#1a1a1a" stroke-width="1.0" />
<text x="58.90" y="444.20" font-size="8.3" fill="#222" text-anchor="end" textLength="12.10" lengthAdjust="spacingAndGlyphs" stroke="#222" stroke-width="0.22">0.1</text>
<line x1="62.50" y1="454.00" x2="65.80" y2="454.00" stroke="#1a1a1a" stroke-width="1.0" />
<text x="58.90" y="456.90" font-size="8.3" fill="#222" text-anchor="end" textLength="12.10" lengthAdjust="spacingAndGlyphs" stroke="#222" stroke-width="0.22">0.0</text>
<line x1="78.70" y1="454.20" x2="78.70" y2="457.50" stroke="#1a1a1a" stroke-width="1.0" />
<line x1="104.00" y1="454.20" x2="104.00" y2="457.50" stroke="#1a1a1a" stroke-width="1.0" />
<text x="81.90" y="464.90" font-size="9.4" fill="#222" text-anchor="end" textLength="29.50" lengthAdjust="spacingAndGlyphs" transform="rotate(-45 81.90 464.90)" stroke="#222" stroke-width="0.2">cDNA3</text>
<text x="106.40" y="465.10" font-size="9.4" fill="#222" text-anchor="end" textLength="20.80" lengthAdjust="spacingAndGlyphs" transform="rotate(-45 106.40 465.10)" stroke="#222" stroke-width="0.2">EBF1</text>
<text x="77.00" y="388.50" font-size="10.7" fill="#111" textLength="26.30" lengthAdjust="spacingAndGlyphs" stroke="#111" stroke-width="0.15">Myc5′</text>
<path d="M78.60,405.40L78.60,401.30L104.30,401.30L104.30,405.40" fill="none" stroke="#1a1a1a" stroke-width="1.0"/>
<text x="86.40" y="400.60" font-size="8.0" fill="#111" font-weight="bold" textLength="10.10" lengthAdjust="spacingAndGlyphs" >***</text>
<line x1="70.00" y1="443.60" x2="86.90" y2="443.60" stroke="#333" stroke-width="0.9" />
<line x1="78.50" y1="440.30" x2="78.50" y2="446.70" stroke="#333" stroke-width="0.9" />
<line x1="74.00" y1="440.30" x2="83.00" y2="440.30" stroke="#333" stroke-width="0.9" />
<line x1="74.00" y1="446.70" x2="83.00" y2="446.70" stroke="#333" stroke-width="0.9" />
<circle cx="73.10" cy="441.00" r="2.2" fill="#bb0029"/>
<circle cx="84.00" cy="443.50" r="2.2" fill="#bb0029"/>
<circle cx="78.50" cy="446.90" r="2.2" fill="#bb0029"/>
<rect x="96.10" y="412.40" width="4.00" height="4.00" fill="#2e5b9e" />
<rect x="107.40" y="413.60" width="4.00" height="4.00" fill="#2e5b9e" />
<rect x="101.75" y="416.10" width="4.00" height="4.00" fill="#2e5b9e" />
<line x1="95.60" y1="416.20" x2="112.50" y2="416.20" stroke="#333" stroke-width="0.9" />
<line x1="103.90" y1="414.60" x2="103.90" y2="417.90" stroke="#333" stroke-width="0.9" />
<line x1="99.40" y1="414.60" x2="108.40" y2="414.60" stroke="#333" stroke-width="0.9" />
<line x1="99.40" y1="417.90" x2="108.40" y2="417.90" stroke="#333" stroke-width="0.9" />
<line x1="146.20" y1="400.40" x2="146.20" y2="454.70" stroke="#1a1a1a" stroke-width="1.1" />
<line x1="145.70" y1="454.20" x2="196.70" y2="454.20" stroke="#1a1a1a" stroke-width="1.1" />
<line x1="142.90" y1="402.60" x2="146.20" y2="402.60" stroke="#1a1a1a" stroke-width="1.0" />
<text x="139.30" y="405.50" font-size="8.3" fill="#222" text-anchor="end" textLength="12.10" lengthAdjust="spacingAndGlyphs" stroke="#222" stroke-width="0.22">0.3</text>
<line x1="142.90" y1="419.80" x2="146.20" y2="419.80" stroke="#1a1a1a" stroke-width="1.0" />
<text x="139.30" y="422.70" font-size="8.3" fill="#222" text-anchor="end" textLength="12.10" lengthAdjust="spacingAndGlyphs" stroke="#222" stroke-width="0.22">0.2</text>
<line x1="142.90" y1="437.00" x2="146.20" y2="437.00" stroke="#1a1a1a" stroke-width="1.0" />
<text x="139.30" y="439.90" font-size="8.3" fill="#222" text-anchor="end" textLength="12.10" lengthAdjust="spacingAndGlyphs" stroke="#222" stroke-width="0.22">0.1</text>
<line x1="142.90" y1="454.00" x2="146.20" y2="454.00" stroke="#1a1a1a" stroke-width="1.0" />
<text x="139.30" y="456.90" font-size="8.3" fill="#222" text-anchor="end" textLength="12.10" lengthAdjust="spacingAndGlyphs" stroke="#222" stroke-width="0.22">0.0</text>
<line x1="159.10" y1="454.20" x2="159.10" y2="457.50" stroke="#1a1a1a" stroke-width="1.0" />
<line x1="184.40" y1="454.20" x2="184.40" y2="457.50" stroke="#1a1a1a" stroke-width="1.0" />
<text x="162.30" y="464.90" font-size="9.4" fill="#222" text-anchor="end" textLength="29.50" lengthAdjust="spacingAndGlyphs" transform="rotate(-45 162.30 464.90)" stroke="#222" stroke-width="0.2">cDNA3</text>
<text x="186.80" y="465.10" font-size="9.4" fill="#222" text-anchor="end" textLength="20.80" lengthAdjust="spacingAndGlyphs" transform="rotate(-45 186.80 465.10)" stroke="#222" stroke-width="0.2">EBF1</text>
<text x="137.50" y="388.50" font-size="10.7" fill="#111" textLength="68.00" lengthAdjust="spacingAndGlyphs" stroke="#111" stroke-width="0.15">MycE1-1/E1-2</text>
<path d="M158.40,404.50L158.40,400.40L184.70,400.40L184.70,404.50" fill="none" stroke="#1a1a1a" stroke-width="1.0"/>
<text x="168.20" y="399.80" font-size="8.0" fill="#111" font-weight="bold" textLength="6.80" lengthAdjust="spacingAndGlyphs" >**</text>
<line x1="150.10" y1="450.70" x2="167.10" y2="450.70" stroke="#333" stroke-width="0.9" />
<circle cx="153.20" cy="450.70" r="2.2" fill="#bb0029"/>
<circle cx="158.60" cy="450.70" r="2.2" fill="#bb0029"/>
<circle cx="164.00" cy="450.70" r="2.2" fill="#bb0029"/>
<rect x="182.10" y="407.80" width="4.00" height="4.00" fill="#2e5b9e" />
<rect x="179.30" y="420.30" width="4.00" height="4.00" fill="#2e5b9e" />
<rect x="185.00" y="420.30" width="4.00" height="4.00" fill="#2e5b9e" />
<line x1="175.00" y1="417.80" x2="192.60" y2="417.80" stroke="#333" stroke-width="0.9" />
<line x1="184.10" y1="411.30" x2="184.10" y2="424.60" stroke="#333" stroke-width="0.9" />
<line x1="179.00" y1="411.30" x2="189.20" y2="411.30" stroke="#333" stroke-width="0.9" />
<line x1="179.00" y1="424.60" x2="189.20" y2="424.60" stroke="#333" stroke-width="0.9" />
<line x1="240.30" y1="399.80" x2="240.30" y2="454.70" stroke="#1a1a1a" stroke-width="1.1" />
<line x1="239.80" y1="454.20" x2="290.80" y2="454.20" stroke="#1a1a1a" stroke-width="1.1" />
<line x1="237.00" y1="403.00" x2="240.30" y2="403.00" stroke="#1a1a1a" stroke-width="1.0" />
<text x="233.40" y="405.90" font-size="8.3" fill="#222" text-anchor="end" textLength="16.65" lengthAdjust="spacingAndGlyphs" stroke="#222" stroke-width="0.22">0.15</text>
<line x1="237.00" y1="420.00" x2="240.30" y2="420.00" stroke="#1a1a1a" stroke-width="1.0" />
<text x="233.40" y="422.90" font-size="8.3" fill="#222" text-anchor="end" textLength="16.65" lengthAdjust="spacingAndGlyphs" stroke="#222" stroke-width="0.22">0.10</text>
<line x1="237.00" y1="437.00" x2="240.30" y2="437.00" stroke="#1a1a1a" stroke-width="1.0" />
<text x="233.40" y="439.90" font-size="8.3" fill="#222" text-anchor="end" textLength="16.65" lengthAdjust="spacingAndGlyphs" stroke="#222" stroke-width="0.22">0.05</text>
<line x1="237.00" y1="454.00" x2="240.30" y2="454.00" stroke="#1a1a1a" stroke-width="1.0" />
<text x="233.40" y="456.90" font-size="8.3" fill="#222" text-anchor="end" textLength="16.65" lengthAdjust="spacingAndGlyphs" stroke="#222" stroke-width="0.22">0.00</text>
<line x1="253.20" y1="454.20" x2="253.20" y2="457.50" stroke="#1a1a1a" stroke-width="1.0" />
<line x1="278.50" y1="454.20" x2="278.50" y2="457.50" stroke="#1a1a1a" stroke-width="1.0" />
<text x="256.40" y="464.90" font-size="9.4" fill="#222" text-anchor="end" textLength="29.50" lengthAdjust="spacingAndGlyphs" transform="rotate(-45 256.40 464.90)" stroke="#222" stroke-width="0.2">cDNA3</text>
<text x="280.90" y="465.10" font-size="9.4" fill="#222" text-anchor="end" textLength="20.80" lengthAdjust="spacingAndGlyphs" transform="rotate(-45 280.90 465.10)" stroke="#222" stroke-width="0.2">EBF1</text>
<text x="249.25" y="388.50" font-size="10.7" fill="#111" textLength="32.50" lengthAdjust="spacingAndGlyphs" stroke="#111" stroke-width="0.15">MycE2</text>
<path d="M252.60,404.40L252.60,400.30L278.80,400.30L278.80,404.40" fill="none" stroke="#1a1a1a" stroke-width="1.0"/>
<text x="258.70" y="399.80" font-size="8.0" fill="#111" font-weight="bold" textLength="13.80" lengthAdjust="spacingAndGlyphs" >****</text>
<line x1="245.00" y1="446.50" x2="261.50" y2="446.50" stroke="#333" stroke-width="0.9" />
<circle cx="247.20" cy="446.40" r="2.2" fill="#bb0029"/>
<circle cx="252.60" cy="446.60" r="2.2" fill="#bb0029"/>
<circle cx="258.60" cy="446.60" r="2.2" fill="#bb0029"/>
<rect x="270.50" y="405.50" width="4.00" height="4.00" fill="#2e5b9e" />
<rect x="275.50" y="408.00" width="4.00" height="4.00" fill="#2e5b9e" />
<rect x="281.00" y="406.80" width="4.00" height="4.00" fill="#2e5b9e" />
<line x1="270.00" y1="408.80" x2="286.00" y2="408.80" stroke="#333" stroke-width="0.9" />
<line x1="277.60" y1="407.40" x2="277.60" y2="410.20" stroke="#333" stroke-width="0.9" />
<line x1="273.60" y1="407.40" x2="281.60" y2="407.40" stroke="#333" stroke-width="0.9" />
<line x1="273.60" y1="410.20" x2="281.60" y2="410.20" stroke="#333" stroke-width="0.9" />
<line x1="320.00" y1="400.40" x2="320.00" y2="454.70" stroke="#1a1a1a" stroke-width="1.1" />
<line x1="319.50" y1="454.20" x2="370.50" y2="454.20" stroke="#1a1a1a" stroke-width="1.1" />
<line x1="316.70" y1="402.60" x2="320.00" y2="402.60" stroke="#1a1a1a" stroke-width="1.0" />
<text x="313.10" y="405.50" font-size="8.3" fill="#222" text-anchor="end" textLength="12.10" lengthAdjust="spacingAndGlyphs" stroke="#222" stroke-width="0.22">0.8</text>
<line x1="316.70" y1="415.70" x2="320.00" y2="415.70" stroke="#1a1a1a" stroke-width="1.0" />
<text x="313.10" y="418.60" font-size="8.3" fill="#222" text-anchor="end" textLength="12.10" lengthAdjust="spacingAndGlyphs" stroke="#222" stroke-width="0.22">0.6</text>
<line x1="316.70" y1="428.70" x2="320.00" y2="428.70" stroke="#1a1a1a" stroke-width="1.0" />
<text x="313.10" y="431.60" font-size="8.3" fill="#222" text-anchor="end" textLength="12.10" lengthAdjust="spacingAndGlyphs" stroke="#222" stroke-width="0.22">0.4</text>
<line x1="316.70" y1="441.30" x2="320.00" y2="441.30" stroke="#1a1a1a" stroke-width="1.0" />
<text x="313.10" y="444.20" font-size="8.3" fill="#222" text-anchor="end" textLength="12.10" lengthAdjust="spacingAndGlyphs" stroke="#222" stroke-width="0.22">0.2</text>
<line x1="316.70" y1="454.00" x2="320.00" y2="454.00" stroke="#1a1a1a" stroke-width="1.0" />
<text x="313.10" y="456.90" font-size="8.3" fill="#222" text-anchor="end" textLength="12.10" lengthAdjust="spacingAndGlyphs" stroke="#222" stroke-width="0.22">0.0</text>
<line x1="332.90" y1="454.20" x2="332.90" y2="457.50" stroke="#1a1a1a" stroke-width="1.0" />
<line x1="358.20" y1="454.20" x2="358.20" y2="457.50" stroke="#1a1a1a" stroke-width="1.0" />
<text x="336.10" y="464.90" font-size="9.4" fill="#222" text-anchor="end" textLength="29.50" lengthAdjust="spacingAndGlyphs" transform="rotate(-45 336.10 464.90)" stroke="#222" stroke-width="0.2">cDNA3</text>
<text x="360.60" y="465.10" font-size="9.4" fill="#222" text-anchor="end" textLength="20.80" lengthAdjust="spacingAndGlyphs" transform="rotate(-45 360.60 465.10)" stroke="#222" stroke-width="0.2">EBF1</text>
<text x="329.50" y="388.50" font-size="10.7" fill="#111" textLength="32.50" lengthAdjust="spacingAndGlyphs" stroke="#111" stroke-width="0.15">MycE3</text>
<path d="M332.60,404.40L332.60,400.30L358.80,400.30L358.80,404.40" fill="none" stroke="#1a1a1a" stroke-width="1.0"/>
<text x="338.70" y="399.80" font-size="8.0" fill="#111" font-weight="bold" textLength="13.80" lengthAdjust="spacingAndGlyphs" >****</text>
<line x1="325.00" y1="447.60" x2="341.00" y2="447.60" stroke="#333" stroke-width="0.9" />
<circle cx="327.00" cy="447.20" r="2.2" fill="#bb0029"/>
<circle cx="332.60" cy="448.00" r="2.2" fill="#bb0029"/>
<circle cx="338.60" cy="448.00" r="2.2" fill="#bb0029"/>
<rect x="350.50" y="405.00" width="4.00" height="4.00" fill="#2e5b9e" />
<rect x="355.50" y="408.50" width="4.00" height="4.00" fill="#2e5b9e" />
<rect x="360.50" y="406.30" width="4.00" height="4.00" fill="#2e5b9e" />
<line x1="350.00" y1="408.70" x2="366.00" y2="408.70" stroke="#333" stroke-width="0.9" />
<line x1="357.60" y1="406.80" x2="357.60" y2="410.80" stroke="#333" stroke-width="0.9" />
<line x1="353.60" y1="406.80" x2="361.60" y2="406.80" stroke="#333" stroke-width="0.9" />
<line x1="353.60" y1="410.80" x2="361.60" y2="410.80" stroke="#333" stroke-width="0.9" />
<line x1="65.80" y1="523.60" x2="65.80" y2="577.90" stroke="#1a1a1a" stroke-width="1.1" />
<line x1="65.30" y1="577.40" x2="116.30" y2="577.40" stroke="#1a1a1a" stroke-width="1.1" />
<line x1="62.50" y1="526.30" x2="65.80" y2="526.30" stroke="#1a1a1a" stroke-width="1.0" />
<text x="58.90" y="529.20" font-size="8.3" fill="#222" text-anchor="end" textLength="12.10" lengthAdjust="spacingAndGlyphs" stroke="#222" stroke-width="0.22">1.5</text>
<line x1="62.50" y1="543.30" x2="65.80" y2="543.30" stroke="#1a1a1a" stroke-width="1.0" />
<text x="58.90" y="546.20" font-size="8.3" fill="#222" text-anchor="end" textLength="12.10" lengthAdjust="spacingAndGlyphs" stroke="#222" stroke-width="0.22">1.0</text>
<line x1="62.50" y1="560.10" x2="65.80" y2="560.10" stroke="#1a1a1a" stroke-width="1.0" />
<text x="58.90" y="563.00" font-size="8.3" fill="#222" text-anchor="end" textLength="12.10" lengthAdjust="spacingAndGlyphs" stroke="#222" stroke-width="0.22">0.5</text>
<line x1="62.50" y1="577.10" x2="65.80" y2="577.10" stroke="#1a1a1a" stroke-width="1.0" />
<text x="58.90" y="580.00" font-size="8.3" fill="#222" text-anchor="end" textLength="12.10" lengthAdjust="spacingAndGlyphs" stroke="#222" stroke-width="0.22">0.0</text>
<line x1="78.70" y1="577.40" x2="78.70" y2="580.70" stroke="#1a1a1a" stroke-width="1.0" />
<line x1="104.00" y1="577.40" x2="104.00" y2="580.70" stroke="#1a1a1a" stroke-width="1.0" />
<text x="81.90" y="588.10" font-size="9.4" fill="#222" text-anchor="end" textLength="29.50" lengthAdjust="spacingAndGlyphs" transform="rotate(-45 81.90 588.10)" stroke="#222" stroke-width="0.2">cDNA3</text>
<text x="106.40" y="588.30" font-size="9.4" fill="#222" text-anchor="end" textLength="20.80" lengthAdjust="spacingAndGlyphs" transform="rotate(-45 106.40 588.30)" stroke="#222" stroke-width="0.2">EBF1</text>
<text x="75.00" y="506.40" font-size="10.7" fill="#111" textLength="32.50" lengthAdjust="spacingAndGlyphs" stroke="#111" stroke-width="0.15">MycE4</text>
<path d="M78.60,526.80L78.60,522.60L104.30,522.60L104.30,526.80" fill="none" stroke="#1a1a1a" stroke-width="1.0"/>
<text x="87.60" y="522.00" font-size="8.0" fill="#111" font-weight="bold" textLength="6.80" lengthAdjust="spacingAndGlyphs" >**</text>
<line x1="70.00" y1="572.80" x2="87.00" y2="572.80" stroke="#333" stroke-width="0.9" />
<line x1="78.60" y1="571.30" x2="78.60" y2="574.40" stroke="#333" stroke-width="0.9" />
<line x1="75.10" y1="571.30" x2="82.10" y2="571.30" stroke="#333" stroke-width="0.9" />
<line x1="75.10" y1="574.40" x2="82.10" y2="574.40" stroke="#333" stroke-width="0.9" />
<circle cx="72.50" cy="571.30" r="2.2" fill="#bb0029"/>
<circle cx="78.80" cy="573.80" r="2.2" fill="#bb0029"/>
<circle cx="84.50" cy="573.30" r="2.2" fill="#bb0029"/>
<rect x="98.80" y="540.00" width="4.00" height="4.00" fill="#2e5b9e" />
<rect x="105.00" y="545.00" width="4.00" height="4.00" fill="#2e5b9e" />
<rect x="101.80" y="553.00" width="4.00" height="4.00" fill="#2e5b9e" />
<line x1="96.30" y1="548.30" x2="112.50" y2="548.30" stroke="#333" stroke-width="0.9" />
<line x1="103.90" y1="541.30" x2="103.90" y2="555.50" stroke="#333" stroke-width="0.9" />
<line x1="99.65" y1="541.30" x2="108.15" y2="541.30" stroke="#333" stroke-width="0.9" />
<line x1="99.65" y1="555.50" x2="108.15" y2="555.50" stroke="#333" stroke-width="0.9" />
<line x1="145.80" y1="523.60" x2="145.80" y2="577.90" stroke="#1a1a1a" stroke-width="1.1" />
<line x1="145.30" y1="577.40" x2="196.30" y2="577.40" stroke="#1a1a1a" stroke-width="1.1" />
<line x1="142.50" y1="526.30" x2="145.80" y2="526.30" stroke="#1a1a1a" stroke-width="1.0" />
<text x="138.90" y="529.20" font-size="8.3" fill="#222" text-anchor="end" textLength="12.10" lengthAdjust="spacingAndGlyphs" stroke="#222" stroke-width="0.22">1.0</text>
<line x1="142.50" y1="536.30" x2="145.80" y2="536.30" stroke="#1a1a1a" stroke-width="1.0" />
<text x="138.90" y="539.20" font-size="8.3" fill="#222" text-anchor="end" textLength="12.10" lengthAdjust="spacingAndGlyphs" stroke="#222" stroke-width="0.22">0.8</text>
<line x1="142.50" y1="546.30" x2="145.80" y2="546.30" stroke="#1a1a1a" stroke-width="1.0" />
<text x="138.90" y="549.20" font-size="8.3" fill="#222" text-anchor="end" textLength="12.10" lengthAdjust="spacingAndGlyphs" stroke="#222" stroke-width="0.22">0.6</text>
<line x1="142.50" y1="556.80" x2="145.80" y2="556.80" stroke="#1a1a1a" stroke-width="1.0" />
<text x="138.90" y="559.70" font-size="8.3" fill="#222" text-anchor="end" textLength="12.10" lengthAdjust="spacingAndGlyphs" stroke="#222" stroke-width="0.22">0.4</text>
<line x1="142.50" y1="566.80" x2="145.80" y2="566.80" stroke="#1a1a1a" stroke-width="1.0" />
<text x="138.90" y="569.70" font-size="8.3" fill="#222" text-anchor="end" textLength="12.10" lengthAdjust="spacingAndGlyphs" stroke="#222" stroke-width="0.22">0.2</text>
<line x1="142.50" y1="577.10" x2="145.80" y2="577.10" stroke="#1a1a1a" stroke-width="1.0" />
<text x="138.90" y="580.00" font-size="8.3" fill="#222" text-anchor="end" textLength="12.10" lengthAdjust="spacingAndGlyphs" stroke="#222" stroke-width="0.22">0.0</text>
<line x1="158.70" y1="577.40" x2="158.70" y2="580.70" stroke="#1a1a1a" stroke-width="1.0" />
<line x1="184.00" y1="577.40" x2="184.00" y2="580.70" stroke="#1a1a1a" stroke-width="1.0" />
<text x="161.90" y="588.10" font-size="9.4" fill="#222" text-anchor="end" textLength="29.50" lengthAdjust="spacingAndGlyphs" transform="rotate(-45 161.90 588.10)" stroke="#222" stroke-width="0.2">cDNA3</text>
<text x="186.40" y="588.30" font-size="9.4" fill="#222" text-anchor="end" textLength="20.80" lengthAdjust="spacingAndGlyphs" transform="rotate(-45 186.40 588.30)" stroke="#222" stroke-width="0.2">EBF1</text>
<text x="155.00" y="506.40" font-size="10.7" fill="#111" textLength="32.50" lengthAdjust="spacingAndGlyphs" stroke="#111" stroke-width="0.15">MycE5</text>
<path d="M157.60,526.80L157.60,522.60L183.80,522.60L183.80,526.80" fill="none" stroke="#1a1a1a" stroke-width="1.0"/>
<text x="165.50" y="522.00" font-size="8.0" fill="#111" font-weight="bold" textLength="10.50" lengthAdjust="spacingAndGlyphs" >***</text>
<line x1="151.00" y1="570.60" x2="167.50" y2="570.60" stroke="#333" stroke-width="0.9" />
<line x1="158.80" y1="569.80" x2="158.80" y2="571.50" stroke="#333" stroke-width="0.9" />
<line x1="155.30" y1="569.80" x2="162.30" y2="569.80" stroke="#333" stroke-width="0.9" />
<line x1="155.30" y1="571.50" x2="162.30" y2="571.50" stroke="#333" stroke-width="0.9" />
<circle cx="153.30" cy="569.50" r="2.2" fill="#bb0029"/>
<circle cx="158.80" cy="571.30" r="2.2" fill="#bb0029"/>
<circle cx="164.50" cy="571.30" r="2.2" fill="#bb0029"/>
<rect x="181.80" y="528.50" width="4.00" height="4.00" fill="#2e5b9e" />
<rect x="185.00" y="536.80" width="4.00" height="4.00" fill="#2e5b9e" />
<rect x="178.80" y="541.30" width="4.00" height="4.00" fill="#2e5b9e" />
<line x1="175.50" y1="537.00" x2="193.00" y2="537.00" stroke="#333" stroke-width="0.9" />
<line x1="183.90" y1="530.30" x2="183.90" y2="543.80" stroke="#333" stroke-width="0.9" />
<line x1="179.65" y1="530.30" x2="188.15" y2="530.30" stroke="#333" stroke-width="0.9" />
<line x1="179.65" y1="543.80" x2="188.15" y2="543.80" stroke="#333" stroke-width="0.9" />
</svg>
</body></html>
